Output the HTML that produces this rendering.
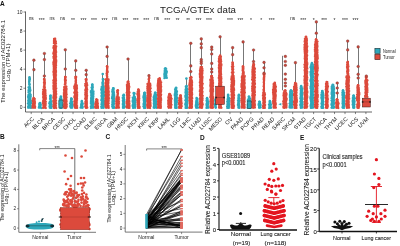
<!DOCTYPE html>
<html><head><meta charset="utf-8"><style>
html,body{margin:0;padding:0;background:#fff;width:400px;height:246px;overflow:hidden}
svg{display:block}
text{font-family:"Liberation Sans",sans-serif}
svg{will-change:transform}
</style></head><body>
<svg width="400" height="246" viewBox="0 0 400 246">
<rect width="400" height="246" fill="#fff"/>
<text x="0.00" y="5.90" font-size="6.5" font-weight="bold" fill="#111" >A</text>
<text x="198.00" y="13.20" font-size="9.7" text-anchor="middle" textLength="76" lengthAdjust="spacingAndGlyphs" fill="#1a1a1a" >TCGA/GTEx data</text>
<line x1="25.50" y1="11.50" x2="25.50" y2="112.00" stroke="#333" stroke-width="0.75"/>
<line x1="25.50" y1="112.00" x2="372.00" y2="112.00" stroke="#333" stroke-width="0.75"/>
<line x1="23.50" y1="107.30" x2="25.50" y2="107.30" stroke="#333" stroke-width="0.6"/>
<text x="22.50" y="109.00" font-size="4.9" text-anchor="end" fill="#1a1a1a" >0</text>
<line x1="23.50" y1="88.24" x2="25.50" y2="88.24" stroke="#333" stroke-width="0.6"/>
<text x="22.50" y="89.94" font-size="4.9" text-anchor="end" fill="#1a1a1a" >2</text>
<line x1="23.50" y1="69.18" x2="25.50" y2="69.18" stroke="#333" stroke-width="0.6"/>
<text x="22.50" y="70.88" font-size="4.9" text-anchor="end" fill="#1a1a1a" >4</text>
<line x1="23.50" y1="50.12" x2="25.50" y2="50.12" stroke="#333" stroke-width="0.6"/>
<text x="22.50" y="51.82" font-size="4.9" text-anchor="end" fill="#1a1a1a" >6</text>
<line x1="23.50" y1="31.06" x2="25.50" y2="31.06" stroke="#333" stroke-width="0.6"/>
<text x="22.50" y="32.76" font-size="4.9" text-anchor="end" fill="#1a1a1a" >8</text>
<line x1="23.50" y1="12.00" x2="25.50" y2="12.00" stroke="#333" stroke-width="0.6"/>
<text x="22.50" y="13.70" font-size="4.9" text-anchor="end" fill="#1a1a1a" >10</text>
<g transform="translate(4.8,61.4) rotate(-90)"><text x="0" y="0" font-size="6.0" text-anchor="middle" fill="#1a1a1a" font-family="Liberation Sans, sans-serif" textLength="83" lengthAdjust="spacingAndGlyphs">The expression of AC022784.1</text></g>
<g transform="translate(9.7,62.3) rotate(-90)"><text x="0" y="0" font-size="6.0" text-anchor="middle" fill="#1a1a1a" font-family="Liberation Sans, sans-serif" textLength="37.5" lengthAdjust="spacingAndGlyphs">Log<tspan font-size="4.1" dy="1.1">2</tspan><tspan dy="-1.1"> (TPM+1)</tspan></text></g>
<line x1="31.20" y1="112.00" x2="31.20" y2="114.10" stroke="#333" stroke-width="0.6"/>
<g transform="translate(34.30,119.5) rotate(-45)"><text x="0" y="0" font-size="5.6" text-anchor="end" fill="#111" font-family="Liberation Sans, sans-serif">ACC</text></g>
<text x="31.20" y="20.20" font-size="4.8" text-anchor="middle" fill="#222" >ns</text>
<line x1="41.66" y1="112.00" x2="41.66" y2="114.10" stroke="#333" stroke-width="0.6"/>
<g transform="translate(44.76,119.5) rotate(-45)"><text x="0" y="0" font-size="5.6" text-anchor="end" fill="#111" font-family="Liberation Sans, sans-serif">BLCA</text></g>
<text x="41.66" y="21.60" font-size="5.0" text-anchor="middle" fill="#222" >***</text>
<line x1="52.12" y1="112.00" x2="52.12" y2="114.10" stroke="#333" stroke-width="0.6"/>
<g transform="translate(55.22,119.5) rotate(-45)"><text x="0" y="0" font-size="5.6" text-anchor="end" fill="#111" font-family="Liberation Sans, sans-serif">BRCA</text></g>
<text x="52.12" y="20.20" font-size="4.8" text-anchor="middle" fill="#222" >ns</text>
<line x1="62.58" y1="112.00" x2="62.58" y2="114.10" stroke="#333" stroke-width="0.6"/>
<g transform="translate(65.68,119.5) rotate(-45)"><text x="0" y="0" font-size="5.6" text-anchor="end" fill="#111" font-family="Liberation Sans, sans-serif">CESC</text></g>
<text x="62.58" y="20.20" font-size="4.8" text-anchor="middle" fill="#222" >ns</text>
<line x1="73.04" y1="112.00" x2="73.04" y2="114.10" stroke="#333" stroke-width="0.6"/>
<g transform="translate(76.14,119.5) rotate(-45)"><text x="0" y="0" font-size="5.6" text-anchor="end" fill="#111" font-family="Liberation Sans, sans-serif">CHOL</text></g>
<text x="73.04" y="21.60" font-size="5.0" text-anchor="middle" fill="#222" >**</text>
<line x1="83.50" y1="112.00" x2="83.50" y2="114.10" stroke="#333" stroke-width="0.6"/>
<g transform="translate(86.60,119.5) rotate(-45)"><text x="0" y="0" font-size="5.6" text-anchor="end" fill="#111" font-family="Liberation Sans, sans-serif">COAD</text></g>
<text x="83.50" y="21.60" font-size="5.0" text-anchor="middle" fill="#222" >***</text>
<line x1="93.96" y1="112.00" x2="93.96" y2="114.10" stroke="#333" stroke-width="0.6"/>
<g transform="translate(97.06,119.5) rotate(-45)"><text x="0" y="0" font-size="5.6" text-anchor="end" fill="#111" font-family="Liberation Sans, sans-serif">DLBC</text></g>
<text x="93.96" y="21.60" font-size="5.0" text-anchor="middle" fill="#222" >***</text>
<line x1="104.42" y1="112.00" x2="104.42" y2="114.10" stroke="#333" stroke-width="0.6"/>
<g transform="translate(107.52,119.5) rotate(-45)"><text x="0" y="0" font-size="5.6" text-anchor="end" fill="#111" font-family="Liberation Sans, sans-serif">ESCA</text></g>
<text x="104.42" y="21.60" font-size="5.0" text-anchor="middle" fill="#222" >***</text>
<line x1="114.88" y1="112.00" x2="114.88" y2="114.10" stroke="#333" stroke-width="0.6"/>
<g transform="translate(117.98,119.5) rotate(-45)"><text x="0" y="0" font-size="5.6" text-anchor="end" fill="#111" font-family="Liberation Sans, sans-serif">GBM</text></g>
<text x="114.88" y="20.20" font-size="4.8" text-anchor="middle" fill="#222" >ns</text>
<line x1="125.34" y1="112.00" x2="125.34" y2="114.10" stroke="#333" stroke-width="0.6"/>
<g transform="translate(128.44,119.5) rotate(-45)"><text x="0" y="0" font-size="5.6" text-anchor="end" fill="#111" font-family="Liberation Sans, sans-serif">HNSC</text></g>
<text x="125.34" y="21.60" font-size="5.0" text-anchor="middle" fill="#222" >***</text>
<line x1="135.80" y1="112.00" x2="135.80" y2="114.10" stroke="#333" stroke-width="0.6"/>
<g transform="translate(138.90,119.5) rotate(-45)"><text x="0" y="0" font-size="5.6" text-anchor="end" fill="#111" font-family="Liberation Sans, sans-serif">KICH</text></g>
<text x="135.80" y="21.60" font-size="5.0" text-anchor="middle" fill="#222" >***</text>
<line x1="146.26" y1="112.00" x2="146.26" y2="114.10" stroke="#333" stroke-width="0.6"/>
<g transform="translate(149.36,119.5) rotate(-45)"><text x="0" y="0" font-size="5.6" text-anchor="end" fill="#111" font-family="Liberation Sans, sans-serif">KIRC</text></g>
<text x="146.26" y="21.60" font-size="5.0" text-anchor="middle" fill="#222" >***</text>
<line x1="156.72" y1="112.00" x2="156.72" y2="114.10" stroke="#333" stroke-width="0.6"/>
<g transform="translate(159.82,119.5) rotate(-45)"><text x="0" y="0" font-size="5.6" text-anchor="end" fill="#111" font-family="Liberation Sans, sans-serif">KIRP</text></g>
<text x="156.72" y="20.20" font-size="4.8" text-anchor="middle" fill="#222" >ns</text>
<line x1="167.18" y1="112.00" x2="167.18" y2="114.10" stroke="#333" stroke-width="0.6"/>
<g transform="translate(170.28,119.5) rotate(-45)"><text x="0" y="0" font-size="5.6" text-anchor="end" fill="#111" font-family="Liberation Sans, sans-serif">LAML</text></g>
<text x="167.18" y="21.60" font-size="5.0" text-anchor="middle" fill="#222" >***</text>
<line x1="177.64" y1="112.00" x2="177.64" y2="114.10" stroke="#333" stroke-width="0.6"/>
<g transform="translate(180.74,119.5) rotate(-45)"><text x="0" y="0" font-size="5.6" text-anchor="end" fill="#111" font-family="Liberation Sans, sans-serif">LGG</text></g>
<text x="177.64" y="21.60" font-size="5.0" text-anchor="middle" fill="#222" >**</text>
<line x1="188.10" y1="112.00" x2="188.10" y2="114.10" stroke="#333" stroke-width="0.6"/>
<g transform="translate(191.20,119.5) rotate(-45)"><text x="0" y="0" font-size="5.6" text-anchor="end" fill="#111" font-family="Liberation Sans, sans-serif">LIHC</text></g>
<text x="188.10" y="21.60" font-size="5.0" text-anchor="middle" fill="#222" >**</text>
<line x1="198.56" y1="112.00" x2="198.56" y2="114.10" stroke="#333" stroke-width="0.6"/>
<g transform="translate(201.66,119.5) rotate(-45)"><text x="0" y="0" font-size="5.6" text-anchor="end" fill="#111" font-family="Liberation Sans, sans-serif">LUAD</text></g>
<text x="198.56" y="21.60" font-size="5.0" text-anchor="middle" fill="#222" >***</text>
<line x1="209.02" y1="112.00" x2="209.02" y2="114.10" stroke="#333" stroke-width="0.6"/>
<g transform="translate(212.12,119.5) rotate(-45)"><text x="0" y="0" font-size="5.6" text-anchor="end" fill="#111" font-family="Liberation Sans, sans-serif">LUSC</text></g>
<text x="209.02" y="21.60" font-size="5.0" text-anchor="middle" fill="#222" >***</text>
<line x1="219.48" y1="112.00" x2="219.48" y2="114.10" stroke="#333" stroke-width="0.6"/>
<g transform="translate(222.58,119.5) rotate(-45)"><text x="0" y="0" font-size="5.6" text-anchor="end" fill="#111" font-family="Liberation Sans, sans-serif">MESO</text></g>
<line x1="229.94" y1="112.00" x2="229.94" y2="114.10" stroke="#333" stroke-width="0.6"/>
<g transform="translate(233.04,119.5) rotate(-45)"><text x="0" y="0" font-size="5.6" text-anchor="end" fill="#111" font-family="Liberation Sans, sans-serif">OV</text></g>
<text x="229.94" y="21.60" font-size="5.0" text-anchor="middle" fill="#222" >***</text>
<line x1="240.40" y1="112.00" x2="240.40" y2="114.10" stroke="#333" stroke-width="0.6"/>
<g transform="translate(243.50,119.5) rotate(-45)"><text x="0" y="0" font-size="5.6" text-anchor="end" fill="#111" font-family="Liberation Sans, sans-serif">PAAD</text></g>
<text x="240.40" y="21.60" font-size="5.0" text-anchor="middle" fill="#222" >***</text>
<line x1="250.86" y1="112.00" x2="250.86" y2="114.10" stroke="#333" stroke-width="0.6"/>
<g transform="translate(253.96,119.5) rotate(-45)"><text x="0" y="0" font-size="5.6" text-anchor="end" fill="#111" font-family="Liberation Sans, sans-serif">PCPG</text></g>
<text x="250.86" y="21.60" font-size="5.0" text-anchor="middle" fill="#222" >*</text>
<line x1="261.32" y1="112.00" x2="261.32" y2="114.10" stroke="#333" stroke-width="0.6"/>
<g transform="translate(264.42,119.5) rotate(-45)"><text x="0" y="0" font-size="5.6" text-anchor="end" fill="#111" font-family="Liberation Sans, sans-serif">PRAD</text></g>
<text x="261.32" y="21.60" font-size="5.0" text-anchor="middle" fill="#222" >*</text>
<line x1="271.78" y1="112.00" x2="271.78" y2="114.10" stroke="#333" stroke-width="0.6"/>
<g transform="translate(274.88,119.5) rotate(-45)"><text x="0" y="0" font-size="5.6" text-anchor="end" fill="#111" font-family="Liberation Sans, sans-serif">READ</text></g>
<text x="271.78" y="21.60" font-size="5.0" text-anchor="middle" fill="#222" >***</text>
<line x1="282.24" y1="112.00" x2="282.24" y2="114.10" stroke="#333" stroke-width="0.6"/>
<g transform="translate(285.34,119.5) rotate(-45)"><text x="0" y="0" font-size="5.6" text-anchor="end" fill="#111" font-family="Liberation Sans, sans-serif">SARC</text></g>
<line x1="292.70" y1="112.00" x2="292.70" y2="114.10" stroke="#333" stroke-width="0.6"/>
<g transform="translate(295.80,119.5) rotate(-45)"><text x="0" y="0" font-size="5.6" text-anchor="end" fill="#111" font-family="Liberation Sans, sans-serif">SKCM</text></g>
<text x="292.70" y="20.20" font-size="4.8" text-anchor="middle" fill="#222" >ns</text>
<line x1="303.16" y1="112.00" x2="303.16" y2="114.10" stroke="#333" stroke-width="0.6"/>
<g transform="translate(306.26,119.5) rotate(-45)"><text x="0" y="0" font-size="5.6" text-anchor="end" fill="#111" font-family="Liberation Sans, sans-serif">STAD</text></g>
<text x="303.16" y="21.60" font-size="5.0" text-anchor="middle" fill="#222" >***</text>
<line x1="313.62" y1="112.00" x2="313.62" y2="114.10" stroke="#333" stroke-width="0.6"/>
<g transform="translate(316.72,119.5) rotate(-45)"><text x="0" y="0" font-size="5.6" text-anchor="end" fill="#111" font-family="Liberation Sans, sans-serif">TGCT</text></g>
<text x="313.62" y="21.60" font-size="5.0" text-anchor="middle" fill="#222" >*</text>
<line x1="324.08" y1="112.00" x2="324.08" y2="114.10" stroke="#333" stroke-width="0.6"/>
<g transform="translate(327.18,119.5) rotate(-45)"><text x="0" y="0" font-size="5.6" text-anchor="end" fill="#111" font-family="Liberation Sans, sans-serif">THCA</text></g>
<text x="324.08" y="21.60" font-size="5.0" text-anchor="middle" fill="#222" >***</text>
<line x1="334.54" y1="112.00" x2="334.54" y2="114.10" stroke="#333" stroke-width="0.6"/>
<g transform="translate(337.64,119.5) rotate(-45)"><text x="0" y="0" font-size="5.6" text-anchor="end" fill="#111" font-family="Liberation Sans, sans-serif">THYM</text></g>
<text x="334.54" y="21.60" font-size="5.0" text-anchor="middle" fill="#222" >*</text>
<line x1="345.00" y1="112.00" x2="345.00" y2="114.10" stroke="#333" stroke-width="0.6"/>
<g transform="translate(348.10,119.5) rotate(-45)"><text x="0" y="0" font-size="5.6" text-anchor="end" fill="#111" font-family="Liberation Sans, sans-serif">UCEC</text></g>
<text x="345.00" y="21.60" font-size="5.0" text-anchor="middle" fill="#222" >***</text>
<line x1="355.46" y1="112.00" x2="355.46" y2="114.10" stroke="#333" stroke-width="0.6"/>
<g transform="translate(358.56,119.5) rotate(-45)"><text x="0" y="0" font-size="5.6" text-anchor="end" fill="#111" font-family="Liberation Sans, sans-serif">UCS</text></g>
<text x="355.46" y="21.60" font-size="5.0" text-anchor="middle" fill="#222" >***</text>
<line x1="365.92" y1="112.00" x2="365.92" y2="114.10" stroke="#333" stroke-width="0.6"/>
<g transform="translate(369.02,119.5) rotate(-45)"><text x="0" y="0" font-size="5.6" text-anchor="end" fill="#111" font-family="Liberation Sans, sans-serif">UVM</text></g>
<line x1="33.50" y1="60.20" x2="33.50" y2="98.00" stroke="#777" stroke-width="1.0"/>
<rect x="29.05" y="81.50" width="0.90" height="3.90" fill="#2ea7ba"/>
<rect x="28.80" y="79.00" width="1.4" height="3" fill="#2ea7ba"/>
<circle cx="29.13" cy="84.83" r="1.1" fill="#2ea7ba"/>
<circle cx="29.86" cy="84.79" r="1.1" fill="#2ea7ba"/>
<circle cx="29.28" cy="83.43" r="1.1" fill="#2ea7ba"/>
<circle cx="29.44" cy="83.50" r="1.1" fill="#2ea7ba"/>
<circle cx="28.99" cy="81.97" r="1.1" fill="#2ea7ba"/>
<circle cx="29.39" cy="81.80" r="1.1" fill="#2ea7ba"/>
<circle cx="29.45" cy="80.66" r="1.1" fill="#2ea7ba"/>
<circle cx="29.24" cy="80.36" r="1.1" fill="#2ea7ba"/>
<circle cx="29.78" cy="79.22" r="1.1" fill="#2ea7ba"/>
<circle cx="29.37" cy="78.95" r="1.1" fill="#2ea7ba"/>
<circle cx="29.79" cy="79.00" r="1.265" fill="#2ea7ba"/>
<rect x="28.55" y="86.80" width="1.90" height="5.60" fill="#2ea7ba"/>
<circle cx="28.43" cy="92.18" r="1.1" fill="#2ea7ba"/>
<circle cx="30.10" cy="91.82" r="1.1" fill="#2ea7ba"/>
<circle cx="28.48" cy="90.40" r="1.1" fill="#2ea7ba"/>
<circle cx="30.47" cy="90.34" r="1.1" fill="#2ea7ba"/>
<circle cx="28.81" cy="89.07" r="1.1" fill="#2ea7ba"/>
<circle cx="30.16" cy="89.02" r="1.1" fill="#2ea7ba"/>
<circle cx="28.44" cy="87.28" r="1.1" fill="#2ea7ba"/>
<circle cx="30.04" cy="87.59" r="1.1" fill="#2ea7ba"/>
<circle cx="29.46" cy="87.00" r="1.265" fill="#2ea7ba"/>
<rect x="28.00" y="93.80" width="3.00" height="14.40" fill="#2ea7ba"/>
<circle cx="28.07" cy="107.84" r="1.1" fill="#2ea7ba"/>
<circle cx="29.47" cy="107.70" r="1.1" fill="#2ea7ba"/>
<circle cx="31.01" cy="107.90" r="1.1" fill="#2ea7ba"/>
<circle cx="28.02" cy="106.34" r="1.1" fill="#2ea7ba"/>
<circle cx="29.52" cy="106.49" r="1.1" fill="#2ea7ba"/>
<circle cx="30.96" cy="106.19" r="1.1" fill="#2ea7ba"/>
<circle cx="28.54" cy="104.61" r="1.1" fill="#2ea7ba"/>
<circle cx="29.44" cy="104.93" r="1.1" fill="#2ea7ba"/>
<circle cx="30.56" cy="104.79" r="1.1" fill="#2ea7ba"/>
<circle cx="27.88" cy="103.38" r="1.1" fill="#2ea7ba"/>
<circle cx="29.69" cy="103.34" r="1.1" fill="#2ea7ba"/>
<circle cx="31.06" cy="103.21" r="1.1" fill="#2ea7ba"/>
<circle cx="28.34" cy="101.85" r="1.1" fill="#2ea7ba"/>
<circle cx="29.56" cy="101.78" r="1.1" fill="#2ea7ba"/>
<circle cx="31.04" cy="102.02" r="1.1" fill="#2ea7ba"/>
<circle cx="28.18" cy="100.38" r="1.1" fill="#2ea7ba"/>
<circle cx="29.19" cy="100.40" r="1.1" fill="#2ea7ba"/>
<circle cx="30.90" cy="100.55" r="1.1" fill="#2ea7ba"/>
<circle cx="28.43" cy="98.69" r="1.1" fill="#2ea7ba"/>
<circle cx="29.42" cy="98.88" r="1.1" fill="#2ea7ba"/>
<circle cx="30.47" cy="98.78" r="1.1" fill="#2ea7ba"/>
<circle cx="27.97" cy="97.11" r="1.1" fill="#2ea7ba"/>
<circle cx="29.19" cy="97.43" r="1.1" fill="#2ea7ba"/>
<circle cx="30.54" cy="97.17" r="1.1" fill="#2ea7ba"/>
<circle cx="28.12" cy="95.99" r="1.1" fill="#2ea7ba"/>
<circle cx="29.21" cy="95.77" r="1.1" fill="#2ea7ba"/>
<circle cx="30.83" cy="95.99" r="1.1" fill="#2ea7ba"/>
<circle cx="28.42" cy="94.48" r="1.1" fill="#2ea7ba"/>
<circle cx="29.34" cy="94.26" r="1.1" fill="#2ea7ba"/>
<circle cx="30.70" cy="94.49" r="1.1" fill="#2ea7ba"/>
<circle cx="29.77" cy="94.00" r="1.265" fill="#2ea7ba"/>
<rect x="32.50" y="100.50" width="2.80" height="7.70" fill="#dc4a3c"/>
<rect x="33.20" y="98.00" width="1.4" height="3" fill="#dc4a3c"/>
<circle cx="32.46" cy="107.64" r="1.1" fill="#dc4a3c"/>
<circle cx="33.71" cy="107.67" r="1.1" fill="#dc4a3c"/>
<circle cx="35.09" cy="107.84" r="1.1" fill="#dc4a3c"/>
<circle cx="32.53" cy="106.05" r="1.1" fill="#dc4a3c"/>
<circle cx="33.84" cy="106.23" r="1.1" fill="#dc4a3c"/>
<circle cx="35.15" cy="106.53" r="1.1" fill="#dc4a3c"/>
<circle cx="32.83" cy="104.81" r="1.1" fill="#dc4a3c"/>
<circle cx="33.98" cy="104.89" r="1.1" fill="#dc4a3c"/>
<circle cx="34.79" cy="105.00" r="1.1" fill="#dc4a3c"/>
<circle cx="32.90" cy="103.49" r="1.1" fill="#dc4a3c"/>
<circle cx="34.11" cy="103.25" r="1.1" fill="#dc4a3c"/>
<circle cx="35.03" cy="103.10" r="1.1" fill="#dc4a3c"/>
<circle cx="32.79" cy="101.58" r="1.1" fill="#dc4a3c"/>
<circle cx="33.60" cy="101.65" r="1.1" fill="#dc4a3c"/>
<circle cx="34.86" cy="101.72" r="1.1" fill="#dc4a3c"/>
<circle cx="32.65" cy="100.05" r="1.1" fill="#dc4a3c"/>
<circle cx="34.59" cy="100.10" r="1.1" fill="#dc4a3c"/>
<circle cx="33.20" cy="98.56" r="1.1" fill="#dc4a3c"/>
<circle cx="34.77" cy="98.86" r="1.1" fill="#dc4a3c"/>
<circle cx="33.69" cy="98.00" r="1.265" fill="#dc4a3c"/>
<circle cx="29.50" cy="77.20" r="1.3" fill="#2ea7ba"/>
<circle cx="33.90" cy="60.2" r="1.35" fill="#c8463a" stroke="#6a3a36" stroke-width="0.35"/>
<circle cx="33.90" cy="69.7" r="1.35" fill="#c8463a" stroke="#6a3a36" stroke-width="0.35"/>
<line x1="44.50" y1="53.50" x2="44.50" y2="79.00" stroke="#777" stroke-width="1.0"/>
<rect x="38.76" y="105.50" width="2.40" height="2.70" fill="#2ea7ba"/>
<rect x="39.26" y="103.00" width="1.4" height="3" fill="#2ea7ba"/>
<circle cx="38.79" cy="107.72" r="1.1" fill="#2ea7ba"/>
<circle cx="39.86" cy="107.61" r="1.1" fill="#2ea7ba"/>
<circle cx="41.20" cy="108.05" r="1.1" fill="#2ea7ba"/>
<circle cx="38.98" cy="106.29" r="1.1" fill="#2ea7ba"/>
<circle cx="40.63" cy="106.10" r="1.1" fill="#2ea7ba"/>
<circle cx="39.19" cy="104.68" r="1.1" fill="#2ea7ba"/>
<circle cx="40.85" cy="104.63" r="1.1" fill="#2ea7ba"/>
<circle cx="39.27" cy="103.53" r="1.1" fill="#2ea7ba"/>
<circle cx="40.34" cy="103.12" r="1.1" fill="#2ea7ba"/>
<circle cx="39.99" cy="103.00" r="1.265" fill="#2ea7ba"/>
<rect x="43.91" y="81.50" width="0.90" height="5.90" fill="#dc4a3c"/>
<rect x="43.66" y="79.00" width="1.4" height="3" fill="#dc4a3c"/>
<circle cx="43.78" cy="87.01" r="1.1" fill="#dc4a3c"/>
<circle cx="44.94" cy="87.18" r="1.1" fill="#dc4a3c"/>
<circle cx="44.25" cy="85.38" r="1.1" fill="#dc4a3c"/>
<circle cx="44.52" cy="85.33" r="1.1" fill="#dc4a3c"/>
<circle cx="44.30" cy="84.02" r="1.1" fill="#dc4a3c"/>
<circle cx="44.81" cy="83.91" r="1.1" fill="#dc4a3c"/>
<circle cx="43.92" cy="82.66" r="1.1" fill="#dc4a3c"/>
<circle cx="44.95" cy="82.68" r="1.1" fill="#dc4a3c"/>
<circle cx="44.51" cy="81.16" r="1.1" fill="#dc4a3c"/>
<circle cx="44.59" cy="80.86" r="1.1" fill="#dc4a3c"/>
<circle cx="44.50" cy="79.43" r="1.1" fill="#dc4a3c"/>
<circle cx="43.91" cy="79.26" r="1.1" fill="#dc4a3c"/>
<circle cx="44.23" cy="79.00" r="1.265" fill="#dc4a3c"/>
<rect x="42.96" y="88.80" width="2.80" height="19.40" fill="#dc4a3c"/>
<circle cx="42.99" cy="107.90" r="1.1" fill="#dc4a3c"/>
<circle cx="44.68" cy="107.77" r="1.1" fill="#dc4a3c"/>
<circle cx="45.87" cy="108.04" r="1.1" fill="#dc4a3c"/>
<circle cx="43.48" cy="106.23" r="1.1" fill="#dc4a3c"/>
<circle cx="44.16" cy="106.16" r="1.1" fill="#dc4a3c"/>
<circle cx="45.35" cy="106.15" r="1.1" fill="#dc4a3c"/>
<circle cx="43.25" cy="105.00" r="1.1" fill="#dc4a3c"/>
<circle cx="44.60" cy="104.79" r="1.1" fill="#dc4a3c"/>
<circle cx="45.67" cy="104.95" r="1.1" fill="#dc4a3c"/>
<circle cx="42.87" cy="103.38" r="1.1" fill="#dc4a3c"/>
<circle cx="44.65" cy="103.44" r="1.1" fill="#dc4a3c"/>
<circle cx="45.74" cy="103.29" r="1.1" fill="#dc4a3c"/>
<circle cx="42.93" cy="101.94" r="1.1" fill="#dc4a3c"/>
<circle cx="44.24" cy="101.95" r="1.1" fill="#dc4a3c"/>
<circle cx="45.89" cy="101.75" r="1.1" fill="#dc4a3c"/>
<circle cx="43.09" cy="100.52" r="1.1" fill="#dc4a3c"/>
<circle cx="44.52" cy="100.14" r="1.1" fill="#dc4a3c"/>
<circle cx="45.30" cy="100.13" r="1.1" fill="#dc4a3c"/>
<circle cx="43.44" cy="98.95" r="1.1" fill="#dc4a3c"/>
<circle cx="44.11" cy="98.96" r="1.1" fill="#dc4a3c"/>
<circle cx="45.90" cy="98.88" r="1.1" fill="#dc4a3c"/>
<circle cx="43.06" cy="97.32" r="1.1" fill="#dc4a3c"/>
<circle cx="44.10" cy="97.06" r="1.1" fill="#dc4a3c"/>
<circle cx="45.89" cy="97.37" r="1.1" fill="#dc4a3c"/>
<circle cx="43.18" cy="96.02" r="1.1" fill="#dc4a3c"/>
<circle cx="44.31" cy="95.99" r="1.1" fill="#dc4a3c"/>
<circle cx="45.79" cy="95.66" r="1.1" fill="#dc4a3c"/>
<circle cx="42.99" cy="94.20" r="1.1" fill="#dc4a3c"/>
<circle cx="44.18" cy="94.34" r="1.1" fill="#dc4a3c"/>
<circle cx="45.39" cy="94.26" r="1.1" fill="#dc4a3c"/>
<circle cx="42.90" cy="93.01" r="1.1" fill="#dc4a3c"/>
<circle cx="44.26" cy="92.78" r="1.1" fill="#dc4a3c"/>
<circle cx="45.62" cy="93.00" r="1.1" fill="#dc4a3c"/>
<circle cx="43.10" cy="91.51" r="1.1" fill="#dc4a3c"/>
<circle cx="44.36" cy="91.32" r="1.1" fill="#dc4a3c"/>
<circle cx="45.58" cy="91.06" r="1.1" fill="#dc4a3c"/>
<circle cx="43.12" cy="89.64" r="1.1" fill="#dc4a3c"/>
<circle cx="44.01" cy="89.95" r="1.1" fill="#dc4a3c"/>
<circle cx="45.33" cy="89.79" r="1.1" fill="#dc4a3c"/>
<circle cx="44.50" cy="89.00" r="1.265" fill="#dc4a3c"/>
<circle cx="44.36" cy="53.5" r="1.35" fill="#c8463a" stroke="#6a3a36" stroke-width="0.35"/>
<circle cx="44.36" cy="59.6" r="1.35" fill="#c8463a" stroke="#6a3a36" stroke-width="0.35"/>
<circle cx="44.36" cy="76" r="1.35" fill="#c8463a" stroke="#6a3a36" stroke-width="0.35"/>
<rect x="49.72" y="97.90" width="1.40" height="1.50" fill="#2ea7ba"/>
<rect x="49.72" y="95.40" width="1.4" height="3" fill="#2ea7ba"/>
<circle cx="49.96" cy="98.91" r="1.1" fill="#2ea7ba"/>
<circle cx="50.93" cy="99.03" r="1.1" fill="#2ea7ba"/>
<circle cx="50.33" cy="97.30" r="1.1" fill="#2ea7ba"/>
<circle cx="50.75" cy="97.37" r="1.1" fill="#2ea7ba"/>
<circle cx="50.20" cy="96.14" r="1.1" fill="#2ea7ba"/>
<circle cx="50.49" cy="96.03" r="1.1" fill="#2ea7ba"/>
<circle cx="50.58" cy="95.40" r="1.265" fill="#2ea7ba"/>
<rect x="49.22" y="100.80" width="2.40" height="7.40" fill="#2ea7ba"/>
<circle cx="49.71" cy="107.77" r="1.1" fill="#2ea7ba"/>
<circle cx="50.50" cy="107.80" r="1.1" fill="#2ea7ba"/>
<circle cx="51.43" cy="107.90" r="1.1" fill="#2ea7ba"/>
<circle cx="49.39" cy="106.32" r="1.1" fill="#2ea7ba"/>
<circle cx="50.40" cy="106.52" r="1.1" fill="#2ea7ba"/>
<circle cx="51.56" cy="106.49" r="1.1" fill="#2ea7ba"/>
<circle cx="49.73" cy="104.68" r="1.1" fill="#2ea7ba"/>
<circle cx="50.46" cy="105.02" r="1.1" fill="#2ea7ba"/>
<circle cx="51.66" cy="104.62" r="1.1" fill="#2ea7ba"/>
<circle cx="49.16" cy="103.27" r="1.1" fill="#2ea7ba"/>
<circle cx="50.12" cy="103.17" r="1.1" fill="#2ea7ba"/>
<circle cx="51.12" cy="103.38" r="1.1" fill="#2ea7ba"/>
<circle cx="49.62" cy="102.00" r="1.1" fill="#2ea7ba"/>
<circle cx="50.18" cy="101.91" r="1.1" fill="#2ea7ba"/>
<circle cx="51.53" cy="101.62" r="1.1" fill="#2ea7ba"/>
<circle cx="50.65" cy="101.00" r="1.265" fill="#2ea7ba"/>
<rect x="53.32" y="41.50" width="3.00" height="2.20" fill="#dc4a3c"/>
<rect x="54.12" y="39.00" width="1.4" height="3" fill="#dc4a3c"/>
<circle cx="53.85" cy="43.16" r="1.1" fill="#dc4a3c"/>
<circle cx="55.14" cy="43.25" r="1.1" fill="#dc4a3c"/>
<circle cx="56.11" cy="43.54" r="1.1" fill="#dc4a3c"/>
<circle cx="53.91" cy="41.63" r="1.1" fill="#dc4a3c"/>
<circle cx="55.91" cy="41.81" r="1.1" fill="#dc4a3c"/>
<circle cx="53.91" cy="40.15" r="1.1" fill="#dc4a3c"/>
<circle cx="55.49" cy="40.41" r="1.1" fill="#dc4a3c"/>
<circle cx="54.03" cy="38.83" r="1.1" fill="#dc4a3c"/>
<circle cx="55.23" cy="38.56" r="1.1" fill="#dc4a3c"/>
<circle cx="54.72" cy="39.00" r="1.265" fill="#dc4a3c"/>
<rect x="53.42" y="45.10" width="2.80" height="63.10" fill="#dc4a3c"/>
<circle cx="53.71" cy="107.81" r="1.1" fill="#dc4a3c"/>
<circle cx="54.52" cy="108.04" r="1.1" fill="#dc4a3c"/>
<circle cx="56.22" cy="108.04" r="1.1" fill="#dc4a3c"/>
<circle cx="53.34" cy="106.18" r="1.1" fill="#dc4a3c"/>
<circle cx="54.50" cy="106.44" r="1.1" fill="#dc4a3c"/>
<circle cx="55.86" cy="106.11" r="1.1" fill="#dc4a3c"/>
<circle cx="53.57" cy="105.01" r="1.1" fill="#dc4a3c"/>
<circle cx="55.04" cy="104.68" r="1.1" fill="#dc4a3c"/>
<circle cx="55.77" cy="105.01" r="1.1" fill="#dc4a3c"/>
<circle cx="53.67" cy="103.40" r="1.1" fill="#dc4a3c"/>
<circle cx="54.53" cy="103.08" r="1.1" fill="#dc4a3c"/>
<circle cx="56.15" cy="103.26" r="1.1" fill="#dc4a3c"/>
<circle cx="53.32" cy="102.02" r="1.1" fill="#dc4a3c"/>
<circle cx="54.91" cy="101.95" r="1.1" fill="#dc4a3c"/>
<circle cx="55.73" cy="101.98" r="1.1" fill="#dc4a3c"/>
<circle cx="53.32" cy="100.48" r="1.1" fill="#dc4a3c"/>
<circle cx="54.79" cy="100.22" r="1.1" fill="#dc4a3c"/>
<circle cx="56.06" cy="100.51" r="1.1" fill="#dc4a3c"/>
<circle cx="53.46" cy="98.61" r="1.1" fill="#dc4a3c"/>
<circle cx="54.84" cy="98.67" r="1.1" fill="#dc4a3c"/>
<circle cx="55.75" cy="98.63" r="1.1" fill="#dc4a3c"/>
<circle cx="53.31" cy="97.15" r="1.1" fill="#dc4a3c"/>
<circle cx="54.69" cy="97.20" r="1.1" fill="#dc4a3c"/>
<circle cx="56.20" cy="97.19" r="1.1" fill="#dc4a3c"/>
<circle cx="53.62" cy="95.64" r="1.1" fill="#dc4a3c"/>
<circle cx="54.71" cy="95.56" r="1.1" fill="#dc4a3c"/>
<circle cx="55.85" cy="95.56" r="1.1" fill="#dc4a3c"/>
<circle cx="53.78" cy="94.33" r="1.1" fill="#dc4a3c"/>
<circle cx="54.60" cy="94.29" r="1.1" fill="#dc4a3c"/>
<circle cx="56.32" cy="94.10" r="1.1" fill="#dc4a3c"/>
<circle cx="53.84" cy="92.77" r="1.1" fill="#dc4a3c"/>
<circle cx="54.82" cy="92.97" r="1.1" fill="#dc4a3c"/>
<circle cx="55.95" cy="92.80" r="1.1" fill="#dc4a3c"/>
<circle cx="53.75" cy="91.54" r="1.1" fill="#dc4a3c"/>
<circle cx="54.71" cy="91.47" r="1.1" fill="#dc4a3c"/>
<circle cx="56.16" cy="91.37" r="1.1" fill="#dc4a3c"/>
<circle cx="53.55" cy="89.72" r="1.1" fill="#dc4a3c"/>
<circle cx="54.51" cy="89.61" r="1.1" fill="#dc4a3c"/>
<circle cx="55.72" cy="89.92" r="1.1" fill="#dc4a3c"/>
<circle cx="53.45" cy="88.13" r="1.1" fill="#dc4a3c"/>
<circle cx="54.53" cy="88.47" r="1.1" fill="#dc4a3c"/>
<circle cx="56.28" cy="88.39" r="1.1" fill="#dc4a3c"/>
<circle cx="53.47" cy="86.67" r="1.1" fill="#dc4a3c"/>
<circle cx="54.68" cy="86.78" r="1.1" fill="#dc4a3c"/>
<circle cx="55.78" cy="86.77" r="1.1" fill="#dc4a3c"/>
<circle cx="53.45" cy="85.53" r="1.1" fill="#dc4a3c"/>
<circle cx="55.15" cy="85.32" r="1.1" fill="#dc4a3c"/>
<circle cx="55.84" cy="85.53" r="1.1" fill="#dc4a3c"/>
<circle cx="53.49" cy="83.73" r="1.1" fill="#dc4a3c"/>
<circle cx="54.47" cy="83.74" r="1.1" fill="#dc4a3c"/>
<circle cx="56.00" cy="83.80" r="1.1" fill="#dc4a3c"/>
<circle cx="53.41" cy="82.30" r="1.1" fill="#dc4a3c"/>
<circle cx="54.47" cy="82.18" r="1.1" fill="#dc4a3c"/>
<circle cx="55.73" cy="82.25" r="1.1" fill="#dc4a3c"/>
<circle cx="53.30" cy="80.56" r="1.1" fill="#dc4a3c"/>
<circle cx="54.68" cy="80.67" r="1.1" fill="#dc4a3c"/>
<circle cx="56.08" cy="80.81" r="1.1" fill="#dc4a3c"/>
<circle cx="53.80" cy="79.38" r="1.1" fill="#dc4a3c"/>
<circle cx="54.97" cy="79.49" r="1.1" fill="#dc4a3c"/>
<circle cx="55.94" cy="79.21" r="1.1" fill="#dc4a3c"/>
<circle cx="53.96" cy="77.62" r="1.1" fill="#dc4a3c"/>
<circle cx="54.98" cy="77.87" r="1.1" fill="#dc4a3c"/>
<circle cx="55.70" cy="77.97" r="1.1" fill="#dc4a3c"/>
<circle cx="53.89" cy="76.36" r="1.1" fill="#dc4a3c"/>
<circle cx="54.98" cy="76.46" r="1.1" fill="#dc4a3c"/>
<circle cx="55.77" cy="76.31" r="1.1" fill="#dc4a3c"/>
<circle cx="53.62" cy="74.97" r="1.1" fill="#dc4a3c"/>
<circle cx="55.03" cy="74.96" r="1.1" fill="#dc4a3c"/>
<circle cx="56.08" cy="75.00" r="1.1" fill="#dc4a3c"/>
<circle cx="53.75" cy="73.40" r="1.1" fill="#dc4a3c"/>
<circle cx="54.63" cy="73.07" r="1.1" fill="#dc4a3c"/>
<circle cx="55.76" cy="73.23" r="1.1" fill="#dc4a3c"/>
<circle cx="53.34" cy="71.97" r="1.1" fill="#dc4a3c"/>
<circle cx="54.86" cy="71.86" r="1.1" fill="#dc4a3c"/>
<circle cx="56.11" cy="71.89" r="1.1" fill="#dc4a3c"/>
<circle cx="53.61" cy="70.05" r="1.1" fill="#dc4a3c"/>
<circle cx="55.03" cy="70.42" r="1.1" fill="#dc4a3c"/>
<circle cx="56.02" cy="70.32" r="1.1" fill="#dc4a3c"/>
<circle cx="53.73" cy="68.58" r="1.1" fill="#dc4a3c"/>
<circle cx="54.99" cy="68.68" r="1.1" fill="#dc4a3c"/>
<circle cx="55.72" cy="68.68" r="1.1" fill="#dc4a3c"/>
<circle cx="53.78" cy="67.15" r="1.1" fill="#dc4a3c"/>
<circle cx="54.99" cy="67.54" r="1.1" fill="#dc4a3c"/>
<circle cx="56.02" cy="67.24" r="1.1" fill="#dc4a3c"/>
<circle cx="53.61" cy="65.89" r="1.1" fill="#dc4a3c"/>
<circle cx="55.01" cy="65.86" r="1.1" fill="#dc4a3c"/>
<circle cx="56.12" cy="65.59" r="1.1" fill="#dc4a3c"/>
<circle cx="53.37" cy="64.18" r="1.1" fill="#dc4a3c"/>
<circle cx="54.99" cy="64.20" r="1.1" fill="#dc4a3c"/>
<circle cx="56.07" cy="64.06" r="1.1" fill="#dc4a3c"/>
<circle cx="53.31" cy="62.68" r="1.1" fill="#dc4a3c"/>
<circle cx="54.94" cy="62.90" r="1.1" fill="#dc4a3c"/>
<circle cx="56.14" cy="62.70" r="1.1" fill="#dc4a3c"/>
<circle cx="53.63" cy="61.28" r="1.1" fill="#dc4a3c"/>
<circle cx="54.80" cy="61.11" r="1.1" fill="#dc4a3c"/>
<circle cx="56.30" cy="61.15" r="1.1" fill="#dc4a3c"/>
<circle cx="53.95" cy="60.02" r="1.1" fill="#dc4a3c"/>
<circle cx="54.48" cy="59.78" r="1.1" fill="#dc4a3c"/>
<circle cx="56.24" cy="60.03" r="1.1" fill="#dc4a3c"/>
<circle cx="53.58" cy="58.18" r="1.1" fill="#dc4a3c"/>
<circle cx="54.62" cy="58.52" r="1.1" fill="#dc4a3c"/>
<circle cx="55.82" cy="58.34" r="1.1" fill="#dc4a3c"/>
<circle cx="53.37" cy="56.81" r="1.1" fill="#dc4a3c"/>
<circle cx="55.14" cy="56.62" r="1.1" fill="#dc4a3c"/>
<circle cx="56.24" cy="56.80" r="1.1" fill="#dc4a3c"/>
<circle cx="53.89" cy="55.40" r="1.1" fill="#dc4a3c"/>
<circle cx="54.63" cy="55.50" r="1.1" fill="#dc4a3c"/>
<circle cx="56.01" cy="55.06" r="1.1" fill="#dc4a3c"/>
<circle cx="53.27" cy="53.80" r="1.1" fill="#dc4a3c"/>
<circle cx="54.79" cy="53.70" r="1.1" fill="#dc4a3c"/>
<circle cx="55.77" cy="53.72" r="1.1" fill="#dc4a3c"/>
<circle cx="53.49" cy="52.47" r="1.1" fill="#dc4a3c"/>
<circle cx="54.47" cy="52.43" r="1.1" fill="#dc4a3c"/>
<circle cx="56.26" cy="52.11" r="1.1" fill="#dc4a3c"/>
<circle cx="53.92" cy="50.91" r="1.1" fill="#dc4a3c"/>
<circle cx="55.10" cy="50.69" r="1.1" fill="#dc4a3c"/>
<circle cx="55.93" cy="50.75" r="1.1" fill="#dc4a3c"/>
<circle cx="53.97" cy="49.34" r="1.1" fill="#dc4a3c"/>
<circle cx="54.72" cy="49.26" r="1.1" fill="#dc4a3c"/>
<circle cx="55.86" cy="49.07" r="1.1" fill="#dc4a3c"/>
<circle cx="53.34" cy="47.97" r="1.1" fill="#dc4a3c"/>
<circle cx="54.67" cy="48.02" r="1.1" fill="#dc4a3c"/>
<circle cx="55.84" cy="47.68" r="1.1" fill="#dc4a3c"/>
<circle cx="53.63" cy="46.14" r="1.1" fill="#dc4a3c"/>
<circle cx="54.73" cy="46.53" r="1.1" fill="#dc4a3c"/>
<circle cx="56.29" cy="46.46" r="1.1" fill="#dc4a3c"/>
<circle cx="54.90" cy="45.30" r="1.265" fill="#dc4a3c"/>
<line x1="65.50" y1="49.80" x2="65.50" y2="77.00" stroke="#777" stroke-width="1.0"/>
<rect x="59.68" y="99.10" width="2.40" height="9.10" fill="#2ea7ba"/>
<rect x="60.18" y="96.60" width="1.4" height="3" fill="#2ea7ba"/>
<circle cx="60.17" cy="108.02" r="1.1" fill="#2ea7ba"/>
<circle cx="60.91" cy="107.91" r="1.1" fill="#2ea7ba"/>
<circle cx="61.56" cy="107.92" r="1.1" fill="#2ea7ba"/>
<circle cx="59.85" cy="106.43" r="1.1" fill="#2ea7ba"/>
<circle cx="60.98" cy="106.19" r="1.1" fill="#2ea7ba"/>
<circle cx="61.56" cy="106.51" r="1.1" fill="#2ea7ba"/>
<circle cx="59.62" cy="104.79" r="1.1" fill="#2ea7ba"/>
<circle cx="60.77" cy="104.70" r="1.1" fill="#2ea7ba"/>
<circle cx="62.05" cy="105.04" r="1.1" fill="#2ea7ba"/>
<circle cx="59.71" cy="103.38" r="1.1" fill="#2ea7ba"/>
<circle cx="60.74" cy="103.33" r="1.1" fill="#2ea7ba"/>
<circle cx="61.81" cy="103.13" r="1.1" fill="#2ea7ba"/>
<circle cx="59.64" cy="101.65" r="1.1" fill="#2ea7ba"/>
<circle cx="61.16" cy="101.80" r="1.1" fill="#2ea7ba"/>
<circle cx="61.68" cy="102.00" r="1.1" fill="#2ea7ba"/>
<circle cx="60.23" cy="100.27" r="1.1" fill="#2ea7ba"/>
<circle cx="60.63" cy="100.15" r="1.1" fill="#2ea7ba"/>
<circle cx="61.59" cy="100.22" r="1.1" fill="#2ea7ba"/>
<circle cx="59.85" cy="98.67" r="1.1" fill="#2ea7ba"/>
<circle cx="61.45" cy="98.83" r="1.1" fill="#2ea7ba"/>
<circle cx="60.71" cy="97.42" r="1.1" fill="#2ea7ba"/>
<circle cx="61.26" cy="97.26" r="1.1" fill="#2ea7ba"/>
<circle cx="60.89" cy="96.60" r="1.265" fill="#2ea7ba"/>
<rect x="64.68" y="79.50" width="1.20" height="5.40" fill="#dc4a3c"/>
<rect x="64.58" y="77.00" width="1.4" height="3" fill="#dc4a3c"/>
<circle cx="64.79" cy="84.42" r="1.1" fill="#dc4a3c"/>
<circle cx="65.37" cy="84.39" r="1.1" fill="#dc4a3c"/>
<circle cx="65.21" cy="82.81" r="1.1" fill="#dc4a3c"/>
<circle cx="65.68" cy="83.06" r="1.1" fill="#dc4a3c"/>
<circle cx="65.13" cy="81.36" r="1.1" fill="#dc4a3c"/>
<circle cx="65.52" cy="81.37" r="1.1" fill="#dc4a3c"/>
<circle cx="64.88" cy="79.97" r="1.1" fill="#dc4a3c"/>
<circle cx="65.93" cy="80.17" r="1.1" fill="#dc4a3c"/>
<circle cx="65.42" cy="78.26" r="1.1" fill="#dc4a3c"/>
<circle cx="65.07" cy="78.60" r="1.1" fill="#dc4a3c"/>
<circle cx="65.65" cy="76.99" r="1.1" fill="#dc4a3c"/>
<circle cx="65.25" cy="76.75" r="1.1" fill="#dc4a3c"/>
<circle cx="65.21" cy="77.00" r="1.265" fill="#dc4a3c"/>
<rect x="63.78" y="86.30" width="3.00" height="21.90" fill="#dc4a3c"/>
<circle cx="64.28" cy="107.96" r="1.1" fill="#dc4a3c"/>
<circle cx="65.53" cy="108.04" r="1.1" fill="#dc4a3c"/>
<circle cx="66.40" cy="107.60" r="1.1" fill="#dc4a3c"/>
<circle cx="63.74" cy="106.31" r="1.1" fill="#dc4a3c"/>
<circle cx="65.41" cy="106.52" r="1.1" fill="#dc4a3c"/>
<circle cx="66.74" cy="106.37" r="1.1" fill="#dc4a3c"/>
<circle cx="64.17" cy="104.78" r="1.1" fill="#dc4a3c"/>
<circle cx="65.32" cy="104.57" r="1.1" fill="#dc4a3c"/>
<circle cx="66.78" cy="104.67" r="1.1" fill="#dc4a3c"/>
<circle cx="64.27" cy="103.37" r="1.1" fill="#dc4a3c"/>
<circle cx="65.14" cy="103.11" r="1.1" fill="#dc4a3c"/>
<circle cx="66.41" cy="103.37" r="1.1" fill="#dc4a3c"/>
<circle cx="64.12" cy="101.61" r="1.1" fill="#dc4a3c"/>
<circle cx="64.98" cy="101.81" r="1.1" fill="#dc4a3c"/>
<circle cx="66.64" cy="101.74" r="1.1" fill="#dc4a3c"/>
<circle cx="63.79" cy="100.35" r="1.1" fill="#dc4a3c"/>
<circle cx="64.94" cy="100.20" r="1.1" fill="#dc4a3c"/>
<circle cx="66.55" cy="100.53" r="1.1" fill="#dc4a3c"/>
<circle cx="64.08" cy="98.99" r="1.1" fill="#dc4a3c"/>
<circle cx="65.26" cy="98.67" r="1.1" fill="#dc4a3c"/>
<circle cx="66.40" cy="99.03" r="1.1" fill="#dc4a3c"/>
<circle cx="64.12" cy="97.20" r="1.1" fill="#dc4a3c"/>
<circle cx="64.95" cy="97.30" r="1.1" fill="#dc4a3c"/>
<circle cx="66.70" cy="97.26" r="1.1" fill="#dc4a3c"/>
<circle cx="63.81" cy="95.88" r="1.1" fill="#dc4a3c"/>
<circle cx="65.58" cy="95.66" r="1.1" fill="#dc4a3c"/>
<circle cx="66.25" cy="95.72" r="1.1" fill="#dc4a3c"/>
<circle cx="63.92" cy="94.39" r="1.1" fill="#dc4a3c"/>
<circle cx="65.07" cy="94.45" r="1.1" fill="#dc4a3c"/>
<circle cx="66.75" cy="94.30" r="1.1" fill="#dc4a3c"/>
<circle cx="63.77" cy="93.03" r="1.1" fill="#dc4a3c"/>
<circle cx="65.15" cy="92.96" r="1.1" fill="#dc4a3c"/>
<circle cx="66.39" cy="92.66" r="1.1" fill="#dc4a3c"/>
<circle cx="64.16" cy="91.20" r="1.1" fill="#dc4a3c"/>
<circle cx="65.60" cy="91.30" r="1.1" fill="#dc4a3c"/>
<circle cx="66.36" cy="91.16" r="1.1" fill="#dc4a3c"/>
<circle cx="63.92" cy="89.88" r="1.1" fill="#dc4a3c"/>
<circle cx="65.59" cy="89.62" r="1.1" fill="#dc4a3c"/>
<circle cx="66.51" cy="89.66" r="1.1" fill="#dc4a3c"/>
<circle cx="64.31" cy="88.12" r="1.1" fill="#dc4a3c"/>
<circle cx="64.97" cy="88.08" r="1.1" fill="#dc4a3c"/>
<circle cx="66.51" cy="88.50" r="1.1" fill="#dc4a3c"/>
<circle cx="64.25" cy="86.92" r="1.1" fill="#dc4a3c"/>
<circle cx="65.63" cy="87.02" r="1.1" fill="#dc4a3c"/>
<circle cx="66.46" cy="86.64" r="1.1" fill="#dc4a3c"/>
<circle cx="65.54" cy="86.50" r="1.265" fill="#dc4a3c"/>
<circle cx="65.28" cy="49.8" r="1.35" fill="#c8463a" stroke="#6a3a36" stroke-width="0.35"/>
<circle cx="65.28" cy="69" r="1.35" fill="#c8463a" stroke="#6a3a36" stroke-width="0.35"/>
<rect x="58.88" y="100" width="4" height="8.00" fill="none" stroke="#1b3a40" stroke-width="0.55"/>
<line x1="75.50" y1="60.90" x2="75.50" y2="77.00" stroke="#777" stroke-width="1.0"/>
<rect x="70.14" y="101.00" width="2.40" height="7.20" fill="#2ea7ba"/>
<rect x="70.64" y="98.50" width="1.4" height="3" fill="#2ea7ba"/>
<circle cx="70.51" cy="107.57" r="1.1" fill="#2ea7ba"/>
<circle cx="71.46" cy="107.74" r="1.1" fill="#2ea7ba"/>
<circle cx="72.25" cy="107.72" r="1.1" fill="#2ea7ba"/>
<circle cx="70.11" cy="106.05" r="1.1" fill="#2ea7ba"/>
<circle cx="71.19" cy="106.23" r="1.1" fill="#2ea7ba"/>
<circle cx="72.66" cy="106.11" r="1.1" fill="#2ea7ba"/>
<circle cx="70.66" cy="104.65" r="1.1" fill="#2ea7ba"/>
<circle cx="71.24" cy="104.96" r="1.1" fill="#2ea7ba"/>
<circle cx="72.57" cy="104.77" r="1.1" fill="#2ea7ba"/>
<circle cx="70.02" cy="103.29" r="1.1" fill="#2ea7ba"/>
<circle cx="71.25" cy="103.51" r="1.1" fill="#2ea7ba"/>
<circle cx="72.13" cy="103.23" r="1.1" fill="#2ea7ba"/>
<circle cx="70.66" cy="101.57" r="1.1" fill="#2ea7ba"/>
<circle cx="72.24" cy="101.96" r="1.1" fill="#2ea7ba"/>
<circle cx="70.87" cy="100.07" r="1.1" fill="#2ea7ba"/>
<circle cx="71.67" cy="100.08" r="1.1" fill="#2ea7ba"/>
<circle cx="71.27" cy="98.68" r="1.1" fill="#2ea7ba"/>
<circle cx="71.87" cy="99.00" r="1.1" fill="#2ea7ba"/>
<circle cx="71.24" cy="98.50" r="1.265" fill="#2ea7ba"/>
<rect x="75.29" y="79.50" width="0.90" height="3.90" fill="#dc4a3c"/>
<rect x="75.04" y="77.00" width="1.4" height="3" fill="#dc4a3c"/>
<circle cx="75.33" cy="83.23" r="1.1" fill="#dc4a3c"/>
<circle cx="76.07" cy="82.88" r="1.1" fill="#dc4a3c"/>
<circle cx="75.64" cy="81.41" r="1.1" fill="#dc4a3c"/>
<circle cx="75.83" cy="81.25" r="1.1" fill="#dc4a3c"/>
<circle cx="75.73" cy="80.21" r="1.1" fill="#dc4a3c"/>
<circle cx="76.02" cy="80.22" r="1.1" fill="#dc4a3c"/>
<circle cx="75.41" cy="78.37" r="1.1" fill="#dc4a3c"/>
<circle cx="75.72" cy="78.73" r="1.1" fill="#dc4a3c"/>
<circle cx="76.25" cy="76.94" r="1.1" fill="#dc4a3c"/>
<circle cx="75.38" cy="76.96" r="1.1" fill="#dc4a3c"/>
<circle cx="75.74" cy="77.00" r="1.265" fill="#dc4a3c"/>
<rect x="74.34" y="84.80" width="2.80" height="23.40" fill="#dc4a3c"/>
<circle cx="74.84" cy="107.64" r="1.1" fill="#dc4a3c"/>
<circle cx="75.95" cy="107.92" r="1.1" fill="#dc4a3c"/>
<circle cx="77.17" cy="107.94" r="1.1" fill="#dc4a3c"/>
<circle cx="74.62" cy="106.21" r="1.1" fill="#dc4a3c"/>
<circle cx="75.61" cy="106.23" r="1.1" fill="#dc4a3c"/>
<circle cx="77.14" cy="106.09" r="1.1" fill="#dc4a3c"/>
<circle cx="74.33" cy="104.93" r="1.1" fill="#dc4a3c"/>
<circle cx="75.56" cy="104.58" r="1.1" fill="#dc4a3c"/>
<circle cx="76.61" cy="104.83" r="1.1" fill="#dc4a3c"/>
<circle cx="74.42" cy="103.54" r="1.1" fill="#dc4a3c"/>
<circle cx="76.01" cy="103.54" r="1.1" fill="#dc4a3c"/>
<circle cx="76.78" cy="103.09" r="1.1" fill="#dc4a3c"/>
<circle cx="74.26" cy="101.80" r="1.1" fill="#dc4a3c"/>
<circle cx="75.89" cy="101.77" r="1.1" fill="#dc4a3c"/>
<circle cx="76.75" cy="101.76" r="1.1" fill="#dc4a3c"/>
<circle cx="74.62" cy="100.39" r="1.1" fill="#dc4a3c"/>
<circle cx="75.91" cy="100.47" r="1.1" fill="#dc4a3c"/>
<circle cx="77.06" cy="100.11" r="1.1" fill="#dc4a3c"/>
<circle cx="74.78" cy="98.70" r="1.1" fill="#dc4a3c"/>
<circle cx="75.79" cy="98.74" r="1.1" fill="#dc4a3c"/>
<circle cx="77.11" cy="98.65" r="1.1" fill="#dc4a3c"/>
<circle cx="74.36" cy="97.17" r="1.1" fill="#dc4a3c"/>
<circle cx="75.50" cy="97.49" r="1.1" fill="#dc4a3c"/>
<circle cx="76.99" cy="97.21" r="1.1" fill="#dc4a3c"/>
<circle cx="74.47" cy="96.05" r="1.1" fill="#dc4a3c"/>
<circle cx="75.75" cy="95.67" r="1.1" fill="#dc4a3c"/>
<circle cx="77.16" cy="95.88" r="1.1" fill="#dc4a3c"/>
<circle cx="74.88" cy="94.10" r="1.1" fill="#dc4a3c"/>
<circle cx="75.72" cy="94.46" r="1.1" fill="#dc4a3c"/>
<circle cx="77.18" cy="94.51" r="1.1" fill="#dc4a3c"/>
<circle cx="74.22" cy="92.70" r="1.1" fill="#dc4a3c"/>
<circle cx="75.47" cy="92.64" r="1.1" fill="#dc4a3c"/>
<circle cx="77.27" cy="92.84" r="1.1" fill="#dc4a3c"/>
<circle cx="74.84" cy="91.24" r="1.1" fill="#dc4a3c"/>
<circle cx="76.00" cy="91.27" r="1.1" fill="#dc4a3c"/>
<circle cx="76.77" cy="91.44" r="1.1" fill="#dc4a3c"/>
<circle cx="74.85" cy="89.60" r="1.1" fill="#dc4a3c"/>
<circle cx="75.81" cy="89.86" r="1.1" fill="#dc4a3c"/>
<circle cx="76.74" cy="89.73" r="1.1" fill="#dc4a3c"/>
<circle cx="74.29" cy="88.15" r="1.1" fill="#dc4a3c"/>
<circle cx="75.57" cy="88.35" r="1.1" fill="#dc4a3c"/>
<circle cx="77.05" cy="88.15" r="1.1" fill="#dc4a3c"/>
<circle cx="74.20" cy="86.71" r="1.1" fill="#dc4a3c"/>
<circle cx="75.86" cy="86.64" r="1.1" fill="#dc4a3c"/>
<circle cx="76.81" cy="86.65" r="1.1" fill="#dc4a3c"/>
<circle cx="74.75" cy="85.32" r="1.1" fill="#dc4a3c"/>
<circle cx="75.43" cy="85.10" r="1.1" fill="#dc4a3c"/>
<circle cx="76.87" cy="85.33" r="1.1" fill="#dc4a3c"/>
<circle cx="75.82" cy="85.00" r="1.265" fill="#dc4a3c"/>
<circle cx="75.74" cy="60.9" r="1.35" fill="#c8463a" stroke="#6a3a36" stroke-width="0.35"/>
<circle cx="75.74" cy="70.3" r="1.35" fill="#c8463a" stroke="#6a3a36" stroke-width="0.35"/>
<line x1="86.50" y1="70.30" x2="86.50" y2="79.60" stroke="#777" stroke-width="1.0"/>
<rect x="80.60" y="103.50" width="2.40" height="4.70" fill="#2ea7ba"/>
<rect x="81.10" y="101.00" width="1.4" height="3" fill="#2ea7ba"/>
<circle cx="80.51" cy="107.63" r="1.1" fill="#2ea7ba"/>
<circle cx="81.94" cy="107.75" r="1.1" fill="#2ea7ba"/>
<circle cx="82.65" cy="107.70" r="1.1" fill="#2ea7ba"/>
<circle cx="81.12" cy="106.21" r="1.1" fill="#2ea7ba"/>
<circle cx="81.85" cy="106.23" r="1.1" fill="#2ea7ba"/>
<circle cx="82.74" cy="106.48" r="1.1" fill="#2ea7ba"/>
<circle cx="81.15" cy="104.73" r="1.1" fill="#2ea7ba"/>
<circle cx="81.59" cy="104.91" r="1.1" fill="#2ea7ba"/>
<circle cx="82.59" cy="104.55" r="1.1" fill="#2ea7ba"/>
<circle cx="81.32" cy="103.26" r="1.1" fill="#2ea7ba"/>
<circle cx="82.78" cy="103.25" r="1.1" fill="#2ea7ba"/>
<circle cx="81.61" cy="101.78" r="1.1" fill="#2ea7ba"/>
<circle cx="82.02" cy="101.56" r="1.1" fill="#2ea7ba"/>
<circle cx="81.83" cy="101.00" r="1.265" fill="#2ea7ba"/>
<rect x="85.50" y="79.40" width="1.40" height="1.80" fill="#dc4a3c"/>
<circle cx="85.80" cy="81.00" r="1.1" fill="#dc4a3c"/>
<circle cx="86.41" cy="80.86" r="1.1" fill="#dc4a3c"/>
<circle cx="85.61" cy="79.30" r="1.1" fill="#dc4a3c"/>
<circle cx="86.45" cy="79.19" r="1.1" fill="#dc4a3c"/>
<circle cx="86.21" cy="79.60" r="1.265" fill="#dc4a3c"/>
<rect x="85.20" y="82.60" width="2.00" height="25.60" fill="#dc4a3c"/>
<circle cx="85.70" cy="107.60" r="1.1" fill="#dc4a3c"/>
<circle cx="86.19" cy="107.95" r="1.1" fill="#dc4a3c"/>
<circle cx="87.33" cy="107.65" r="1.1" fill="#dc4a3c"/>
<circle cx="85.14" cy="106.52" r="1.1" fill="#dc4a3c"/>
<circle cx="86.53" cy="106.29" r="1.1" fill="#dc4a3c"/>
<circle cx="86.69" cy="106.51" r="1.1" fill="#dc4a3c"/>
<circle cx="85.32" cy="105.00" r="1.1" fill="#dc4a3c"/>
<circle cx="86.28" cy="104.96" r="1.1" fill="#dc4a3c"/>
<circle cx="86.76" cy="104.94" r="1.1" fill="#dc4a3c"/>
<circle cx="85.21" cy="103.25" r="1.1" fill="#dc4a3c"/>
<circle cx="86.44" cy="103.46" r="1.1" fill="#dc4a3c"/>
<circle cx="86.78" cy="103.16" r="1.1" fill="#dc4a3c"/>
<circle cx="85.33" cy="101.81" r="1.1" fill="#dc4a3c"/>
<circle cx="86.12" cy="101.61" r="1.1" fill="#dc4a3c"/>
<circle cx="86.82" cy="101.91" r="1.1" fill="#dc4a3c"/>
<circle cx="85.68" cy="100.07" r="1.1" fill="#dc4a3c"/>
<circle cx="86.24" cy="100.43" r="1.1" fill="#dc4a3c"/>
<circle cx="86.68" cy="100.47" r="1.1" fill="#dc4a3c"/>
<circle cx="85.13" cy="98.85" r="1.1" fill="#dc4a3c"/>
<circle cx="86.24" cy="98.86" r="1.1" fill="#dc4a3c"/>
<circle cx="86.86" cy="98.76" r="1.1" fill="#dc4a3c"/>
<circle cx="85.46" cy="97.26" r="1.1" fill="#dc4a3c"/>
<circle cx="86.31" cy="97.27" r="1.1" fill="#dc4a3c"/>
<circle cx="86.96" cy="97.06" r="1.1" fill="#dc4a3c"/>
<circle cx="85.48" cy="95.79" r="1.1" fill="#dc4a3c"/>
<circle cx="86.01" cy="95.93" r="1.1" fill="#dc4a3c"/>
<circle cx="87.20" cy="95.78" r="1.1" fill="#dc4a3c"/>
<circle cx="85.18" cy="94.29" r="1.1" fill="#dc4a3c"/>
<circle cx="85.92" cy="94.11" r="1.1" fill="#dc4a3c"/>
<circle cx="86.95" cy="94.10" r="1.1" fill="#dc4a3c"/>
<circle cx="85.36" cy="92.81" r="1.1" fill="#dc4a3c"/>
<circle cx="85.88" cy="92.87" r="1.1" fill="#dc4a3c"/>
<circle cx="86.71" cy="92.92" r="1.1" fill="#dc4a3c"/>
<circle cx="85.59" cy="91.31" r="1.1" fill="#dc4a3c"/>
<circle cx="85.89" cy="91.30" r="1.1" fill="#dc4a3c"/>
<circle cx="86.91" cy="91.53" r="1.1" fill="#dc4a3c"/>
<circle cx="85.15" cy="89.98" r="1.1" fill="#dc4a3c"/>
<circle cx="86.55" cy="89.92" r="1.1" fill="#dc4a3c"/>
<circle cx="87.22" cy="89.65" r="1.1" fill="#dc4a3c"/>
<circle cx="85.74" cy="88.30" r="1.1" fill="#dc4a3c"/>
<circle cx="86.52" cy="88.51" r="1.1" fill="#dc4a3c"/>
<circle cx="86.77" cy="88.44" r="1.1" fill="#dc4a3c"/>
<circle cx="85.70" cy="86.58" r="1.1" fill="#dc4a3c"/>
<circle cx="86.10" cy="86.93" r="1.1" fill="#dc4a3c"/>
<circle cx="86.76" cy="87.00" r="1.1" fill="#dc4a3c"/>
<circle cx="85.24" cy="85.46" r="1.1" fill="#dc4a3c"/>
<circle cx="85.95" cy="85.30" r="1.1" fill="#dc4a3c"/>
<circle cx="87.29" cy="85.15" r="1.1" fill="#dc4a3c"/>
<circle cx="85.23" cy="83.80" r="1.1" fill="#dc4a3c"/>
<circle cx="86.07" cy="83.57" r="1.1" fill="#dc4a3c"/>
<circle cx="86.78" cy="83.63" r="1.1" fill="#dc4a3c"/>
<circle cx="86.46" cy="82.80" r="1.265" fill="#dc4a3c"/>
<circle cx="86.20" cy="70.3" r="1.35" fill="#c8463a" stroke="#6a3a36" stroke-width="0.35"/>
<circle cx="86.20" cy="74.7" r="1.35" fill="#c8463a" stroke="#6a3a36" stroke-width="0.35"/>
<rect x="91.46" y="87.20" width="1.60" height="2.20" fill="#2ea7ba"/>
<rect x="91.56" y="84.70" width="1.4" height="3" fill="#2ea7ba"/>
<circle cx="91.79" cy="89.20" r="1.1" fill="#2ea7ba"/>
<circle cx="92.63" cy="89.14" r="1.1" fill="#2ea7ba"/>
<circle cx="91.50" cy="87.52" r="1.1" fill="#2ea7ba"/>
<circle cx="92.84" cy="87.43" r="1.1" fill="#2ea7ba"/>
<circle cx="92.27" cy="86.03" r="1.1" fill="#2ea7ba"/>
<circle cx="92.56" cy="86.19" r="1.1" fill="#2ea7ba"/>
<circle cx="91.98" cy="84.75" r="1.1" fill="#2ea7ba"/>
<circle cx="92.36" cy="84.45" r="1.1" fill="#2ea7ba"/>
<circle cx="92.44" cy="84.70" r="1.265" fill="#2ea7ba"/>
<rect x="90.86" y="90.80" width="2.80" height="17.40" fill="#2ea7ba"/>
<circle cx="90.90" cy="108.05" r="1.1" fill="#2ea7ba"/>
<circle cx="92.31" cy="107.73" r="1.1" fill="#2ea7ba"/>
<circle cx="93.65" cy="107.77" r="1.1" fill="#2ea7ba"/>
<circle cx="90.83" cy="106.42" r="1.1" fill="#2ea7ba"/>
<circle cx="91.94" cy="106.46" r="1.1" fill="#2ea7ba"/>
<circle cx="93.29" cy="106.37" r="1.1" fill="#2ea7ba"/>
<circle cx="91.40" cy="104.84" r="1.1" fill="#2ea7ba"/>
<circle cx="92.37" cy="104.71" r="1.1" fill="#2ea7ba"/>
<circle cx="93.11" cy="104.57" r="1.1" fill="#2ea7ba"/>
<circle cx="90.81" cy="103.36" r="1.1" fill="#2ea7ba"/>
<circle cx="92.21" cy="103.31" r="1.1" fill="#2ea7ba"/>
<circle cx="93.74" cy="103.12" r="1.1" fill="#2ea7ba"/>
<circle cx="90.87" cy="101.88" r="1.1" fill="#2ea7ba"/>
<circle cx="91.93" cy="101.55" r="1.1" fill="#2ea7ba"/>
<circle cx="93.36" cy="101.60" r="1.1" fill="#2ea7ba"/>
<circle cx="90.96" cy="100.16" r="1.1" fill="#2ea7ba"/>
<circle cx="92.32" cy="100.34" r="1.1" fill="#2ea7ba"/>
<circle cx="93.25" cy="100.36" r="1.1" fill="#2ea7ba"/>
<circle cx="91.04" cy="98.62" r="1.1" fill="#2ea7ba"/>
<circle cx="92.57" cy="98.67" r="1.1" fill="#2ea7ba"/>
<circle cx="93.21" cy="98.60" r="1.1" fill="#2ea7ba"/>
<circle cx="91.16" cy="97.49" r="1.1" fill="#2ea7ba"/>
<circle cx="92.46" cy="97.25" r="1.1" fill="#2ea7ba"/>
<circle cx="93.29" cy="97.06" r="1.1" fill="#2ea7ba"/>
<circle cx="91.16" cy="95.83" r="1.1" fill="#2ea7ba"/>
<circle cx="92.16" cy="95.87" r="1.1" fill="#2ea7ba"/>
<circle cx="93.42" cy="96.02" r="1.1" fill="#2ea7ba"/>
<circle cx="91.22" cy="94.17" r="1.1" fill="#2ea7ba"/>
<circle cx="92.54" cy="94.07" r="1.1" fill="#2ea7ba"/>
<circle cx="93.48" cy="94.25" r="1.1" fill="#2ea7ba"/>
<circle cx="90.88" cy="92.58" r="1.1" fill="#2ea7ba"/>
<circle cx="92.46" cy="92.56" r="1.1" fill="#2ea7ba"/>
<circle cx="93.50" cy="93.02" r="1.1" fill="#2ea7ba"/>
<circle cx="90.81" cy="91.15" r="1.1" fill="#2ea7ba"/>
<circle cx="92.34" cy="91.30" r="1.1" fill="#2ea7ba"/>
<circle cx="93.56" cy="91.46" r="1.1" fill="#2ea7ba"/>
<circle cx="92.06" cy="91.00" r="1.265" fill="#2ea7ba"/>
<rect x="95.26" y="101.70" width="2.80" height="6.50" fill="#dc4a3c"/>
<rect x="95.96" y="99.20" width="1.4" height="3" fill="#dc4a3c"/>
<circle cx="95.33" cy="107.70" r="1.1" fill="#dc4a3c"/>
<circle cx="96.34" cy="107.99" r="1.1" fill="#dc4a3c"/>
<circle cx="98.06" cy="107.91" r="1.1" fill="#dc4a3c"/>
<circle cx="95.11" cy="106.47" r="1.1" fill="#dc4a3c"/>
<circle cx="96.83" cy="106.28" r="1.1" fill="#dc4a3c"/>
<circle cx="98.03" cy="106.28" r="1.1" fill="#dc4a3c"/>
<circle cx="95.27" cy="104.60" r="1.1" fill="#dc4a3c"/>
<circle cx="96.47" cy="104.57" r="1.1" fill="#dc4a3c"/>
<circle cx="97.74" cy="104.92" r="1.1" fill="#dc4a3c"/>
<circle cx="95.60" cy="103.47" r="1.1" fill="#dc4a3c"/>
<circle cx="96.81" cy="103.18" r="1.1" fill="#dc4a3c"/>
<circle cx="97.90" cy="103.27" r="1.1" fill="#dc4a3c"/>
<circle cx="95.86" cy="101.81" r="1.1" fill="#dc4a3c"/>
<circle cx="97.50" cy="101.87" r="1.1" fill="#dc4a3c"/>
<circle cx="96.31" cy="100.16" r="1.1" fill="#dc4a3c"/>
<circle cx="97.60" cy="100.06" r="1.1" fill="#dc4a3c"/>
<circle cx="96.52" cy="99.20" r="1.265" fill="#dc4a3c"/>
<line x1="107.50" y1="47.00" x2="107.50" y2="66.30" stroke="#777" stroke-width="1.0"/>
<line x1="102.50" y1="74.00" x2="102.50" y2="79.00" stroke="#777" stroke-width="1.0"/>
<rect x="102.32" y="81.50" width="0.80" height="2.90" fill="#2ea7ba"/>
<rect x="102.02" y="79.00" width="1.4" height="3" fill="#2ea7ba"/>
<circle cx="102.34" cy="84.12" r="1.1" fill="#2ea7ba"/>
<circle cx="103.23" cy="84.12" r="1.1" fill="#2ea7ba"/>
<circle cx="102.40" cy="82.69" r="1.1" fill="#2ea7ba"/>
<circle cx="102.80" cy="82.37" r="1.1" fill="#2ea7ba"/>
<circle cx="102.99" cy="81.07" r="1.1" fill="#2ea7ba"/>
<circle cx="102.87" cy="81.08" r="1.1" fill="#2ea7ba"/>
<circle cx="103.22" cy="79.48" r="1.1" fill="#2ea7ba"/>
<circle cx="102.80" cy="79.60" r="1.1" fill="#2ea7ba"/>
<circle cx="102.93" cy="79.00" r="1.265" fill="#2ea7ba"/>
<rect x="101.32" y="85.80" width="2.80" height="22.40" fill="#2ea7ba"/>
<circle cx="101.48" cy="107.91" r="1.1" fill="#2ea7ba"/>
<circle cx="102.77" cy="107.70" r="1.1" fill="#2ea7ba"/>
<circle cx="103.72" cy="107.86" r="1.1" fill="#2ea7ba"/>
<circle cx="101.22" cy="106.51" r="1.1" fill="#2ea7ba"/>
<circle cx="102.47" cy="106.06" r="1.1" fill="#2ea7ba"/>
<circle cx="103.64" cy="106.51" r="1.1" fill="#2ea7ba"/>
<circle cx="101.41" cy="104.62" r="1.1" fill="#2ea7ba"/>
<circle cx="102.39" cy="104.57" r="1.1" fill="#2ea7ba"/>
<circle cx="104.05" cy="104.87" r="1.1" fill="#2ea7ba"/>
<circle cx="101.66" cy="103.42" r="1.1" fill="#2ea7ba"/>
<circle cx="102.42" cy="103.35" r="1.1" fill="#2ea7ba"/>
<circle cx="103.82" cy="103.46" r="1.1" fill="#2ea7ba"/>
<circle cx="101.74" cy="102.00" r="1.1" fill="#2ea7ba"/>
<circle cx="102.42" cy="101.98" r="1.1" fill="#2ea7ba"/>
<circle cx="104.21" cy="102.02" r="1.1" fill="#2ea7ba"/>
<circle cx="101.24" cy="100.15" r="1.1" fill="#2ea7ba"/>
<circle cx="102.45" cy="100.07" r="1.1" fill="#2ea7ba"/>
<circle cx="104.16" cy="100.46" r="1.1" fill="#2ea7ba"/>
<circle cx="101.61" cy="98.96" r="1.1" fill="#2ea7ba"/>
<circle cx="102.81" cy="98.69" r="1.1" fill="#2ea7ba"/>
<circle cx="103.64" cy="98.60" r="1.1" fill="#2ea7ba"/>
<circle cx="101.70" cy="97.15" r="1.1" fill="#2ea7ba"/>
<circle cx="102.59" cy="97.26" r="1.1" fill="#2ea7ba"/>
<circle cx="103.58" cy="97.18" r="1.1" fill="#2ea7ba"/>
<circle cx="101.37" cy="95.91" r="1.1" fill="#2ea7ba"/>
<circle cx="102.63" cy="95.71" r="1.1" fill="#2ea7ba"/>
<circle cx="104.24" cy="95.80" r="1.1" fill="#2ea7ba"/>
<circle cx="101.77" cy="94.36" r="1.1" fill="#2ea7ba"/>
<circle cx="102.39" cy="94.26" r="1.1" fill="#2ea7ba"/>
<circle cx="103.88" cy="94.44" r="1.1" fill="#2ea7ba"/>
<circle cx="101.41" cy="92.90" r="1.1" fill="#2ea7ba"/>
<circle cx="102.75" cy="92.66" r="1.1" fill="#2ea7ba"/>
<circle cx="104.17" cy="92.60" r="1.1" fill="#2ea7ba"/>
<circle cx="101.74" cy="91.14" r="1.1" fill="#2ea7ba"/>
<circle cx="102.37" cy="91.15" r="1.1" fill="#2ea7ba"/>
<circle cx="104.10" cy="91.54" r="1.1" fill="#2ea7ba"/>
<circle cx="101.17" cy="89.80" r="1.1" fill="#2ea7ba"/>
<circle cx="102.71" cy="89.95" r="1.1" fill="#2ea7ba"/>
<circle cx="103.70" cy="89.80" r="1.1" fill="#2ea7ba"/>
<circle cx="101.41" cy="88.47" r="1.1" fill="#2ea7ba"/>
<circle cx="102.55" cy="88.52" r="1.1" fill="#2ea7ba"/>
<circle cx="103.77" cy="88.16" r="1.1" fill="#2ea7ba"/>
<circle cx="101.66" cy="86.80" r="1.1" fill="#2ea7ba"/>
<circle cx="102.45" cy="86.87" r="1.1" fill="#2ea7ba"/>
<circle cx="103.63" cy="86.94" r="1.1" fill="#2ea7ba"/>
<circle cx="102.84" cy="86.00" r="1.265" fill="#2ea7ba"/>
<rect x="106.62" y="68.80" width="1.00" height="8.60" fill="#dc4a3c"/>
<rect x="106.42" y="66.30" width="1.4" height="3" fill="#dc4a3c"/>
<circle cx="107.02" cy="77.06" r="1.1" fill="#dc4a3c"/>
<circle cx="107.32" cy="76.95" r="1.1" fill="#dc4a3c"/>
<circle cx="106.75" cy="75.70" r="1.1" fill="#dc4a3c"/>
<circle cx="107.13" cy="75.69" r="1.1" fill="#dc4a3c"/>
<circle cx="106.49" cy="73.85" r="1.1" fill="#dc4a3c"/>
<circle cx="107.25" cy="74.20" r="1.1" fill="#dc4a3c"/>
<circle cx="106.82" cy="72.44" r="1.1" fill="#dc4a3c"/>
<circle cx="107.69" cy="72.37" r="1.1" fill="#dc4a3c"/>
<circle cx="106.79" cy="71.02" r="1.1" fill="#dc4a3c"/>
<circle cx="107.60" cy="71.13" r="1.1" fill="#dc4a3c"/>
<circle cx="106.96" cy="69.42" r="1.1" fill="#dc4a3c"/>
<circle cx="107.26" cy="69.33" r="1.1" fill="#dc4a3c"/>
<circle cx="107.29" cy="68.08" r="1.1" fill="#dc4a3c"/>
<circle cx="107.36" cy="67.83" r="1.1" fill="#dc4a3c"/>
<circle cx="107.21" cy="66.64" r="1.1" fill="#dc4a3c"/>
<circle cx="107.05" cy="66.31" r="1.1" fill="#dc4a3c"/>
<circle cx="107.10" cy="66.30" r="1.265" fill="#dc4a3c"/>
<rect x="105.42" y="78.80" width="3.40" height="29.40" fill="#dc4a3c"/>
<circle cx="105.89" cy="107.67" r="1.1" fill="#dc4a3c"/>
<circle cx="106.90" cy="107.70" r="1.1" fill="#dc4a3c"/>
<circle cx="108.76" cy="107.97" r="1.1" fill="#dc4a3c"/>
<circle cx="105.38" cy="106.13" r="1.1" fill="#dc4a3c"/>
<circle cx="106.94" cy="106.21" r="1.1" fill="#dc4a3c"/>
<circle cx="108.64" cy="106.13" r="1.1" fill="#dc4a3c"/>
<circle cx="105.50" cy="104.64" r="1.1" fill="#dc4a3c"/>
<circle cx="107.45" cy="104.91" r="1.1" fill="#dc4a3c"/>
<circle cx="108.34" cy="105.03" r="1.1" fill="#dc4a3c"/>
<circle cx="105.34" cy="103.24" r="1.1" fill="#dc4a3c"/>
<circle cx="107.46" cy="103.45" r="1.1" fill="#dc4a3c"/>
<circle cx="108.78" cy="103.27" r="1.1" fill="#dc4a3c"/>
<circle cx="105.41" cy="101.87" r="1.1" fill="#dc4a3c"/>
<circle cx="106.84" cy="101.65" r="1.1" fill="#dc4a3c"/>
<circle cx="108.54" cy="101.57" r="1.1" fill="#dc4a3c"/>
<circle cx="105.55" cy="100.45" r="1.1" fill="#dc4a3c"/>
<circle cx="107.26" cy="100.30" r="1.1" fill="#dc4a3c"/>
<circle cx="108.71" cy="100.28" r="1.1" fill="#dc4a3c"/>
<circle cx="105.37" cy="98.85" r="1.1" fill="#dc4a3c"/>
<circle cx="107.05" cy="98.92" r="1.1" fill="#dc4a3c"/>
<circle cx="108.91" cy="98.77" r="1.1" fill="#dc4a3c"/>
<circle cx="105.67" cy="97.42" r="1.1" fill="#dc4a3c"/>
<circle cx="107.06" cy="97.16" r="1.1" fill="#dc4a3c"/>
<circle cx="108.78" cy="97.49" r="1.1" fill="#dc4a3c"/>
<circle cx="105.81" cy="95.90" r="1.1" fill="#dc4a3c"/>
<circle cx="107.37" cy="95.89" r="1.1" fill="#dc4a3c"/>
<circle cx="108.72" cy="95.78" r="1.1" fill="#dc4a3c"/>
<circle cx="105.49" cy="94.36" r="1.1" fill="#dc4a3c"/>
<circle cx="106.84" cy="94.26" r="1.1" fill="#dc4a3c"/>
<circle cx="108.82" cy="94.41" r="1.1" fill="#dc4a3c"/>
<circle cx="105.71" cy="92.68" r="1.1" fill="#dc4a3c"/>
<circle cx="107.07" cy="92.78" r="1.1" fill="#dc4a3c"/>
<circle cx="108.71" cy="92.75" r="1.1" fill="#dc4a3c"/>
<circle cx="105.74" cy="91.52" r="1.1" fill="#dc4a3c"/>
<circle cx="106.90" cy="91.38" r="1.1" fill="#dc4a3c"/>
<circle cx="108.81" cy="91.24" r="1.1" fill="#dc4a3c"/>
<circle cx="105.61" cy="90.04" r="1.1" fill="#dc4a3c"/>
<circle cx="106.80" cy="89.82" r="1.1" fill="#dc4a3c"/>
<circle cx="108.38" cy="89.94" r="1.1" fill="#dc4a3c"/>
<circle cx="105.93" cy="88.31" r="1.1" fill="#dc4a3c"/>
<circle cx="106.84" cy="88.34" r="1.1" fill="#dc4a3c"/>
<circle cx="108.65" cy="88.41" r="1.1" fill="#dc4a3c"/>
<circle cx="105.63" cy="86.87" r="1.1" fill="#dc4a3c"/>
<circle cx="107.35" cy="86.81" r="1.1" fill="#dc4a3c"/>
<circle cx="108.56" cy="87.02" r="1.1" fill="#dc4a3c"/>
<circle cx="105.42" cy="85.39" r="1.1" fill="#dc4a3c"/>
<circle cx="107.04" cy="85.43" r="1.1" fill="#dc4a3c"/>
<circle cx="108.36" cy="85.54" r="1.1" fill="#dc4a3c"/>
<circle cx="105.52" cy="83.58" r="1.1" fill="#dc4a3c"/>
<circle cx="106.96" cy="83.75" r="1.1" fill="#dc4a3c"/>
<circle cx="108.28" cy="83.76" r="1.1" fill="#dc4a3c"/>
<circle cx="105.56" cy="82.40" r="1.1" fill="#dc4a3c"/>
<circle cx="107.02" cy="82.18" r="1.1" fill="#dc4a3c"/>
<circle cx="108.43" cy="82.42" r="1.1" fill="#dc4a3c"/>
<circle cx="105.93" cy="80.81" r="1.1" fill="#dc4a3c"/>
<circle cx="106.92" cy="80.95" r="1.1" fill="#dc4a3c"/>
<circle cx="108.54" cy="80.66" r="1.1" fill="#dc4a3c"/>
<circle cx="105.36" cy="79.44" r="1.1" fill="#dc4a3c"/>
<circle cx="107.34" cy="79.37" r="1.1" fill="#dc4a3c"/>
<circle cx="108.60" cy="79.33" r="1.1" fill="#dc4a3c"/>
<circle cx="106.96" cy="79.00" r="1.265" fill="#dc4a3c"/>
<circle cx="102.72" cy="74.00" r="1.3" fill="#2ea7ba"/>
<circle cx="107.12" cy="47" r="1.35" fill="#c8463a" stroke="#6a3a36" stroke-width="0.35"/>
<circle cx="107.12" cy="56.4" r="1.35" fill="#c8463a" stroke="#6a3a36" stroke-width="0.35"/>
<rect x="112.08" y="90.90" width="2.20" height="17.30" fill="#2ea7ba"/>
<rect x="112.48" y="88.40" width="1.4" height="3" fill="#2ea7ba"/>
<circle cx="112.60" cy="107.73" r="1.1" fill="#2ea7ba"/>
<circle cx="113.28" cy="107.96" r="1.1" fill="#2ea7ba"/>
<circle cx="114.30" cy="107.78" r="1.1" fill="#2ea7ba"/>
<circle cx="112.14" cy="106.32" r="1.1" fill="#2ea7ba"/>
<circle cx="112.92" cy="106.47" r="1.1" fill="#2ea7ba"/>
<circle cx="113.98" cy="106.48" r="1.1" fill="#2ea7ba"/>
<circle cx="112.12" cy="104.74" r="1.1" fill="#2ea7ba"/>
<circle cx="113.01" cy="104.76" r="1.1" fill="#2ea7ba"/>
<circle cx="113.86" cy="104.55" r="1.1" fill="#2ea7ba"/>
<circle cx="112.44" cy="103.19" r="1.1" fill="#2ea7ba"/>
<circle cx="113.00" cy="103.20" r="1.1" fill="#2ea7ba"/>
<circle cx="114.07" cy="103.26" r="1.1" fill="#2ea7ba"/>
<circle cx="112.38" cy="101.88" r="1.1" fill="#2ea7ba"/>
<circle cx="113.08" cy="102.01" r="1.1" fill="#2ea7ba"/>
<circle cx="114.33" cy="101.58" r="1.1" fill="#2ea7ba"/>
<circle cx="112.51" cy="100.50" r="1.1" fill="#2ea7ba"/>
<circle cx="113.38" cy="100.12" r="1.1" fill="#2ea7ba"/>
<circle cx="114.31" cy="100.37" r="1.1" fill="#2ea7ba"/>
<circle cx="111.94" cy="98.56" r="1.1" fill="#2ea7ba"/>
<circle cx="113.50" cy="98.88" r="1.1" fill="#2ea7ba"/>
<circle cx="113.91" cy="98.60" r="1.1" fill="#2ea7ba"/>
<circle cx="112.03" cy="97.17" r="1.1" fill="#2ea7ba"/>
<circle cx="113.37" cy="97.22" r="1.1" fill="#2ea7ba"/>
<circle cx="113.84" cy="97.50" r="1.1" fill="#2ea7ba"/>
<circle cx="112.48" cy="95.63" r="1.1" fill="#2ea7ba"/>
<circle cx="113.45" cy="95.85" r="1.1" fill="#2ea7ba"/>
<circle cx="114.28" cy="95.88" r="1.1" fill="#2ea7ba"/>
<circle cx="112.56" cy="94.44" r="1.1" fill="#2ea7ba"/>
<circle cx="113.42" cy="94.15" r="1.1" fill="#2ea7ba"/>
<circle cx="114.21" cy="94.32" r="1.1" fill="#2ea7ba"/>
<circle cx="112.45" cy="92.77" r="1.1" fill="#2ea7ba"/>
<circle cx="113.45" cy="92.83" r="1.1" fill="#2ea7ba"/>
<circle cx="113.92" cy="92.67" r="1.1" fill="#2ea7ba"/>
<circle cx="112.14" cy="91.30" r="1.1" fill="#2ea7ba"/>
<circle cx="113.66" cy="91.28" r="1.1" fill="#2ea7ba"/>
<circle cx="112.43" cy="89.80" r="1.1" fill="#2ea7ba"/>
<circle cx="113.68" cy="89.82" r="1.1" fill="#2ea7ba"/>
<circle cx="113.22" cy="88.05" r="1.1" fill="#2ea7ba"/>
<circle cx="113.63" cy="88.28" r="1.1" fill="#2ea7ba"/>
<circle cx="113.22" cy="88.40" r="1.265" fill="#2ea7ba"/>
<rect x="117.08" y="92.80" width="1.00" height="2.60" fill="#dc4a3c"/>
<rect x="116.88" y="90.30" width="1.4" height="3" fill="#dc4a3c"/>
<circle cx="117.40" cy="95.17" r="1.1" fill="#dc4a3c"/>
<circle cx="117.79" cy="94.96" r="1.1" fill="#dc4a3c"/>
<circle cx="117.64" cy="93.29" r="1.1" fill="#dc4a3c"/>
<circle cx="117.94" cy="93.57" r="1.1" fill="#dc4a3c"/>
<circle cx="117.18" cy="92.05" r="1.1" fill="#dc4a3c"/>
<circle cx="117.77" cy="92.22" r="1.1" fill="#dc4a3c"/>
<circle cx="117.59" cy="90.74" r="1.1" fill="#dc4a3c"/>
<circle cx="117.46" cy="90.49" r="1.1" fill="#dc4a3c"/>
<circle cx="117.82" cy="90.30" r="1.265" fill="#dc4a3c"/>
<rect x="116.18" y="96.80" width="2.80" height="11.40" fill="#dc4a3c"/>
<circle cx="116.05" cy="107.91" r="1.1" fill="#dc4a3c"/>
<circle cx="117.67" cy="107.72" r="1.1" fill="#dc4a3c"/>
<circle cx="119.03" cy="107.73" r="1.1" fill="#dc4a3c"/>
<circle cx="116.36" cy="106.31" r="1.1" fill="#dc4a3c"/>
<circle cx="117.77" cy="106.16" r="1.1" fill="#dc4a3c"/>
<circle cx="118.73" cy="106.26" r="1.1" fill="#dc4a3c"/>
<circle cx="116.42" cy="104.96" r="1.1" fill="#dc4a3c"/>
<circle cx="117.44" cy="104.96" r="1.1" fill="#dc4a3c"/>
<circle cx="118.71" cy="104.80" r="1.1" fill="#dc4a3c"/>
<circle cx="116.22" cy="103.30" r="1.1" fill="#dc4a3c"/>
<circle cx="117.91" cy="103.38" r="1.1" fill="#dc4a3c"/>
<circle cx="118.98" cy="103.22" r="1.1" fill="#dc4a3c"/>
<circle cx="116.25" cy="101.70" r="1.1" fill="#dc4a3c"/>
<circle cx="117.64" cy="101.87" r="1.1" fill="#dc4a3c"/>
<circle cx="118.98" cy="101.57" r="1.1" fill="#dc4a3c"/>
<circle cx="116.54" cy="100.49" r="1.1" fill="#dc4a3c"/>
<circle cx="117.61" cy="100.07" r="1.1" fill="#dc4a3c"/>
<circle cx="118.64" cy="100.05" r="1.1" fill="#dc4a3c"/>
<circle cx="116.16" cy="99.01" r="1.1" fill="#dc4a3c"/>
<circle cx="117.66" cy="98.88" r="1.1" fill="#dc4a3c"/>
<circle cx="118.98" cy="99.00" r="1.1" fill="#dc4a3c"/>
<circle cx="116.46" cy="97.36" r="1.1" fill="#dc4a3c"/>
<circle cx="117.67" cy="97.40" r="1.1" fill="#dc4a3c"/>
<circle cx="118.85" cy="97.39" r="1.1" fill="#dc4a3c"/>
<circle cx="117.41" cy="97.00" r="1.265" fill="#dc4a3c"/>
<line x1="128.50" y1="59.00" x2="128.50" y2="81.50" stroke="#777" stroke-width="1.0"/>
<rect x="122.54" y="97.20" width="2.20" height="11.00" fill="#2ea7ba"/>
<rect x="122.94" y="94.70" width="1.4" height="3" fill="#2ea7ba"/>
<circle cx="122.86" cy="107.78" r="1.1" fill="#2ea7ba"/>
<circle cx="123.82" cy="107.60" r="1.1" fill="#2ea7ba"/>
<circle cx="124.32" cy="107.57" r="1.1" fill="#2ea7ba"/>
<circle cx="122.93" cy="106.51" r="1.1" fill="#2ea7ba"/>
<circle cx="123.75" cy="106.23" r="1.1" fill="#2ea7ba"/>
<circle cx="124.77" cy="106.44" r="1.1" fill="#2ea7ba"/>
<circle cx="122.78" cy="104.68" r="1.1" fill="#2ea7ba"/>
<circle cx="123.50" cy="104.76" r="1.1" fill="#2ea7ba"/>
<circle cx="124.41" cy="104.77" r="1.1" fill="#2ea7ba"/>
<circle cx="122.84" cy="103.52" r="1.1" fill="#2ea7ba"/>
<circle cx="123.33" cy="103.33" r="1.1" fill="#2ea7ba"/>
<circle cx="124.22" cy="103.11" r="1.1" fill="#2ea7ba"/>
<circle cx="122.96" cy="101.84" r="1.1" fill="#2ea7ba"/>
<circle cx="123.93" cy="101.77" r="1.1" fill="#2ea7ba"/>
<circle cx="124.20" cy="101.74" r="1.1" fill="#2ea7ba"/>
<circle cx="122.80" cy="100.52" r="1.1" fill="#2ea7ba"/>
<circle cx="123.98" cy="100.29" r="1.1" fill="#2ea7ba"/>
<circle cx="124.48" cy="100.10" r="1.1" fill="#2ea7ba"/>
<circle cx="122.84" cy="98.66" r="1.1" fill="#2ea7ba"/>
<circle cx="123.40" cy="98.56" r="1.1" fill="#2ea7ba"/>
<circle cx="124.19" cy="98.89" r="1.1" fill="#2ea7ba"/>
<circle cx="122.65" cy="97.53" r="1.1" fill="#2ea7ba"/>
<circle cx="124.08" cy="97.48" r="1.1" fill="#2ea7ba"/>
<circle cx="122.94" cy="95.56" r="1.1" fill="#2ea7ba"/>
<circle cx="124.24" cy="95.67" r="1.1" fill="#2ea7ba"/>
<circle cx="123.78" cy="94.70" r="1.265" fill="#2ea7ba"/>
<rect x="126.64" y="84.00" width="2.80" height="24.20" fill="#dc4a3c"/>
<rect x="127.34" y="81.50" width="1.4" height="3" fill="#dc4a3c"/>
<circle cx="126.62" cy="107.58" r="1.1" fill="#dc4a3c"/>
<circle cx="128.23" cy="107.91" r="1.1" fill="#dc4a3c"/>
<circle cx="129.49" cy="107.91" r="1.1" fill="#dc4a3c"/>
<circle cx="126.55" cy="106.36" r="1.1" fill="#dc4a3c"/>
<circle cx="128.19" cy="106.28" r="1.1" fill="#dc4a3c"/>
<circle cx="129.54" cy="106.18" r="1.1" fill="#dc4a3c"/>
<circle cx="127.17" cy="104.91" r="1.1" fill="#dc4a3c"/>
<circle cx="127.70" cy="104.56" r="1.1" fill="#dc4a3c"/>
<circle cx="129.35" cy="104.96" r="1.1" fill="#dc4a3c"/>
<circle cx="126.55" cy="103.21" r="1.1" fill="#dc4a3c"/>
<circle cx="128.20" cy="103.13" r="1.1" fill="#dc4a3c"/>
<circle cx="129.49" cy="103.29" r="1.1" fill="#dc4a3c"/>
<circle cx="126.53" cy="101.73" r="1.1" fill="#dc4a3c"/>
<circle cx="128.09" cy="101.77" r="1.1" fill="#dc4a3c"/>
<circle cx="129.36" cy="101.62" r="1.1" fill="#dc4a3c"/>
<circle cx="127.05" cy="100.23" r="1.1" fill="#dc4a3c"/>
<circle cx="128.14" cy="100.36" r="1.1" fill="#dc4a3c"/>
<circle cx="129.18" cy="100.24" r="1.1" fill="#dc4a3c"/>
<circle cx="127.04" cy="99.02" r="1.1" fill="#dc4a3c"/>
<circle cx="128.24" cy="98.83" r="1.1" fill="#dc4a3c"/>
<circle cx="129.09" cy="98.58" r="1.1" fill="#dc4a3c"/>
<circle cx="127.17" cy="97.40" r="1.1" fill="#dc4a3c"/>
<circle cx="128.27" cy="97.22" r="1.1" fill="#dc4a3c"/>
<circle cx="129.31" cy="97.54" r="1.1" fill="#dc4a3c"/>
<circle cx="127.07" cy="95.85" r="1.1" fill="#dc4a3c"/>
<circle cx="127.91" cy="95.76" r="1.1" fill="#dc4a3c"/>
<circle cx="129.51" cy="95.74" r="1.1" fill="#dc4a3c"/>
<circle cx="126.97" cy="94.35" r="1.1" fill="#dc4a3c"/>
<circle cx="128.32" cy="94.45" r="1.1" fill="#dc4a3c"/>
<circle cx="129.09" cy="94.05" r="1.1" fill="#dc4a3c"/>
<circle cx="126.67" cy="92.76" r="1.1" fill="#dc4a3c"/>
<circle cx="128.10" cy="92.96" r="1.1" fill="#dc4a3c"/>
<circle cx="129.51" cy="92.57" r="1.1" fill="#dc4a3c"/>
<circle cx="127.07" cy="91.46" r="1.1" fill="#dc4a3c"/>
<circle cx="128.30" cy="91.34" r="1.1" fill="#dc4a3c"/>
<circle cx="129.08" cy="91.48" r="1.1" fill="#dc4a3c"/>
<circle cx="127.05" cy="89.89" r="1.1" fill="#dc4a3c"/>
<circle cx="128.33" cy="89.72" r="1.1" fill="#dc4a3c"/>
<circle cx="128.95" cy="89.83" r="1.1" fill="#dc4a3c"/>
<circle cx="127.05" cy="88.15" r="1.1" fill="#dc4a3c"/>
<circle cx="128.22" cy="88.52" r="1.1" fill="#dc4a3c"/>
<circle cx="129.05" cy="88.35" r="1.1" fill="#dc4a3c"/>
<circle cx="126.96" cy="86.78" r="1.1" fill="#dc4a3c"/>
<circle cx="127.83" cy="86.68" r="1.1" fill="#dc4a3c"/>
<circle cx="129.42" cy="86.95" r="1.1" fill="#dc4a3c"/>
<circle cx="126.81" cy="85.09" r="1.1" fill="#dc4a3c"/>
<circle cx="128.25" cy="85.44" r="1.1" fill="#dc4a3c"/>
<circle cx="129.05" cy="85.34" r="1.1" fill="#dc4a3c"/>
<circle cx="127.38" cy="83.99" r="1.1" fill="#dc4a3c"/>
<circle cx="128.99" cy="83.79" r="1.1" fill="#dc4a3c"/>
<circle cx="127.50" cy="82.14" r="1.1" fill="#dc4a3c"/>
<circle cx="128.43" cy="82.14" r="1.1" fill="#dc4a3c"/>
<circle cx="128.16" cy="81.50" r="1.265" fill="#dc4a3c"/>
<circle cx="128.04" cy="59" r="1.35" fill="#c8463a" stroke="#6a3a36" stroke-width="0.35"/>
<rect x="133.65" y="92.70" width="0.90" height="2.70" fill="#2ea7ba"/>
<circle cx="133.75" cy="95.03" r="1.1" fill="#2ea7ba"/>
<circle cx="134.28" cy="95.01" r="1.1" fill="#2ea7ba"/>
<circle cx="133.60" cy="93.27" r="1.1" fill="#2ea7ba"/>
<circle cx="134.70" cy="93.44" r="1.1" fill="#2ea7ba"/>
<circle cx="133.86" cy="92.90" r="1.265" fill="#2ea7ba"/>
<rect x="132.70" y="96.80" width="2.80" height="11.40" fill="#2ea7ba"/>
<circle cx="132.99" cy="107.94" r="1.1" fill="#2ea7ba"/>
<circle cx="133.86" cy="107.85" r="1.1" fill="#2ea7ba"/>
<circle cx="135.19" cy="107.81" r="1.1" fill="#2ea7ba"/>
<circle cx="132.56" cy="106.07" r="1.1" fill="#2ea7ba"/>
<circle cx="134.44" cy="106.48" r="1.1" fill="#2ea7ba"/>
<circle cx="135.29" cy="106.33" r="1.1" fill="#2ea7ba"/>
<circle cx="132.73" cy="104.94" r="1.1" fill="#2ea7ba"/>
<circle cx="134.05" cy="105.02" r="1.1" fill="#2ea7ba"/>
<circle cx="135.49" cy="104.96" r="1.1" fill="#2ea7ba"/>
<circle cx="133.22" cy="103.18" r="1.1" fill="#2ea7ba"/>
<circle cx="133.78" cy="103.15" r="1.1" fill="#2ea7ba"/>
<circle cx="135.08" cy="103.09" r="1.1" fill="#2ea7ba"/>
<circle cx="132.59" cy="101.83" r="1.1" fill="#2ea7ba"/>
<circle cx="134.36" cy="101.78" r="1.1" fill="#2ea7ba"/>
<circle cx="135.61" cy="102.00" r="1.1" fill="#2ea7ba"/>
<circle cx="132.59" cy="100.35" r="1.1" fill="#2ea7ba"/>
<circle cx="134.03" cy="100.11" r="1.1" fill="#2ea7ba"/>
<circle cx="135.62" cy="100.18" r="1.1" fill="#2ea7ba"/>
<circle cx="132.95" cy="98.87" r="1.1" fill="#2ea7ba"/>
<circle cx="134.42" cy="98.88" r="1.1" fill="#2ea7ba"/>
<circle cx="135.23" cy="98.77" r="1.1" fill="#2ea7ba"/>
<circle cx="132.66" cy="97.53" r="1.1" fill="#2ea7ba"/>
<circle cx="134.44" cy="97.16" r="1.1" fill="#2ea7ba"/>
<circle cx="134.98" cy="97.18" r="1.1" fill="#2ea7ba"/>
<circle cx="134.01" cy="97.00" r="1.265" fill="#2ea7ba"/>
<rect x="137.40" y="92.20" width="2.20" height="16.00" fill="#dc4a3c"/>
<rect x="137.80" y="89.70" width="1.4" height="3" fill="#dc4a3c"/>
<circle cx="137.88" cy="108.00" r="1.1" fill="#dc4a3c"/>
<circle cx="138.74" cy="107.57" r="1.1" fill="#dc4a3c"/>
<circle cx="139.60" cy="107.90" r="1.1" fill="#dc4a3c"/>
<circle cx="137.70" cy="106.54" r="1.1" fill="#dc4a3c"/>
<circle cx="138.19" cy="106.12" r="1.1" fill="#dc4a3c"/>
<circle cx="139.58" cy="106.52" r="1.1" fill="#dc4a3c"/>
<circle cx="137.72" cy="104.70" r="1.1" fill="#dc4a3c"/>
<circle cx="138.56" cy="104.93" r="1.1" fill="#dc4a3c"/>
<circle cx="139.12" cy="104.71" r="1.1" fill="#dc4a3c"/>
<circle cx="137.43" cy="103.11" r="1.1" fill="#dc4a3c"/>
<circle cx="138.49" cy="103.13" r="1.1" fill="#dc4a3c"/>
<circle cx="139.22" cy="103.12" r="1.1" fill="#dc4a3c"/>
<circle cx="137.72" cy="101.56" r="1.1" fill="#dc4a3c"/>
<circle cx="138.65" cy="101.65" r="1.1" fill="#dc4a3c"/>
<circle cx="139.08" cy="102.01" r="1.1" fill="#dc4a3c"/>
<circle cx="137.40" cy="100.52" r="1.1" fill="#dc4a3c"/>
<circle cx="138.76" cy="100.49" r="1.1" fill="#dc4a3c"/>
<circle cx="139.15" cy="100.27" r="1.1" fill="#dc4a3c"/>
<circle cx="137.32" cy="99.01" r="1.1" fill="#dc4a3c"/>
<circle cx="138.74" cy="98.86" r="1.1" fill="#dc4a3c"/>
<circle cx="139.37" cy="98.72" r="1.1" fill="#dc4a3c"/>
<circle cx="137.83" cy="97.29" r="1.1" fill="#dc4a3c"/>
<circle cx="138.59" cy="97.12" r="1.1" fill="#dc4a3c"/>
<circle cx="139.21" cy="97.08" r="1.1" fill="#dc4a3c"/>
<circle cx="137.75" cy="95.83" r="1.1" fill="#dc4a3c"/>
<circle cx="138.25" cy="95.99" r="1.1" fill="#dc4a3c"/>
<circle cx="139.24" cy="95.76" r="1.1" fill="#dc4a3c"/>
<circle cx="137.36" cy="94.19" r="1.1" fill="#dc4a3c"/>
<circle cx="138.74" cy="94.22" r="1.1" fill="#dc4a3c"/>
<circle cx="139.17" cy="94.30" r="1.1" fill="#dc4a3c"/>
<circle cx="137.55" cy="93.00" r="1.1" fill="#dc4a3c"/>
<circle cx="139.05" cy="93.04" r="1.1" fill="#dc4a3c"/>
<circle cx="137.65" cy="91.50" r="1.1" fill="#dc4a3c"/>
<circle cx="139.16" cy="91.16" r="1.1" fill="#dc4a3c"/>
<circle cx="138.23" cy="89.69" r="1.1" fill="#dc4a3c"/>
<circle cx="138.58" cy="89.65" r="1.1" fill="#dc4a3c"/>
<circle cx="138.42" cy="89.70" r="1.265" fill="#dc4a3c"/>
<rect x="143.46" y="95.40" width="2.20" height="12.80" fill="#2ea7ba"/>
<rect x="143.86" y="92.90" width="1.4" height="3" fill="#2ea7ba"/>
<circle cx="144.00" cy="108.05" r="1.1" fill="#2ea7ba"/>
<circle cx="144.86" cy="107.60" r="1.1" fill="#2ea7ba"/>
<circle cx="145.31" cy="108.00" r="1.1" fill="#2ea7ba"/>
<circle cx="143.35" cy="106.41" r="1.1" fill="#2ea7ba"/>
<circle cx="144.42" cy="106.54" r="1.1" fill="#2ea7ba"/>
<circle cx="145.12" cy="106.45" r="1.1" fill="#2ea7ba"/>
<circle cx="143.55" cy="104.62" r="1.1" fill="#2ea7ba"/>
<circle cx="144.21" cy="104.97" r="1.1" fill="#2ea7ba"/>
<circle cx="145.48" cy="104.64" r="1.1" fill="#2ea7ba"/>
<circle cx="143.61" cy="103.51" r="1.1" fill="#2ea7ba"/>
<circle cx="144.36" cy="103.34" r="1.1" fill="#2ea7ba"/>
<circle cx="145.21" cy="103.14" r="1.1" fill="#2ea7ba"/>
<circle cx="143.85" cy="101.91" r="1.1" fill="#2ea7ba"/>
<circle cx="144.35" cy="101.59" r="1.1" fill="#2ea7ba"/>
<circle cx="145.17" cy="101.85" r="1.1" fill="#2ea7ba"/>
<circle cx="143.66" cy="100.19" r="1.1" fill="#2ea7ba"/>
<circle cx="144.35" cy="100.36" r="1.1" fill="#2ea7ba"/>
<circle cx="145.61" cy="100.46" r="1.1" fill="#2ea7ba"/>
<circle cx="143.72" cy="98.65" r="1.1" fill="#2ea7ba"/>
<circle cx="144.26" cy="98.92" r="1.1" fill="#2ea7ba"/>
<circle cx="145.40" cy="98.91" r="1.1" fill="#2ea7ba"/>
<circle cx="143.35" cy="97.46" r="1.1" fill="#2ea7ba"/>
<circle cx="144.44" cy="97.47" r="1.1" fill="#2ea7ba"/>
<circle cx="145.72" cy="97.30" r="1.1" fill="#2ea7ba"/>
<circle cx="143.43" cy="96.01" r="1.1" fill="#2ea7ba"/>
<circle cx="145.33" cy="95.99" r="1.1" fill="#2ea7ba"/>
<circle cx="143.90" cy="94.14" r="1.1" fill="#2ea7ba"/>
<circle cx="145.29" cy="94.23" r="1.1" fill="#2ea7ba"/>
<circle cx="144.11" cy="92.74" r="1.1" fill="#2ea7ba"/>
<circle cx="144.84" cy="92.55" r="1.1" fill="#2ea7ba"/>
<circle cx="144.57" cy="92.90" r="1.265" fill="#2ea7ba"/>
<rect x="148.46" y="80.50" width="1.00" height="1.90" fill="#dc4a3c"/>
<rect x="148.26" y="78.00" width="1.4" height="3" fill="#dc4a3c"/>
<circle cx="148.62" cy="82.01" r="1.1" fill="#dc4a3c"/>
<circle cx="148.99" cy="82.11" r="1.1" fill="#dc4a3c"/>
<circle cx="149.01" cy="80.68" r="1.1" fill="#dc4a3c"/>
<circle cx="149.00" cy="80.61" r="1.1" fill="#dc4a3c"/>
<circle cx="148.90" cy="79.13" r="1.1" fill="#dc4a3c"/>
<circle cx="148.63" cy="79.19" r="1.1" fill="#dc4a3c"/>
<circle cx="149.23" cy="78.00" r="1.265" fill="#dc4a3c"/>
<rect x="147.26" y="83.80" width="3.40" height="24.40" fill="#dc4a3c"/>
<circle cx="147.46" cy="107.81" r="1.1" fill="#dc4a3c"/>
<circle cx="148.98" cy="107.82" r="1.1" fill="#dc4a3c"/>
<circle cx="150.12" cy="108.03" r="1.1" fill="#dc4a3c"/>
<circle cx="147.27" cy="106.14" r="1.1" fill="#dc4a3c"/>
<circle cx="148.68" cy="106.18" r="1.1" fill="#dc4a3c"/>
<circle cx="150.68" cy="106.07" r="1.1" fill="#dc4a3c"/>
<circle cx="147.18" cy="104.90" r="1.1" fill="#dc4a3c"/>
<circle cx="148.75" cy="104.56" r="1.1" fill="#dc4a3c"/>
<circle cx="150.53" cy="104.84" r="1.1" fill="#dc4a3c"/>
<circle cx="147.48" cy="103.40" r="1.1" fill="#dc4a3c"/>
<circle cx="148.68" cy="103.48" r="1.1" fill="#dc4a3c"/>
<circle cx="150.61" cy="103.07" r="1.1" fill="#dc4a3c"/>
<circle cx="147.20" cy="101.80" r="1.1" fill="#dc4a3c"/>
<circle cx="148.96" cy="101.69" r="1.1" fill="#dc4a3c"/>
<circle cx="150.20" cy="101.75" r="1.1" fill="#dc4a3c"/>
<circle cx="147.21" cy="100.35" r="1.1" fill="#dc4a3c"/>
<circle cx="149.21" cy="100.12" r="1.1" fill="#dc4a3c"/>
<circle cx="150.51" cy="100.42" r="1.1" fill="#dc4a3c"/>
<circle cx="147.23" cy="98.96" r="1.1" fill="#dc4a3c"/>
<circle cx="149.27" cy="98.74" r="1.1" fill="#dc4a3c"/>
<circle cx="150.40" cy="98.97" r="1.1" fill="#dc4a3c"/>
<circle cx="147.48" cy="97.25" r="1.1" fill="#dc4a3c"/>
<circle cx="149.27" cy="97.44" r="1.1" fill="#dc4a3c"/>
<circle cx="150.35" cy="97.17" r="1.1" fill="#dc4a3c"/>
<circle cx="147.34" cy="95.77" r="1.1" fill="#dc4a3c"/>
<circle cx="149.30" cy="95.95" r="1.1" fill="#dc4a3c"/>
<circle cx="150.75" cy="95.96" r="1.1" fill="#dc4a3c"/>
<circle cx="147.70" cy="94.08" r="1.1" fill="#dc4a3c"/>
<circle cx="148.97" cy="94.53" r="1.1" fill="#dc4a3c"/>
<circle cx="150.76" cy="94.17" r="1.1" fill="#dc4a3c"/>
<circle cx="147.41" cy="92.87" r="1.1" fill="#dc4a3c"/>
<circle cx="148.87" cy="92.82" r="1.1" fill="#dc4a3c"/>
<circle cx="150.16" cy="92.77" r="1.1" fill="#dc4a3c"/>
<circle cx="147.46" cy="91.06" r="1.1" fill="#dc4a3c"/>
<circle cx="148.71" cy="91.53" r="1.1" fill="#dc4a3c"/>
<circle cx="150.65" cy="91.52" r="1.1" fill="#dc4a3c"/>
<circle cx="147.55" cy="89.95" r="1.1" fill="#dc4a3c"/>
<circle cx="149.23" cy="89.99" r="1.1" fill="#dc4a3c"/>
<circle cx="150.13" cy="89.87" r="1.1" fill="#dc4a3c"/>
<circle cx="147.30" cy="88.39" r="1.1" fill="#dc4a3c"/>
<circle cx="148.80" cy="88.32" r="1.1" fill="#dc4a3c"/>
<circle cx="150.76" cy="88.36" r="1.1" fill="#dc4a3c"/>
<circle cx="147.29" cy="86.81" r="1.1" fill="#dc4a3c"/>
<circle cx="148.91" cy="87.03" r="1.1" fill="#dc4a3c"/>
<circle cx="150.31" cy="86.70" r="1.1" fill="#dc4a3c"/>
<circle cx="147.56" cy="85.11" r="1.1" fill="#dc4a3c"/>
<circle cx="149.03" cy="85.53" r="1.1" fill="#dc4a3c"/>
<circle cx="150.47" cy="85.18" r="1.1" fill="#dc4a3c"/>
<circle cx="147.44" cy="83.82" r="1.1" fill="#dc4a3c"/>
<circle cx="148.71" cy="83.61" r="1.1" fill="#dc4a3c"/>
<circle cx="150.20" cy="83.70" r="1.1" fill="#dc4a3c"/>
<circle cx="148.90" cy="84.00" r="1.265" fill="#dc4a3c"/>
<circle cx="148.96" cy="75.7" r="1.35" fill="#c8463a" stroke="#6a3a36" stroke-width="0.35"/>
<rect x="153.62" y="95.40" width="2.80" height="12.80" fill="#2ea7ba"/>
<rect x="154.32" y="92.90" width="1.4" height="3" fill="#2ea7ba"/>
<circle cx="153.67" cy="107.67" r="1.1" fill="#2ea7ba"/>
<circle cx="154.73" cy="107.82" r="1.1" fill="#2ea7ba"/>
<circle cx="156.46" cy="107.85" r="1.1" fill="#2ea7ba"/>
<circle cx="153.87" cy="106.38" r="1.1" fill="#2ea7ba"/>
<circle cx="154.81" cy="106.41" r="1.1" fill="#2ea7ba"/>
<circle cx="156.19" cy="106.32" r="1.1" fill="#2ea7ba"/>
<circle cx="153.90" cy="104.78" r="1.1" fill="#2ea7ba"/>
<circle cx="154.89" cy="104.67" r="1.1" fill="#2ea7ba"/>
<circle cx="156.03" cy="104.81" r="1.1" fill="#2ea7ba"/>
<circle cx="153.74" cy="103.34" r="1.1" fill="#2ea7ba"/>
<circle cx="154.68" cy="103.23" r="1.1" fill="#2ea7ba"/>
<circle cx="156.47" cy="103.17" r="1.1" fill="#2ea7ba"/>
<circle cx="153.86" cy="101.80" r="1.1" fill="#2ea7ba"/>
<circle cx="154.87" cy="102.04" r="1.1" fill="#2ea7ba"/>
<circle cx="156.08" cy="101.94" r="1.1" fill="#2ea7ba"/>
<circle cx="153.58" cy="100.08" r="1.1" fill="#2ea7ba"/>
<circle cx="155.28" cy="100.27" r="1.1" fill="#2ea7ba"/>
<circle cx="155.91" cy="100.24" r="1.1" fill="#2ea7ba"/>
<circle cx="153.78" cy="98.92" r="1.1" fill="#2ea7ba"/>
<circle cx="154.75" cy="98.66" r="1.1" fill="#2ea7ba"/>
<circle cx="156.54" cy="98.92" r="1.1" fill="#2ea7ba"/>
<circle cx="153.58" cy="97.22" r="1.1" fill="#2ea7ba"/>
<circle cx="154.92" cy="97.39" r="1.1" fill="#2ea7ba"/>
<circle cx="156.30" cy="97.47" r="1.1" fill="#2ea7ba"/>
<circle cx="154.18" cy="95.81" r="1.1" fill="#2ea7ba"/>
<circle cx="156.26" cy="95.92" r="1.1" fill="#2ea7ba"/>
<circle cx="154.46" cy="94.29" r="1.1" fill="#2ea7ba"/>
<circle cx="155.96" cy="94.40" r="1.1" fill="#2ea7ba"/>
<circle cx="154.90" cy="92.61" r="1.1" fill="#2ea7ba"/>
<circle cx="155.69" cy="92.55" r="1.1" fill="#2ea7ba"/>
<circle cx="155.18" cy="92.90" r="1.265" fill="#2ea7ba"/>
<rect x="157.72" y="80.70" width="3.40" height="27.50" fill="#dc4a3c"/>
<rect x="158.72" y="78.20" width="1.4" height="3" fill="#dc4a3c"/>
<circle cx="157.98" cy="107.80" r="1.1" fill="#dc4a3c"/>
<circle cx="159.74" cy="107.84" r="1.1" fill="#dc4a3c"/>
<circle cx="160.86" cy="107.94" r="1.1" fill="#dc4a3c"/>
<circle cx="158.18" cy="106.35" r="1.1" fill="#dc4a3c"/>
<circle cx="159.34" cy="106.28" r="1.1" fill="#dc4a3c"/>
<circle cx="160.89" cy="106.41" r="1.1" fill="#dc4a3c"/>
<circle cx="157.78" cy="104.75" r="1.1" fill="#dc4a3c"/>
<circle cx="159.46" cy="104.74" r="1.1" fill="#dc4a3c"/>
<circle cx="160.80" cy="104.94" r="1.1" fill="#dc4a3c"/>
<circle cx="158.16" cy="103.30" r="1.1" fill="#dc4a3c"/>
<circle cx="159.38" cy="103.14" r="1.1" fill="#dc4a3c"/>
<circle cx="160.78" cy="103.12" r="1.1" fill="#dc4a3c"/>
<circle cx="157.97" cy="101.84" r="1.1" fill="#dc4a3c"/>
<circle cx="159.13" cy="102.01" r="1.1" fill="#dc4a3c"/>
<circle cx="160.80" cy="101.97" r="1.1" fill="#dc4a3c"/>
<circle cx="158.16" cy="100.53" r="1.1" fill="#dc4a3c"/>
<circle cx="159.21" cy="100.26" r="1.1" fill="#dc4a3c"/>
<circle cx="161.21" cy="100.06" r="1.1" fill="#dc4a3c"/>
<circle cx="157.60" cy="98.83" r="1.1" fill="#dc4a3c"/>
<circle cx="159.42" cy="99.01" r="1.1" fill="#dc4a3c"/>
<circle cx="161.11" cy="98.82" r="1.1" fill="#dc4a3c"/>
<circle cx="158.27" cy="97.31" r="1.1" fill="#dc4a3c"/>
<circle cx="159.43" cy="97.39" r="1.1" fill="#dc4a3c"/>
<circle cx="160.84" cy="97.23" r="1.1" fill="#dc4a3c"/>
<circle cx="157.99" cy="95.73" r="1.1" fill="#dc4a3c"/>
<circle cx="159.73" cy="95.89" r="1.1" fill="#dc4a3c"/>
<circle cx="160.94" cy="95.60" r="1.1" fill="#dc4a3c"/>
<circle cx="157.83" cy="94.25" r="1.1" fill="#dc4a3c"/>
<circle cx="159.46" cy="94.34" r="1.1" fill="#dc4a3c"/>
<circle cx="161.19" cy="94.53" r="1.1" fill="#dc4a3c"/>
<circle cx="157.91" cy="92.77" r="1.1" fill="#dc4a3c"/>
<circle cx="159.51" cy="93.05" r="1.1" fill="#dc4a3c"/>
<circle cx="160.81" cy="92.82" r="1.1" fill="#dc4a3c"/>
<circle cx="158.14" cy="91.14" r="1.1" fill="#dc4a3c"/>
<circle cx="159.29" cy="91.54" r="1.1" fill="#dc4a3c"/>
<circle cx="161.15" cy="91.31" r="1.1" fill="#dc4a3c"/>
<circle cx="157.65" cy="90.00" r="1.1" fill="#dc4a3c"/>
<circle cx="159.55" cy="89.96" r="1.1" fill="#dc4a3c"/>
<circle cx="161.26" cy="89.99" r="1.1" fill="#dc4a3c"/>
<circle cx="157.86" cy="88.13" r="1.1" fill="#dc4a3c"/>
<circle cx="159.27" cy="88.31" r="1.1" fill="#dc4a3c"/>
<circle cx="160.92" cy="88.14" r="1.1" fill="#dc4a3c"/>
<circle cx="157.70" cy="86.87" r="1.1" fill="#dc4a3c"/>
<circle cx="159.49" cy="86.73" r="1.1" fill="#dc4a3c"/>
<circle cx="161.27" cy="86.87" r="1.1" fill="#dc4a3c"/>
<circle cx="157.60" cy="85.26" r="1.1" fill="#dc4a3c"/>
<circle cx="159.62" cy="85.20" r="1.1" fill="#dc4a3c"/>
<circle cx="161.05" cy="85.05" r="1.1" fill="#dc4a3c"/>
<circle cx="157.78" cy="83.97" r="1.1" fill="#dc4a3c"/>
<circle cx="159.48" cy="83.88" r="1.1" fill="#dc4a3c"/>
<circle cx="160.71" cy="83.80" r="1.1" fill="#dc4a3c"/>
<circle cx="157.96" cy="82.18" r="1.1" fill="#dc4a3c"/>
<circle cx="159.52" cy="82.32" r="1.1" fill="#dc4a3c"/>
<circle cx="161.27" cy="82.34" r="1.1" fill="#dc4a3c"/>
<circle cx="158.08" cy="80.61" r="1.1" fill="#dc4a3c"/>
<circle cx="160.45" cy="80.93" r="1.1" fill="#dc4a3c"/>
<circle cx="158.24" cy="79.10" r="1.1" fill="#dc4a3c"/>
<circle cx="160.09" cy="79.31" r="1.1" fill="#dc4a3c"/>
<circle cx="159.61" cy="78.20" r="1.265" fill="#dc4a3c"/>
<rect x="164.08" y="70.70" width="2.80" height="7.70" fill="#2ea7ba"/>
<rect x="164.78" y="68.20" width="1.4" height="3" fill="#2ea7ba"/>
<circle cx="164.36" cy="78.15" r="1.1" fill="#2ea7ba"/>
<circle cx="165.17" cy="77.76" r="1.1" fill="#2ea7ba"/>
<circle cx="166.87" cy="77.91" r="1.1" fill="#2ea7ba"/>
<circle cx="164.43" cy="76.43" r="1.1" fill="#2ea7ba"/>
<circle cx="165.25" cy="76.38" r="1.1" fill="#2ea7ba"/>
<circle cx="166.40" cy="76.70" r="1.1" fill="#2ea7ba"/>
<circle cx="164.34" cy="74.92" r="1.1" fill="#2ea7ba"/>
<circle cx="165.44" cy="74.94" r="1.1" fill="#2ea7ba"/>
<circle cx="166.37" cy="75.20" r="1.1" fill="#2ea7ba"/>
<circle cx="164.34" cy="73.73" r="1.1" fill="#2ea7ba"/>
<circle cx="165.44" cy="73.56" r="1.1" fill="#2ea7ba"/>
<circle cx="166.50" cy="73.27" r="1.1" fill="#2ea7ba"/>
<circle cx="164.58" cy="72.18" r="1.1" fill="#2ea7ba"/>
<circle cx="165.35" cy="72.20" r="1.1" fill="#2ea7ba"/>
<circle cx="166.90" cy="71.90" r="1.1" fill="#2ea7ba"/>
<circle cx="164.62" cy="70.73" r="1.1" fill="#2ea7ba"/>
<circle cx="166.41" cy="70.72" r="1.1" fill="#2ea7ba"/>
<circle cx="164.69" cy="68.94" r="1.1" fill="#2ea7ba"/>
<circle cx="166.24" cy="68.86" r="1.1" fill="#2ea7ba"/>
<circle cx="165.37" cy="68.20" r="1.265" fill="#2ea7ba"/>
<rect x="168.18" y="96.60" width="3.40" height="11.60" fill="#dc4a3c"/>
<rect x="169.18" y="94.10" width="1.4" height="3" fill="#dc4a3c"/>
<circle cx="168.64" cy="107.79" r="1.1" fill="#dc4a3c"/>
<circle cx="170.08" cy="107.67" r="1.1" fill="#dc4a3c"/>
<circle cx="171.15" cy="107.73" r="1.1" fill="#dc4a3c"/>
<circle cx="168.16" cy="106.54" r="1.1" fill="#dc4a3c"/>
<circle cx="169.73" cy="106.33" r="1.1" fill="#dc4a3c"/>
<circle cx="171.11" cy="106.32" r="1.1" fill="#dc4a3c"/>
<circle cx="168.30" cy="104.75" r="1.1" fill="#dc4a3c"/>
<circle cx="169.58" cy="104.61" r="1.1" fill="#dc4a3c"/>
<circle cx="171.61" cy="104.73" r="1.1" fill="#dc4a3c"/>
<circle cx="168.20" cy="103.15" r="1.1" fill="#dc4a3c"/>
<circle cx="169.73" cy="103.17" r="1.1" fill="#dc4a3c"/>
<circle cx="171.05" cy="103.38" r="1.1" fill="#dc4a3c"/>
<circle cx="168.27" cy="101.63" r="1.1" fill="#dc4a3c"/>
<circle cx="170.02" cy="101.60" r="1.1" fill="#dc4a3c"/>
<circle cx="171.22" cy="101.97" r="1.1" fill="#dc4a3c"/>
<circle cx="168.12" cy="100.27" r="1.1" fill="#dc4a3c"/>
<circle cx="170.12" cy="100.45" r="1.1" fill="#dc4a3c"/>
<circle cx="171.14" cy="100.23" r="1.1" fill="#dc4a3c"/>
<circle cx="168.54" cy="98.74" r="1.1" fill="#dc4a3c"/>
<circle cx="170.20" cy="98.65" r="1.1" fill="#dc4a3c"/>
<circle cx="171.70" cy="98.80" r="1.1" fill="#dc4a3c"/>
<circle cx="168.26" cy="97.28" r="1.1" fill="#dc4a3c"/>
<circle cx="171.05" cy="97.40" r="1.1" fill="#dc4a3c"/>
<circle cx="168.66" cy="96.00" r="1.1" fill="#dc4a3c"/>
<circle cx="170.99" cy="95.73" r="1.1" fill="#dc4a3c"/>
<circle cx="169.03" cy="94.35" r="1.1" fill="#dc4a3c"/>
<circle cx="170.35" cy="94.49" r="1.1" fill="#dc4a3c"/>
<circle cx="169.65" cy="94.10" r="1.265" fill="#dc4a3c"/>
<rect x="174.84" y="90.30" width="2.20" height="17.90" fill="#2ea7ba"/>
<rect x="175.24" y="87.80" width="1.4" height="3" fill="#2ea7ba"/>
<circle cx="175.05" cy="107.82" r="1.1" fill="#2ea7ba"/>
<circle cx="175.78" cy="107.94" r="1.1" fill="#2ea7ba"/>
<circle cx="176.76" cy="107.88" r="1.1" fill="#2ea7ba"/>
<circle cx="175.09" cy="106.21" r="1.1" fill="#2ea7ba"/>
<circle cx="175.86" cy="106.09" r="1.1" fill="#2ea7ba"/>
<circle cx="176.61" cy="106.48" r="1.1" fill="#2ea7ba"/>
<circle cx="174.91" cy="104.88" r="1.1" fill="#2ea7ba"/>
<circle cx="175.67" cy="104.83" r="1.1" fill="#2ea7ba"/>
<circle cx="176.74" cy="104.80" r="1.1" fill="#2ea7ba"/>
<circle cx="174.90" cy="103.08" r="1.1" fill="#2ea7ba"/>
<circle cx="175.81" cy="103.16" r="1.1" fill="#2ea7ba"/>
<circle cx="176.58" cy="103.41" r="1.1" fill="#2ea7ba"/>
<circle cx="174.89" cy="101.75" r="1.1" fill="#2ea7ba"/>
<circle cx="176.23" cy="101.94" r="1.1" fill="#2ea7ba"/>
<circle cx="177.11" cy="101.98" r="1.1" fill="#2ea7ba"/>
<circle cx="174.78" cy="100.19" r="1.1" fill="#2ea7ba"/>
<circle cx="175.61" cy="100.39" r="1.1" fill="#2ea7ba"/>
<circle cx="176.95" cy="100.23" r="1.1" fill="#2ea7ba"/>
<circle cx="174.98" cy="98.88" r="1.1" fill="#2ea7ba"/>
<circle cx="176.08" cy="98.67" r="1.1" fill="#2ea7ba"/>
<circle cx="177.08" cy="98.73" r="1.1" fill="#2ea7ba"/>
<circle cx="175.13" cy="97.14" r="1.1" fill="#2ea7ba"/>
<circle cx="175.67" cy="97.51" r="1.1" fill="#2ea7ba"/>
<circle cx="177.00" cy="97.41" r="1.1" fill="#2ea7ba"/>
<circle cx="174.72" cy="95.57" r="1.1" fill="#2ea7ba"/>
<circle cx="175.70" cy="95.65" r="1.1" fill="#2ea7ba"/>
<circle cx="176.70" cy="95.74" r="1.1" fill="#2ea7ba"/>
<circle cx="174.72" cy="94.21" r="1.1" fill="#2ea7ba"/>
<circle cx="176.04" cy="94.14" r="1.1" fill="#2ea7ba"/>
<circle cx="177.08" cy="94.34" r="1.1" fill="#2ea7ba"/>
<circle cx="175.19" cy="92.68" r="1.1" fill="#2ea7ba"/>
<circle cx="175.89" cy="92.89" r="1.1" fill="#2ea7ba"/>
<circle cx="176.73" cy="92.55" r="1.1" fill="#2ea7ba"/>
<circle cx="175.27" cy="91.44" r="1.1" fill="#2ea7ba"/>
<circle cx="175.79" cy="91.07" r="1.1" fill="#2ea7ba"/>
<circle cx="177.09" cy="91.35" r="1.1" fill="#2ea7ba"/>
<circle cx="175.01" cy="89.67" r="1.1" fill="#2ea7ba"/>
<circle cx="176.28" cy="89.95" r="1.1" fill="#2ea7ba"/>
<circle cx="175.41" cy="88.51" r="1.1" fill="#2ea7ba"/>
<circle cx="176.44" cy="88.09" r="1.1" fill="#2ea7ba"/>
<circle cx="176.06" cy="87.80" r="1.265" fill="#2ea7ba"/>
<rect x="178.94" y="97.90" width="2.80" height="10.30" fill="#dc4a3c"/>
<rect x="179.64" y="95.40" width="1.4" height="3" fill="#dc4a3c"/>
<circle cx="179.07" cy="107.92" r="1.1" fill="#dc4a3c"/>
<circle cx="180.57" cy="107.69" r="1.1" fill="#dc4a3c"/>
<circle cx="181.25" cy="108.02" r="1.1" fill="#dc4a3c"/>
<circle cx="179.09" cy="106.52" r="1.1" fill="#dc4a3c"/>
<circle cx="180.47" cy="106.42" r="1.1" fill="#dc4a3c"/>
<circle cx="181.77" cy="106.36" r="1.1" fill="#dc4a3c"/>
<circle cx="179.11" cy="104.58" r="1.1" fill="#dc4a3c"/>
<circle cx="180.48" cy="104.76" r="1.1" fill="#dc4a3c"/>
<circle cx="181.55" cy="105.01" r="1.1" fill="#dc4a3c"/>
<circle cx="178.88" cy="103.43" r="1.1" fill="#dc4a3c"/>
<circle cx="180.02" cy="103.40" r="1.1" fill="#dc4a3c"/>
<circle cx="181.75" cy="103.18" r="1.1" fill="#dc4a3c"/>
<circle cx="179.17" cy="102.03" r="1.1" fill="#dc4a3c"/>
<circle cx="180.44" cy="101.82" r="1.1" fill="#dc4a3c"/>
<circle cx="181.36" cy="101.58" r="1.1" fill="#dc4a3c"/>
<circle cx="179.04" cy="100.26" r="1.1" fill="#dc4a3c"/>
<circle cx="180.13" cy="100.21" r="1.1" fill="#dc4a3c"/>
<circle cx="181.29" cy="100.40" r="1.1" fill="#dc4a3c"/>
<circle cx="179.28" cy="98.67" r="1.1" fill="#dc4a3c"/>
<circle cx="181.34" cy="98.81" r="1.1" fill="#dc4a3c"/>
<circle cx="179.45" cy="97.52" r="1.1" fill="#dc4a3c"/>
<circle cx="181.08" cy="97.20" r="1.1" fill="#dc4a3c"/>
<circle cx="180.09" cy="95.62" r="1.1" fill="#dc4a3c"/>
<circle cx="180.90" cy="95.72" r="1.1" fill="#dc4a3c"/>
<circle cx="180.53" cy="95.40" r="1.265" fill="#dc4a3c"/>
<line x1="190.50" y1="43.30" x2="190.50" y2="77.00" stroke="#777" stroke-width="1.0"/>
<line x1="186.50" y1="78.50" x2="186.50" y2="86.00" stroke="#777" stroke-width="1.0"/>
<rect x="185.30" y="88.50" width="2.20" height="19.70" fill="#2ea7ba"/>
<rect x="185.70" y="86.00" width="1.4" height="3" fill="#2ea7ba"/>
<circle cx="185.53" cy="107.93" r="1.1" fill="#2ea7ba"/>
<circle cx="186.17" cy="107.88" r="1.1" fill="#2ea7ba"/>
<circle cx="187.37" cy="107.78" r="1.1" fill="#2ea7ba"/>
<circle cx="185.69" cy="106.47" r="1.1" fill="#2ea7ba"/>
<circle cx="186.13" cy="106.19" r="1.1" fill="#2ea7ba"/>
<circle cx="187.20" cy="106.15" r="1.1" fill="#2ea7ba"/>
<circle cx="185.19" cy="104.69" r="1.1" fill="#2ea7ba"/>
<circle cx="186.19" cy="104.90" r="1.1" fill="#2ea7ba"/>
<circle cx="187.26" cy="104.61" r="1.1" fill="#2ea7ba"/>
<circle cx="185.38" cy="103.28" r="1.1" fill="#2ea7ba"/>
<circle cx="186.30" cy="103.13" r="1.1" fill="#2ea7ba"/>
<circle cx="187.00" cy="103.06" r="1.1" fill="#2ea7ba"/>
<circle cx="185.84" cy="101.93" r="1.1" fill="#2ea7ba"/>
<circle cx="186.11" cy="101.91" r="1.1" fill="#2ea7ba"/>
<circle cx="187.64" cy="101.83" r="1.1" fill="#2ea7ba"/>
<circle cx="185.23" cy="100.29" r="1.1" fill="#2ea7ba"/>
<circle cx="186.35" cy="100.14" r="1.1" fill="#2ea7ba"/>
<circle cx="187.33" cy="100.05" r="1.1" fill="#2ea7ba"/>
<circle cx="185.79" cy="98.87" r="1.1" fill="#2ea7ba"/>
<circle cx="186.49" cy="99.02" r="1.1" fill="#2ea7ba"/>
<circle cx="187.41" cy="98.68" r="1.1" fill="#2ea7ba"/>
<circle cx="185.32" cy="97.12" r="1.1" fill="#2ea7ba"/>
<circle cx="186.07" cy="97.44" r="1.1" fill="#2ea7ba"/>
<circle cx="187.54" cy="97.20" r="1.1" fill="#2ea7ba"/>
<circle cx="185.28" cy="95.87" r="1.1" fill="#2ea7ba"/>
<circle cx="186.64" cy="96.01" r="1.1" fill="#2ea7ba"/>
<circle cx="187.07" cy="95.94" r="1.1" fill="#2ea7ba"/>
<circle cx="185.73" cy="94.42" r="1.1" fill="#2ea7ba"/>
<circle cx="186.28" cy="94.14" r="1.1" fill="#2ea7ba"/>
<circle cx="187.53" cy="94.21" r="1.1" fill="#2ea7ba"/>
<circle cx="185.41" cy="92.83" r="1.1" fill="#2ea7ba"/>
<circle cx="186.31" cy="92.97" r="1.1" fill="#2ea7ba"/>
<circle cx="187.12" cy="92.57" r="1.1" fill="#2ea7ba"/>
<circle cx="185.55" cy="91.36" r="1.1" fill="#2ea7ba"/>
<circle cx="186.62" cy="91.40" r="1.1" fill="#2ea7ba"/>
<circle cx="187.58" cy="91.52" r="1.1" fill="#2ea7ba"/>
<circle cx="185.50" cy="89.80" r="1.1" fill="#2ea7ba"/>
<circle cx="186.16" cy="89.70" r="1.1" fill="#2ea7ba"/>
<circle cx="187.36" cy="89.59" r="1.1" fill="#2ea7ba"/>
<circle cx="185.86" cy="88.13" r="1.1" fill="#2ea7ba"/>
<circle cx="187.03" cy="88.53" r="1.1" fill="#2ea7ba"/>
<circle cx="185.73" cy="86.57" r="1.1" fill="#2ea7ba"/>
<circle cx="186.74" cy="86.65" r="1.1" fill="#2ea7ba"/>
<circle cx="186.53" cy="86.00" r="1.265" fill="#2ea7ba"/>
<rect x="189.40" y="79.50" width="2.80" height="28.70" fill="#dc4a3c"/>
<rect x="190.10" y="77.00" width="1.4" height="3" fill="#dc4a3c"/>
<circle cx="189.25" cy="107.97" r="1.1" fill="#dc4a3c"/>
<circle cx="191.05" cy="107.94" r="1.1" fill="#dc4a3c"/>
<circle cx="191.95" cy="107.69" r="1.1" fill="#dc4a3c"/>
<circle cx="189.71" cy="106.31" r="1.1" fill="#dc4a3c"/>
<circle cx="190.74" cy="106.22" r="1.1" fill="#dc4a3c"/>
<circle cx="191.96" cy="106.38" r="1.1" fill="#dc4a3c"/>
<circle cx="189.83" cy="105.00" r="1.1" fill="#dc4a3c"/>
<circle cx="190.57" cy="104.70" r="1.1" fill="#dc4a3c"/>
<circle cx="191.96" cy="104.83" r="1.1" fill="#dc4a3c"/>
<circle cx="189.49" cy="103.15" r="1.1" fill="#dc4a3c"/>
<circle cx="190.51" cy="103.21" r="1.1" fill="#dc4a3c"/>
<circle cx="191.97" cy="103.54" r="1.1" fill="#dc4a3c"/>
<circle cx="189.89" cy="101.98" r="1.1" fill="#dc4a3c"/>
<circle cx="191.13" cy="102.03" r="1.1" fill="#dc4a3c"/>
<circle cx="192.08" cy="101.96" r="1.1" fill="#dc4a3c"/>
<circle cx="189.29" cy="100.39" r="1.1" fill="#dc4a3c"/>
<circle cx="190.88" cy="100.20" r="1.1" fill="#dc4a3c"/>
<circle cx="192.05" cy="100.53" r="1.1" fill="#dc4a3c"/>
<circle cx="189.59" cy="98.87" r="1.1" fill="#dc4a3c"/>
<circle cx="190.66" cy="98.72" r="1.1" fill="#dc4a3c"/>
<circle cx="192.27" cy="98.56" r="1.1" fill="#dc4a3c"/>
<circle cx="189.38" cy="97.39" r="1.1" fill="#dc4a3c"/>
<circle cx="190.76" cy="97.09" r="1.1" fill="#dc4a3c"/>
<circle cx="192.11" cy="97.24" r="1.1" fill="#dc4a3c"/>
<circle cx="189.66" cy="95.76" r="1.1" fill="#dc4a3c"/>
<circle cx="190.82" cy="95.83" r="1.1" fill="#dc4a3c"/>
<circle cx="191.93" cy="95.61" r="1.1" fill="#dc4a3c"/>
<circle cx="189.38" cy="94.49" r="1.1" fill="#dc4a3c"/>
<circle cx="190.83" cy="94.11" r="1.1" fill="#dc4a3c"/>
<circle cx="192.25" cy="94.18" r="1.1" fill="#dc4a3c"/>
<circle cx="189.32" cy="92.82" r="1.1" fill="#dc4a3c"/>
<circle cx="190.63" cy="92.79" r="1.1" fill="#dc4a3c"/>
<circle cx="192.04" cy="92.66" r="1.1" fill="#dc4a3c"/>
<circle cx="189.65" cy="91.11" r="1.1" fill="#dc4a3c"/>
<circle cx="190.81" cy="91.34" r="1.1" fill="#dc4a3c"/>
<circle cx="191.71" cy="91.25" r="1.1" fill="#dc4a3c"/>
<circle cx="189.30" cy="89.77" r="1.1" fill="#dc4a3c"/>
<circle cx="191.05" cy="89.83" r="1.1" fill="#dc4a3c"/>
<circle cx="192.15" cy="89.93" r="1.1" fill="#dc4a3c"/>
<circle cx="189.33" cy="88.55" r="1.1" fill="#dc4a3c"/>
<circle cx="190.96" cy="88.10" r="1.1" fill="#dc4a3c"/>
<circle cx="192.23" cy="88.25" r="1.1" fill="#dc4a3c"/>
<circle cx="189.37" cy="87.03" r="1.1" fill="#dc4a3c"/>
<circle cx="190.84" cy="86.94" r="1.1" fill="#dc4a3c"/>
<circle cx="191.75" cy="86.94" r="1.1" fill="#dc4a3c"/>
<circle cx="189.29" cy="85.17" r="1.1" fill="#dc4a3c"/>
<circle cx="190.71" cy="85.06" r="1.1" fill="#dc4a3c"/>
<circle cx="192.07" cy="85.16" r="1.1" fill="#dc4a3c"/>
<circle cx="189.46" cy="83.90" r="1.1" fill="#dc4a3c"/>
<circle cx="190.75" cy="83.99" r="1.1" fill="#dc4a3c"/>
<circle cx="192.08" cy="83.99" r="1.1" fill="#dc4a3c"/>
<circle cx="189.64" cy="82.51" r="1.1" fill="#dc4a3c"/>
<circle cx="191.06" cy="82.13" r="1.1" fill="#dc4a3c"/>
<circle cx="192.17" cy="82.22" r="1.1" fill="#dc4a3c"/>
<circle cx="189.78" cy="80.89" r="1.1" fill="#dc4a3c"/>
<circle cx="191.03" cy="80.61" r="1.1" fill="#dc4a3c"/>
<circle cx="191.91" cy="80.92" r="1.1" fill="#dc4a3c"/>
<circle cx="190.18" cy="79.41" r="1.1" fill="#dc4a3c"/>
<circle cx="191.42" cy="79.35" r="1.1" fill="#dc4a3c"/>
<circle cx="189.91" cy="77.82" r="1.1" fill="#dc4a3c"/>
<circle cx="191.62" cy="77.61" r="1.1" fill="#dc4a3c"/>
<circle cx="191.06" cy="77.00" r="1.265" fill="#dc4a3c"/>
<circle cx="186.40" cy="78.50" r="1.3" fill="#2ea7ba"/>
<circle cx="190.80" cy="43.3" r="1.35" fill="#c8463a" stroke="#6a3a36" stroke-width="0.35"/>
<circle cx="190.80" cy="65.9" r="1.35" fill="#c8463a" stroke="#6a3a36" stroke-width="0.35"/>
<circle cx="190.80" cy="71.6" r="1.35" fill="#c8463a" stroke="#6a3a36" stroke-width="0.35"/>
<line x1="201.50" y1="38.90" x2="201.50" y2="66.90" stroke="#777" stroke-width="1.0"/>
<rect x="195.76" y="100.40" width="2.20" height="7.80" fill="#2ea7ba"/>
<rect x="196.16" y="97.90" width="1.4" height="3" fill="#2ea7ba"/>
<circle cx="196.08" cy="107.68" r="1.1" fill="#2ea7ba"/>
<circle cx="196.65" cy="107.77" r="1.1" fill="#2ea7ba"/>
<circle cx="198.00" cy="107.84" r="1.1" fill="#2ea7ba"/>
<circle cx="195.69" cy="106.06" r="1.1" fill="#2ea7ba"/>
<circle cx="196.59" cy="106.45" r="1.1" fill="#2ea7ba"/>
<circle cx="197.54" cy="106.33" r="1.1" fill="#2ea7ba"/>
<circle cx="195.81" cy="104.89" r="1.1" fill="#2ea7ba"/>
<circle cx="196.78" cy="104.62" r="1.1" fill="#2ea7ba"/>
<circle cx="198.02" cy="104.82" r="1.1" fill="#2ea7ba"/>
<circle cx="196.09" cy="103.45" r="1.1" fill="#2ea7ba"/>
<circle cx="197.17" cy="103.06" r="1.1" fill="#2ea7ba"/>
<circle cx="197.65" cy="103.13" r="1.1" fill="#2ea7ba"/>
<circle cx="195.96" cy="101.99" r="1.1" fill="#2ea7ba"/>
<circle cx="197.07" cy="101.57" r="1.1" fill="#2ea7ba"/>
<circle cx="197.54" cy="101.96" r="1.1" fill="#2ea7ba"/>
<circle cx="196.29" cy="100.25" r="1.1" fill="#2ea7ba"/>
<circle cx="197.53" cy="100.13" r="1.1" fill="#2ea7ba"/>
<circle cx="196.70" cy="98.75" r="1.1" fill="#2ea7ba"/>
<circle cx="197.53" cy="98.86" r="1.1" fill="#2ea7ba"/>
<circle cx="196.61" cy="97.90" r="1.265" fill="#2ea7ba"/>
<rect x="199.86" y="69.40" width="2.80" height="38.80" fill="#dc4a3c"/>
<rect x="200.56" y="66.90" width="1.4" height="3" fill="#dc4a3c"/>
<circle cx="199.94" cy="107.66" r="1.1" fill="#dc4a3c"/>
<circle cx="201.54" cy="107.84" r="1.1" fill="#dc4a3c"/>
<circle cx="202.14" cy="107.63" r="1.1" fill="#dc4a3c"/>
<circle cx="199.96" cy="106.28" r="1.1" fill="#dc4a3c"/>
<circle cx="201.31" cy="106.24" r="1.1" fill="#dc4a3c"/>
<circle cx="202.36" cy="106.05" r="1.1" fill="#dc4a3c"/>
<circle cx="200.12" cy="104.72" r="1.1" fill="#dc4a3c"/>
<circle cx="200.92" cy="104.78" r="1.1" fill="#dc4a3c"/>
<circle cx="202.80" cy="104.57" r="1.1" fill="#dc4a3c"/>
<circle cx="199.81" cy="103.39" r="1.1" fill="#dc4a3c"/>
<circle cx="201.10" cy="103.19" r="1.1" fill="#dc4a3c"/>
<circle cx="202.46" cy="103.18" r="1.1" fill="#dc4a3c"/>
<circle cx="200.11" cy="101.81" r="1.1" fill="#dc4a3c"/>
<circle cx="201.58" cy="102.05" r="1.1" fill="#dc4a3c"/>
<circle cx="202.13" cy="101.83" r="1.1" fill="#dc4a3c"/>
<circle cx="200.25" cy="100.49" r="1.1" fill="#dc4a3c"/>
<circle cx="201.45" cy="100.37" r="1.1" fill="#dc4a3c"/>
<circle cx="202.55" cy="100.23" r="1.1" fill="#dc4a3c"/>
<circle cx="199.91" cy="98.95" r="1.1" fill="#dc4a3c"/>
<circle cx="201.52" cy="99.02" r="1.1" fill="#dc4a3c"/>
<circle cx="202.59" cy="98.70" r="1.1" fill="#dc4a3c"/>
<circle cx="200.24" cy="97.42" r="1.1" fill="#dc4a3c"/>
<circle cx="201.27" cy="97.37" r="1.1" fill="#dc4a3c"/>
<circle cx="202.36" cy="97.33" r="1.1" fill="#dc4a3c"/>
<circle cx="199.99" cy="95.58" r="1.1" fill="#dc4a3c"/>
<circle cx="201.15" cy="95.71" r="1.1" fill="#dc4a3c"/>
<circle cx="202.80" cy="95.79" r="1.1" fill="#dc4a3c"/>
<circle cx="199.97" cy="94.17" r="1.1" fill="#dc4a3c"/>
<circle cx="201.07" cy="94.22" r="1.1" fill="#dc4a3c"/>
<circle cx="202.20" cy="94.05" r="1.1" fill="#dc4a3c"/>
<circle cx="200.32" cy="92.78" r="1.1" fill="#dc4a3c"/>
<circle cx="201.22" cy="92.83" r="1.1" fill="#dc4a3c"/>
<circle cx="202.32" cy="92.63" r="1.1" fill="#dc4a3c"/>
<circle cx="199.76" cy="91.20" r="1.1" fill="#dc4a3c"/>
<circle cx="201.13" cy="91.41" r="1.1" fill="#dc4a3c"/>
<circle cx="202.50" cy="91.52" r="1.1" fill="#dc4a3c"/>
<circle cx="199.95" cy="90.01" r="1.1" fill="#dc4a3c"/>
<circle cx="201.32" cy="89.59" r="1.1" fill="#dc4a3c"/>
<circle cx="202.24" cy="89.84" r="1.1" fill="#dc4a3c"/>
<circle cx="200.40" cy="88.23" r="1.1" fill="#dc4a3c"/>
<circle cx="201.45" cy="88.26" r="1.1" fill="#dc4a3c"/>
<circle cx="202.72" cy="88.08" r="1.1" fill="#dc4a3c"/>
<circle cx="200.05" cy="87.00" r="1.1" fill="#dc4a3c"/>
<circle cx="201.10" cy="86.68" r="1.1" fill="#dc4a3c"/>
<circle cx="202.13" cy="86.63" r="1.1" fill="#dc4a3c"/>
<circle cx="199.90" cy="85.40" r="1.1" fill="#dc4a3c"/>
<circle cx="201.06" cy="85.25" r="1.1" fill="#dc4a3c"/>
<circle cx="202.25" cy="85.35" r="1.1" fill="#dc4a3c"/>
<circle cx="200.31" cy="83.87" r="1.1" fill="#dc4a3c"/>
<circle cx="201.05" cy="83.92" r="1.1" fill="#dc4a3c"/>
<circle cx="202.78" cy="83.85" r="1.1" fill="#dc4a3c"/>
<circle cx="199.77" cy="82.45" r="1.1" fill="#dc4a3c"/>
<circle cx="201.52" cy="82.22" r="1.1" fill="#dc4a3c"/>
<circle cx="202.21" cy="82.14" r="1.1" fill="#dc4a3c"/>
<circle cx="200.09" cy="80.99" r="1.1" fill="#dc4a3c"/>
<circle cx="201.36" cy="81.01" r="1.1" fill="#dc4a3c"/>
<circle cx="202.26" cy="80.71" r="1.1" fill="#dc4a3c"/>
<circle cx="200.23" cy="79.37" r="1.1" fill="#dc4a3c"/>
<circle cx="201.19" cy="79.39" r="1.1" fill="#dc4a3c"/>
<circle cx="202.35" cy="79.08" r="1.1" fill="#dc4a3c"/>
<circle cx="200.00" cy="77.57" r="1.1" fill="#dc4a3c"/>
<circle cx="201.35" cy="77.72" r="1.1" fill="#dc4a3c"/>
<circle cx="202.46" cy="77.85" r="1.1" fill="#dc4a3c"/>
<circle cx="199.89" cy="76.28" r="1.1" fill="#dc4a3c"/>
<circle cx="200.92" cy="76.51" r="1.1" fill="#dc4a3c"/>
<circle cx="202.50" cy="76.54" r="1.1" fill="#dc4a3c"/>
<circle cx="199.75" cy="74.86" r="1.1" fill="#dc4a3c"/>
<circle cx="201.42" cy="74.71" r="1.1" fill="#dc4a3c"/>
<circle cx="202.18" cy="74.63" r="1.1" fill="#dc4a3c"/>
<circle cx="199.81" cy="73.43" r="1.1" fill="#dc4a3c"/>
<circle cx="200.97" cy="73.46" r="1.1" fill="#dc4a3c"/>
<circle cx="202.41" cy="73.32" r="1.1" fill="#dc4a3c"/>
<circle cx="200.12" cy="71.83" r="1.1" fill="#dc4a3c"/>
<circle cx="201.37" cy="71.85" r="1.1" fill="#dc4a3c"/>
<circle cx="202.34" cy="71.92" r="1.1" fill="#dc4a3c"/>
<circle cx="199.91" cy="70.41" r="1.1" fill="#dc4a3c"/>
<circle cx="202.62" cy="70.44" r="1.1" fill="#dc4a3c"/>
<circle cx="200.28" cy="68.94" r="1.1" fill="#dc4a3c"/>
<circle cx="202.44" cy="68.78" r="1.1" fill="#dc4a3c"/>
<circle cx="200.59" cy="67.31" r="1.1" fill="#dc4a3c"/>
<circle cx="202.09" cy="67.12" r="1.1" fill="#dc4a3c"/>
<circle cx="200.97" cy="66.90" r="1.265" fill="#dc4a3c"/>
<circle cx="201.26" cy="38.9" r="1.35" fill="#c8463a" stroke="#6a3a36" stroke-width="0.35"/>
<circle cx="201.26" cy="43.9" r="1.35" fill="#c8463a" stroke="#6a3a36" stroke-width="0.35"/>
<circle cx="201.26" cy="47.7" r="1.35" fill="#c8463a" stroke="#6a3a36" stroke-width="0.35"/>
<circle cx="201.26" cy="59.6" r="1.35" fill="#c8463a" stroke="#6a3a36" stroke-width="0.35"/>
<circle cx="201.26" cy="61.5" r="1.35" fill="#c8463a" stroke="#6a3a36" stroke-width="0.35"/>
<circle cx="201.26" cy="63.4" r="1.35" fill="#c8463a" stroke="#6a3a36" stroke-width="0.35"/>
<line x1="211.50" y1="47.10" x2="211.50" y2="76.00" stroke="#777" stroke-width="1.0"/>
<rect x="206.22" y="100.40" width="2.20" height="7.80" fill="#2ea7ba"/>
<rect x="206.62" y="97.90" width="1.4" height="3" fill="#2ea7ba"/>
<circle cx="206.40" cy="107.88" r="1.1" fill="#2ea7ba"/>
<circle cx="207.51" cy="107.73" r="1.1" fill="#2ea7ba"/>
<circle cx="208.56" cy="107.66" r="1.1" fill="#2ea7ba"/>
<circle cx="206.60" cy="106.09" r="1.1" fill="#2ea7ba"/>
<circle cx="206.99" cy="106.12" r="1.1" fill="#2ea7ba"/>
<circle cx="207.91" cy="106.30" r="1.1" fill="#2ea7ba"/>
<circle cx="206.46" cy="104.64" r="1.1" fill="#2ea7ba"/>
<circle cx="207.63" cy="104.73" r="1.1" fill="#2ea7ba"/>
<circle cx="207.97" cy="104.64" r="1.1" fill="#2ea7ba"/>
<circle cx="206.59" cy="103.51" r="1.1" fill="#2ea7ba"/>
<circle cx="207.08" cy="103.06" r="1.1" fill="#2ea7ba"/>
<circle cx="208.41" cy="103.17" r="1.1" fill="#2ea7ba"/>
<circle cx="206.76" cy="101.80" r="1.1" fill="#2ea7ba"/>
<circle cx="207.42" cy="101.72" r="1.1" fill="#2ea7ba"/>
<circle cx="208.43" cy="101.78" r="1.1" fill="#2ea7ba"/>
<circle cx="206.51" cy="100.50" r="1.1" fill="#2ea7ba"/>
<circle cx="207.74" cy="100.42" r="1.1" fill="#2ea7ba"/>
<circle cx="206.61" cy="98.87" r="1.1" fill="#2ea7ba"/>
<circle cx="207.66" cy="98.98" r="1.1" fill="#2ea7ba"/>
<circle cx="207.06" cy="97.90" r="1.265" fill="#2ea7ba"/>
<rect x="210.32" y="78.50" width="2.80" height="29.70" fill="#dc4a3c"/>
<rect x="211.02" y="76.00" width="1.4" height="3" fill="#dc4a3c"/>
<circle cx="210.56" cy="107.75" r="1.1" fill="#dc4a3c"/>
<circle cx="212.01" cy="108.02" r="1.1" fill="#dc4a3c"/>
<circle cx="213.01" cy="107.66" r="1.1" fill="#dc4a3c"/>
<circle cx="210.35" cy="106.18" r="1.1" fill="#dc4a3c"/>
<circle cx="211.67" cy="106.17" r="1.1" fill="#dc4a3c"/>
<circle cx="212.71" cy="106.43" r="1.1" fill="#dc4a3c"/>
<circle cx="210.62" cy="104.70" r="1.1" fill="#dc4a3c"/>
<circle cx="212.07" cy="104.66" r="1.1" fill="#dc4a3c"/>
<circle cx="212.97" cy="104.63" r="1.1" fill="#dc4a3c"/>
<circle cx="210.77" cy="103.48" r="1.1" fill="#dc4a3c"/>
<circle cx="211.56" cy="103.43" r="1.1" fill="#dc4a3c"/>
<circle cx="213.15" cy="103.19" r="1.1" fill="#dc4a3c"/>
<circle cx="210.40" cy="101.79" r="1.1" fill="#dc4a3c"/>
<circle cx="211.99" cy="101.63" r="1.1" fill="#dc4a3c"/>
<circle cx="213.05" cy="101.85" r="1.1" fill="#dc4a3c"/>
<circle cx="210.49" cy="100.34" r="1.1" fill="#dc4a3c"/>
<circle cx="211.99" cy="100.15" r="1.1" fill="#dc4a3c"/>
<circle cx="213.19" cy="100.23" r="1.1" fill="#dc4a3c"/>
<circle cx="210.72" cy="98.98" r="1.1" fill="#dc4a3c"/>
<circle cx="211.50" cy="98.98" r="1.1" fill="#dc4a3c"/>
<circle cx="213.27" cy="98.70" r="1.1" fill="#dc4a3c"/>
<circle cx="210.19" cy="97.11" r="1.1" fill="#dc4a3c"/>
<circle cx="212.05" cy="97.05" r="1.1" fill="#dc4a3c"/>
<circle cx="213.21" cy="97.13" r="1.1" fill="#dc4a3c"/>
<circle cx="210.69" cy="95.60" r="1.1" fill="#dc4a3c"/>
<circle cx="211.49" cy="95.89" r="1.1" fill="#dc4a3c"/>
<circle cx="212.63" cy="95.72" r="1.1" fill="#dc4a3c"/>
<circle cx="210.81" cy="94.41" r="1.1" fill="#dc4a3c"/>
<circle cx="211.99" cy="94.54" r="1.1" fill="#dc4a3c"/>
<circle cx="212.59" cy="94.17" r="1.1" fill="#dc4a3c"/>
<circle cx="210.72" cy="92.89" r="1.1" fill="#dc4a3c"/>
<circle cx="211.40" cy="92.80" r="1.1" fill="#dc4a3c"/>
<circle cx="212.73" cy="92.77" r="1.1" fill="#dc4a3c"/>
<circle cx="210.24" cy="91.06" r="1.1" fill="#dc4a3c"/>
<circle cx="212.06" cy="91.21" r="1.1" fill="#dc4a3c"/>
<circle cx="213.19" cy="91.11" r="1.1" fill="#dc4a3c"/>
<circle cx="210.51" cy="89.62" r="1.1" fill="#dc4a3c"/>
<circle cx="211.67" cy="89.64" r="1.1" fill="#dc4a3c"/>
<circle cx="213.05" cy="89.62" r="1.1" fill="#dc4a3c"/>
<circle cx="210.69" cy="88.30" r="1.1" fill="#dc4a3c"/>
<circle cx="211.45" cy="88.23" r="1.1" fill="#dc4a3c"/>
<circle cx="212.92" cy="88.51" r="1.1" fill="#dc4a3c"/>
<circle cx="210.41" cy="86.66" r="1.1" fill="#dc4a3c"/>
<circle cx="212.05" cy="86.99" r="1.1" fill="#dc4a3c"/>
<circle cx="213.08" cy="86.69" r="1.1" fill="#dc4a3c"/>
<circle cx="210.29" cy="85.18" r="1.1" fill="#dc4a3c"/>
<circle cx="211.42" cy="85.07" r="1.1" fill="#dc4a3c"/>
<circle cx="212.93" cy="85.25" r="1.1" fill="#dc4a3c"/>
<circle cx="210.56" cy="83.73" r="1.1" fill="#dc4a3c"/>
<circle cx="211.38" cy="83.89" r="1.1" fill="#dc4a3c"/>
<circle cx="213.03" cy="83.82" r="1.1" fill="#dc4a3c"/>
<circle cx="210.55" cy="82.40" r="1.1" fill="#dc4a3c"/>
<circle cx="212.06" cy="82.49" r="1.1" fill="#dc4a3c"/>
<circle cx="213.07" cy="82.25" r="1.1" fill="#dc4a3c"/>
<circle cx="210.39" cy="80.76" r="1.1" fill="#dc4a3c"/>
<circle cx="212.05" cy="80.74" r="1.1" fill="#dc4a3c"/>
<circle cx="212.84" cy="80.75" r="1.1" fill="#dc4a3c"/>
<circle cx="210.31" cy="79.55" r="1.1" fill="#dc4a3c"/>
<circle cx="212.53" cy="79.35" r="1.1" fill="#dc4a3c"/>
<circle cx="211.19" cy="77.68" r="1.1" fill="#dc4a3c"/>
<circle cx="212.62" cy="77.74" r="1.1" fill="#dc4a3c"/>
<circle cx="211.04" cy="76.15" r="1.1" fill="#dc4a3c"/>
<circle cx="211.95" cy="76.47" r="1.1" fill="#dc4a3c"/>
<circle cx="211.89" cy="76.00" r="1.265" fill="#dc4a3c"/>
<circle cx="211.72" cy="47.1" r="1.35" fill="#c8463a" stroke="#6a3a36" stroke-width="0.35"/>
<circle cx="211.72" cy="49.5" r="1.35" fill="#c8463a" stroke="#6a3a36" stroke-width="0.35"/>
<circle cx="211.72" cy="54" r="1.35" fill="#c8463a" stroke="#6a3a36" stroke-width="0.35"/>
<circle cx="211.72" cy="63.4" r="1.35" fill="#c8463a" stroke="#6a3a36" stroke-width="0.35"/>
<circle cx="211.72" cy="69" r="1.35" fill="#c8463a" stroke="#6a3a36" stroke-width="0.35"/>
<circle cx="211.72" cy="72" r="1.35" fill="#c8463a" stroke="#6a3a36" stroke-width="0.35"/>
<line x1="220.50" y1="36.80" x2="220.50" y2="55.60" stroke="#777" stroke-width="1.0"/>
<rect x="214.98" y="102.10" width="1.00" height="6.10" fill="#2ea7ba"/>
<rect x="214.78" y="99.60" width="1.4" height="3" fill="#2ea7ba"/>
<circle cx="215.47" cy="107.57" r="1.1" fill="#2ea7ba"/>
<circle cx="215.92" cy="107.71" r="1.1" fill="#2ea7ba"/>
<circle cx="215.28" cy="106.32" r="1.1" fill="#2ea7ba"/>
<circle cx="215.65" cy="106.54" r="1.1" fill="#2ea7ba"/>
<circle cx="214.83" cy="104.92" r="1.1" fill="#2ea7ba"/>
<circle cx="216.03" cy="104.81" r="1.1" fill="#2ea7ba"/>
<circle cx="215.24" cy="103.55" r="1.1" fill="#2ea7ba"/>
<circle cx="215.59" cy="103.36" r="1.1" fill="#2ea7ba"/>
<circle cx="215.52" cy="101.74" r="1.1" fill="#2ea7ba"/>
<circle cx="215.76" cy="101.75" r="1.1" fill="#2ea7ba"/>
<circle cx="215.56" cy="100.36" r="1.1" fill="#2ea7ba"/>
<circle cx="215.54" cy="100.21" r="1.1" fill="#2ea7ba"/>
<circle cx="215.56" cy="99.60" r="1.265" fill="#2ea7ba"/>
<rect x="218.78" y="58.10" width="2.60" height="50.10" fill="#dc4a3c"/>
<rect x="219.38" y="55.60" width="1.4" height="3" fill="#dc4a3c"/>
<circle cx="219.01" cy="107.66" r="1.1" fill="#dc4a3c"/>
<circle cx="220.16" cy="107.68" r="1.1" fill="#dc4a3c"/>
<circle cx="221.47" cy="107.79" r="1.1" fill="#dc4a3c"/>
<circle cx="219.14" cy="106.31" r="1.1" fill="#dc4a3c"/>
<circle cx="220.06" cy="106.16" r="1.1" fill="#dc4a3c"/>
<circle cx="220.93" cy="106.51" r="1.1" fill="#dc4a3c"/>
<circle cx="219.00" cy="104.81" r="1.1" fill="#dc4a3c"/>
<circle cx="220.10" cy="104.96" r="1.1" fill="#dc4a3c"/>
<circle cx="221.00" cy="104.64" r="1.1" fill="#dc4a3c"/>
<circle cx="219.21" cy="103.28" r="1.1" fill="#dc4a3c"/>
<circle cx="220.18" cy="103.46" r="1.1" fill="#dc4a3c"/>
<circle cx="221.46" cy="103.48" r="1.1" fill="#dc4a3c"/>
<circle cx="218.66" cy="101.74" r="1.1" fill="#dc4a3c"/>
<circle cx="220.31" cy="101.96" r="1.1" fill="#dc4a3c"/>
<circle cx="220.92" cy="101.63" r="1.1" fill="#dc4a3c"/>
<circle cx="218.81" cy="100.10" r="1.1" fill="#dc4a3c"/>
<circle cx="219.98" cy="100.45" r="1.1" fill="#dc4a3c"/>
<circle cx="221.19" cy="100.28" r="1.1" fill="#dc4a3c"/>
<circle cx="218.69" cy="98.75" r="1.1" fill="#dc4a3c"/>
<circle cx="220.43" cy="98.90" r="1.1" fill="#dc4a3c"/>
<circle cx="221.14" cy="98.79" r="1.1" fill="#dc4a3c"/>
<circle cx="219.19" cy="97.43" r="1.1" fill="#dc4a3c"/>
<circle cx="219.83" cy="97.39" r="1.1" fill="#dc4a3c"/>
<circle cx="221.09" cy="97.31" r="1.1" fill="#dc4a3c"/>
<circle cx="218.80" cy="95.74" r="1.1" fill="#dc4a3c"/>
<circle cx="219.97" cy="95.74" r="1.1" fill="#dc4a3c"/>
<circle cx="220.84" cy="95.65" r="1.1" fill="#dc4a3c"/>
<circle cx="219.03" cy="94.08" r="1.1" fill="#dc4a3c"/>
<circle cx="219.85" cy="94.41" r="1.1" fill="#dc4a3c"/>
<circle cx="221.02" cy="94.21" r="1.1" fill="#dc4a3c"/>
<circle cx="218.80" cy="92.97" r="1.1" fill="#dc4a3c"/>
<circle cx="219.79" cy="92.87" r="1.1" fill="#dc4a3c"/>
<circle cx="221.43" cy="92.65" r="1.1" fill="#dc4a3c"/>
<circle cx="218.93" cy="91.45" r="1.1" fill="#dc4a3c"/>
<circle cx="220.16" cy="91.24" r="1.1" fill="#dc4a3c"/>
<circle cx="220.86" cy="91.27" r="1.1" fill="#dc4a3c"/>
<circle cx="218.89" cy="89.91" r="1.1" fill="#dc4a3c"/>
<circle cx="219.94" cy="89.75" r="1.1" fill="#dc4a3c"/>
<circle cx="221.28" cy="89.96" r="1.1" fill="#dc4a3c"/>
<circle cx="218.88" cy="88.24" r="1.1" fill="#dc4a3c"/>
<circle cx="220.14" cy="88.51" r="1.1" fill="#dc4a3c"/>
<circle cx="220.96" cy="88.54" r="1.1" fill="#dc4a3c"/>
<circle cx="219.13" cy="86.74" r="1.1" fill="#dc4a3c"/>
<circle cx="220.20" cy="86.71" r="1.1" fill="#dc4a3c"/>
<circle cx="220.88" cy="86.93" r="1.1" fill="#dc4a3c"/>
<circle cx="218.90" cy="85.31" r="1.1" fill="#dc4a3c"/>
<circle cx="220.08" cy="85.50" r="1.1" fill="#dc4a3c"/>
<circle cx="221.36" cy="85.06" r="1.1" fill="#dc4a3c"/>
<circle cx="219.04" cy="83.78" r="1.1" fill="#dc4a3c"/>
<circle cx="220.05" cy="83.97" r="1.1" fill="#dc4a3c"/>
<circle cx="221.12" cy="83.79" r="1.1" fill="#dc4a3c"/>
<circle cx="219.25" cy="82.27" r="1.1" fill="#dc4a3c"/>
<circle cx="220.07" cy="82.31" r="1.1" fill="#dc4a3c"/>
<circle cx="221.41" cy="82.39" r="1.1" fill="#dc4a3c"/>
<circle cx="219.15" cy="80.75" r="1.1" fill="#dc4a3c"/>
<circle cx="219.76" cy="80.89" r="1.1" fill="#dc4a3c"/>
<circle cx="221.22" cy="80.93" r="1.1" fill="#dc4a3c"/>
<circle cx="219.17" cy="79.11" r="1.1" fill="#dc4a3c"/>
<circle cx="219.88" cy="79.09" r="1.1" fill="#dc4a3c"/>
<circle cx="221.40" cy="79.10" r="1.1" fill="#dc4a3c"/>
<circle cx="218.69" cy="77.93" r="1.1" fill="#dc4a3c"/>
<circle cx="220.13" cy="77.58" r="1.1" fill="#dc4a3c"/>
<circle cx="221.31" cy="77.91" r="1.1" fill="#dc4a3c"/>
<circle cx="218.97" cy="76.08" r="1.1" fill="#dc4a3c"/>
<circle cx="220.21" cy="76.26" r="1.1" fill="#dc4a3c"/>
<circle cx="221.24" cy="76.55" r="1.1" fill="#dc4a3c"/>
<circle cx="219.20" cy="74.99" r="1.1" fill="#dc4a3c"/>
<circle cx="219.83" cy="74.72" r="1.1" fill="#dc4a3c"/>
<circle cx="221.19" cy="74.55" r="1.1" fill="#dc4a3c"/>
<circle cx="219.32" cy="73.19" r="1.1" fill="#dc4a3c"/>
<circle cx="219.91" cy="73.21" r="1.1" fill="#dc4a3c"/>
<circle cx="221.01" cy="73.48" r="1.1" fill="#dc4a3c"/>
<circle cx="219.02" cy="71.81" r="1.1" fill="#dc4a3c"/>
<circle cx="220.02" cy="71.58" r="1.1" fill="#dc4a3c"/>
<circle cx="221.04" cy="71.98" r="1.1" fill="#dc4a3c"/>
<circle cx="219.19" cy="70.48" r="1.1" fill="#dc4a3c"/>
<circle cx="219.91" cy="70.15" r="1.1" fill="#dc4a3c"/>
<circle cx="220.87" cy="70.32" r="1.1" fill="#dc4a3c"/>
<circle cx="218.89" cy="68.78" r="1.1" fill="#dc4a3c"/>
<circle cx="220.07" cy="68.84" r="1.1" fill="#dc4a3c"/>
<circle cx="221.09" cy="68.95" r="1.1" fill="#dc4a3c"/>
<circle cx="218.77" cy="67.51" r="1.1" fill="#dc4a3c"/>
<circle cx="220.12" cy="67.08" r="1.1" fill="#dc4a3c"/>
<circle cx="221.05" cy="67.32" r="1.1" fill="#dc4a3c"/>
<circle cx="218.92" cy="65.83" r="1.1" fill="#dc4a3c"/>
<circle cx="219.96" cy="65.69" r="1.1" fill="#dc4a3c"/>
<circle cx="221.39" cy="65.70" r="1.1" fill="#dc4a3c"/>
<circle cx="219.13" cy="64.45" r="1.1" fill="#dc4a3c"/>
<circle cx="220.14" cy="64.28" r="1.1" fill="#dc4a3c"/>
<circle cx="221.48" cy="64.27" r="1.1" fill="#dc4a3c"/>
<circle cx="219.24" cy="62.58" r="1.1" fill="#dc4a3c"/>
<circle cx="220.03" cy="62.87" r="1.1" fill="#dc4a3c"/>
<circle cx="220.86" cy="62.98" r="1.1" fill="#dc4a3c"/>
<circle cx="218.68" cy="61.35" r="1.1" fill="#dc4a3c"/>
<circle cx="219.86" cy="61.51" r="1.1" fill="#dc4a3c"/>
<circle cx="221.22" cy="61.45" r="1.1" fill="#dc4a3c"/>
<circle cx="218.98" cy="59.89" r="1.1" fill="#dc4a3c"/>
<circle cx="220.20" cy="59.70" r="1.1" fill="#dc4a3c"/>
<circle cx="220.98" cy="59.97" r="1.1" fill="#dc4a3c"/>
<circle cx="218.90" cy="58.51" r="1.1" fill="#dc4a3c"/>
<circle cx="220.81" cy="58.10" r="1.1" fill="#dc4a3c"/>
<circle cx="219.18" cy="56.94" r="1.1" fill="#dc4a3c"/>
<circle cx="221.01" cy="56.76" r="1.1" fill="#dc4a3c"/>
<circle cx="220.18" cy="55.60" r="1.265" fill="#dc4a3c"/>
<circle cx="220.08" cy="36.8" r="1.35" fill="#c8463a" stroke="#6a3a36" stroke-width="0.35"/>
<rect x="215.68" y="86.2" width="8.8" height="18.20" fill="#dc4a3c" stroke="#3a1d1a" stroke-width="0.5"/>
<line x1="215.68" y1="97.50" x2="224.48" y2="97.50" stroke="#8a3328" stroke-width="0.6"/>
<circle cx="216.08" cy="97.50" r="0.9" fill="#2a1a18"/>
<circle cx="224.08" cy="97.50" r="0.9" fill="#2a1a18"/>
<line x1="232.50" y1="47.70" x2="232.50" y2="62.60" stroke="#777" stroke-width="1.0"/>
<rect x="227.14" y="97.20" width="2.20" height="11.00" fill="#2ea7ba"/>
<rect x="227.54" y="94.70" width="1.4" height="3" fill="#2ea7ba"/>
<circle cx="227.17" cy="108.00" r="1.1" fill="#2ea7ba"/>
<circle cx="228.37" cy="107.63" r="1.1" fill="#2ea7ba"/>
<circle cx="228.83" cy="107.90" r="1.1" fill="#2ea7ba"/>
<circle cx="227.02" cy="106.47" r="1.1" fill="#2ea7ba"/>
<circle cx="228.10" cy="106.17" r="1.1" fill="#2ea7ba"/>
<circle cx="229.20" cy="106.21" r="1.1" fill="#2ea7ba"/>
<circle cx="227.38" cy="104.63" r="1.1" fill="#2ea7ba"/>
<circle cx="228.53" cy="104.71" r="1.1" fill="#2ea7ba"/>
<circle cx="229.38" cy="104.63" r="1.1" fill="#2ea7ba"/>
<circle cx="227.55" cy="103.54" r="1.1" fill="#2ea7ba"/>
<circle cx="228.16" cy="103.07" r="1.1" fill="#2ea7ba"/>
<circle cx="229.06" cy="103.37" r="1.1" fill="#2ea7ba"/>
<circle cx="227.15" cy="101.82" r="1.1" fill="#2ea7ba"/>
<circle cx="227.96" cy="101.78" r="1.1" fill="#2ea7ba"/>
<circle cx="229.30" cy="101.76" r="1.1" fill="#2ea7ba"/>
<circle cx="227.47" cy="100.11" r="1.1" fill="#2ea7ba"/>
<circle cx="228.47" cy="100.11" r="1.1" fill="#2ea7ba"/>
<circle cx="229.44" cy="100.55" r="1.1" fill="#2ea7ba"/>
<circle cx="227.65" cy="98.81" r="1.1" fill="#2ea7ba"/>
<circle cx="228.09" cy="98.72" r="1.1" fill="#2ea7ba"/>
<circle cx="229.32" cy="98.80" r="1.1" fill="#2ea7ba"/>
<circle cx="227.81" cy="97.10" r="1.1" fill="#2ea7ba"/>
<circle cx="228.96" cy="97.48" r="1.1" fill="#2ea7ba"/>
<circle cx="227.86" cy="95.82" r="1.1" fill="#2ea7ba"/>
<circle cx="228.40" cy="95.62" r="1.1" fill="#2ea7ba"/>
<circle cx="228.10" cy="94.70" r="1.265" fill="#2ea7ba"/>
<rect x="231.94" y="65.10" width="1.40" height="9.30" fill="#dc4a3c"/>
<rect x="231.94" y="62.60" width="1.4" height="3" fill="#dc4a3c"/>
<circle cx="232.42" cy="74.17" r="1.1" fill="#dc4a3c"/>
<circle cx="232.95" cy="74.21" r="1.1" fill="#dc4a3c"/>
<circle cx="231.81" cy="72.55" r="1.1" fill="#dc4a3c"/>
<circle cx="233.47" cy="72.42" r="1.1" fill="#dc4a3c"/>
<circle cx="232.45" cy="71.08" r="1.1" fill="#dc4a3c"/>
<circle cx="232.83" cy="70.92" r="1.1" fill="#dc4a3c"/>
<circle cx="232.10" cy="69.37" r="1.1" fill="#dc4a3c"/>
<circle cx="233.31" cy="69.34" r="1.1" fill="#dc4a3c"/>
<circle cx="232.34" cy="67.90" r="1.1" fill="#dc4a3c"/>
<circle cx="232.84" cy="68.03" r="1.1" fill="#dc4a3c"/>
<circle cx="231.86" cy="66.53" r="1.1" fill="#dc4a3c"/>
<circle cx="233.34" cy="66.55" r="1.1" fill="#dc4a3c"/>
<circle cx="232.28" cy="64.77" r="1.1" fill="#dc4a3c"/>
<circle cx="232.98" cy="64.80" r="1.1" fill="#dc4a3c"/>
<circle cx="232.63" cy="63.32" r="1.1" fill="#dc4a3c"/>
<circle cx="232.80" cy="63.43" r="1.1" fill="#dc4a3c"/>
<circle cx="232.56" cy="62.60" r="1.265" fill="#dc4a3c"/>
<rect x="231.24" y="75.80" width="2.80" height="32.40" fill="#dc4a3c"/>
<circle cx="231.55" cy="107.63" r="1.1" fill="#dc4a3c"/>
<circle cx="232.41" cy="108.02" r="1.1" fill="#dc4a3c"/>
<circle cx="233.72" cy="107.97" r="1.1" fill="#dc4a3c"/>
<circle cx="231.70" cy="106.29" r="1.1" fill="#dc4a3c"/>
<circle cx="232.39" cy="106.10" r="1.1" fill="#dc4a3c"/>
<circle cx="234.11" cy="106.11" r="1.1" fill="#dc4a3c"/>
<circle cx="231.44" cy="104.82" r="1.1" fill="#dc4a3c"/>
<circle cx="232.37" cy="104.78" r="1.1" fill="#dc4a3c"/>
<circle cx="233.60" cy="104.82" r="1.1" fill="#dc4a3c"/>
<circle cx="231.44" cy="103.23" r="1.1" fill="#dc4a3c"/>
<circle cx="232.43" cy="103.25" r="1.1" fill="#dc4a3c"/>
<circle cx="233.63" cy="103.11" r="1.1" fill="#dc4a3c"/>
<circle cx="231.26" cy="101.99" r="1.1" fill="#dc4a3c"/>
<circle cx="232.64" cy="102.00" r="1.1" fill="#dc4a3c"/>
<circle cx="233.50" cy="102.02" r="1.1" fill="#dc4a3c"/>
<circle cx="231.43" cy="100.45" r="1.1" fill="#dc4a3c"/>
<circle cx="232.69" cy="100.39" r="1.1" fill="#dc4a3c"/>
<circle cx="233.65" cy="100.43" r="1.1" fill="#dc4a3c"/>
<circle cx="231.20" cy="98.68" r="1.1" fill="#dc4a3c"/>
<circle cx="232.31" cy="98.75" r="1.1" fill="#dc4a3c"/>
<circle cx="233.85" cy="98.70" r="1.1" fill="#dc4a3c"/>
<circle cx="231.71" cy="97.09" r="1.1" fill="#dc4a3c"/>
<circle cx="232.69" cy="97.17" r="1.1" fill="#dc4a3c"/>
<circle cx="233.91" cy="97.44" r="1.1" fill="#dc4a3c"/>
<circle cx="231.59" cy="95.58" r="1.1" fill="#dc4a3c"/>
<circle cx="232.46" cy="95.85" r="1.1" fill="#dc4a3c"/>
<circle cx="234.18" cy="95.57" r="1.1" fill="#dc4a3c"/>
<circle cx="231.52" cy="94.40" r="1.1" fill="#dc4a3c"/>
<circle cx="232.86" cy="94.22" r="1.1" fill="#dc4a3c"/>
<circle cx="234.06" cy="94.28" r="1.1" fill="#dc4a3c"/>
<circle cx="231.73" cy="92.56" r="1.1" fill="#dc4a3c"/>
<circle cx="232.95" cy="92.76" r="1.1" fill="#dc4a3c"/>
<circle cx="233.77" cy="92.59" r="1.1" fill="#dc4a3c"/>
<circle cx="231.26" cy="91.42" r="1.1" fill="#dc4a3c"/>
<circle cx="232.77" cy="91.13" r="1.1" fill="#dc4a3c"/>
<circle cx="233.73" cy="91.12" r="1.1" fill="#dc4a3c"/>
<circle cx="231.23" cy="89.66" r="1.1" fill="#dc4a3c"/>
<circle cx="232.52" cy="90.04" r="1.1" fill="#dc4a3c"/>
<circle cx="234.19" cy="89.95" r="1.1" fill="#dc4a3c"/>
<circle cx="231.43" cy="88.30" r="1.1" fill="#dc4a3c"/>
<circle cx="232.84" cy="88.50" r="1.1" fill="#dc4a3c"/>
<circle cx="234.02" cy="88.37" r="1.1" fill="#dc4a3c"/>
<circle cx="231.23" cy="86.86" r="1.1" fill="#dc4a3c"/>
<circle cx="232.88" cy="86.94" r="1.1" fill="#dc4a3c"/>
<circle cx="233.55" cy="86.91" r="1.1" fill="#dc4a3c"/>
<circle cx="231.33" cy="85.13" r="1.1" fill="#dc4a3c"/>
<circle cx="232.97" cy="85.39" r="1.1" fill="#dc4a3c"/>
<circle cx="234.01" cy="85.12" r="1.1" fill="#dc4a3c"/>
<circle cx="231.67" cy="84.02" r="1.1" fill="#dc4a3c"/>
<circle cx="232.92" cy="83.92" r="1.1" fill="#dc4a3c"/>
<circle cx="234.07" cy="83.95" r="1.1" fill="#dc4a3c"/>
<circle cx="231.50" cy="82.27" r="1.1" fill="#dc4a3c"/>
<circle cx="232.87" cy="82.44" r="1.1" fill="#dc4a3c"/>
<circle cx="234.10" cy="82.20" r="1.1" fill="#dc4a3c"/>
<circle cx="231.76" cy="80.82" r="1.1" fill="#dc4a3c"/>
<circle cx="232.95" cy="80.61" r="1.1" fill="#dc4a3c"/>
<circle cx="234.17" cy="80.94" r="1.1" fill="#dc4a3c"/>
<circle cx="231.27" cy="79.47" r="1.1" fill="#dc4a3c"/>
<circle cx="232.45" cy="79.15" r="1.1" fill="#dc4a3c"/>
<circle cx="233.81" cy="79.17" r="1.1" fill="#dc4a3c"/>
<circle cx="231.43" cy="78.00" r="1.1" fill="#dc4a3c"/>
<circle cx="232.77" cy="77.91" r="1.1" fill="#dc4a3c"/>
<circle cx="233.76" cy="77.94" r="1.1" fill="#dc4a3c"/>
<circle cx="231.65" cy="76.39" r="1.1" fill="#dc4a3c"/>
<circle cx="232.95" cy="76.46" r="1.1" fill="#dc4a3c"/>
<circle cx="233.77" cy="76.09" r="1.1" fill="#dc4a3c"/>
<circle cx="232.73" cy="76.00" r="1.265" fill="#dc4a3c"/>
<circle cx="232.64" cy="47.7" r="1.35" fill="#c8463a" stroke="#6a3a36" stroke-width="0.35"/>
<circle cx="232.64" cy="54.7" r="1.35" fill="#c8463a" stroke="#6a3a36" stroke-width="0.35"/>
<line x1="243.50" y1="41.90" x2="243.50" y2="66.50" stroke="#777" stroke-width="1.0"/>
<rect x="237.90" y="97.20" width="1.60" height="11.00" fill="#2ea7ba"/>
<rect x="238.00" y="94.70" width="1.4" height="3" fill="#2ea7ba"/>
<circle cx="238.34" cy="107.72" r="1.1" fill="#2ea7ba"/>
<circle cx="239.37" cy="107.97" r="1.1" fill="#2ea7ba"/>
<circle cx="238.31" cy="106.05" r="1.1" fill="#2ea7ba"/>
<circle cx="239.29" cy="106.06" r="1.1" fill="#2ea7ba"/>
<circle cx="237.83" cy="104.96" r="1.1" fill="#2ea7ba"/>
<circle cx="239.24" cy="104.85" r="1.1" fill="#2ea7ba"/>
<circle cx="238.07" cy="103.22" r="1.1" fill="#2ea7ba"/>
<circle cx="239.10" cy="103.23" r="1.1" fill="#2ea7ba"/>
<circle cx="238.34" cy="101.86" r="1.1" fill="#2ea7ba"/>
<circle cx="239.15" cy="101.59" r="1.1" fill="#2ea7ba"/>
<circle cx="237.94" cy="100.40" r="1.1" fill="#2ea7ba"/>
<circle cx="239.26" cy="100.38" r="1.1" fill="#2ea7ba"/>
<circle cx="238.31" cy="98.61" r="1.1" fill="#2ea7ba"/>
<circle cx="239.43" cy="98.57" r="1.1" fill="#2ea7ba"/>
<circle cx="238.47" cy="97.14" r="1.1" fill="#2ea7ba"/>
<circle cx="239.00" cy="97.53" r="1.1" fill="#2ea7ba"/>
<circle cx="238.39" cy="95.66" r="1.1" fill="#2ea7ba"/>
<circle cx="239.19" cy="95.86" r="1.1" fill="#2ea7ba"/>
<circle cx="238.94" cy="94.70" r="1.265" fill="#2ea7ba"/>
<rect x="242.40" y="69.00" width="1.40" height="5.40" fill="#dc4a3c"/>
<rect x="242.40" y="66.50" width="1.4" height="3" fill="#dc4a3c"/>
<circle cx="242.53" cy="74.00" r="1.1" fill="#dc4a3c"/>
<circle cx="243.92" cy="74.00" r="1.1" fill="#dc4a3c"/>
<circle cx="242.94" cy="72.34" r="1.1" fill="#dc4a3c"/>
<circle cx="243.83" cy="72.33" r="1.1" fill="#dc4a3c"/>
<circle cx="242.62" cy="70.75" r="1.1" fill="#dc4a3c"/>
<circle cx="243.37" cy="71.22" r="1.1" fill="#dc4a3c"/>
<circle cx="242.64" cy="69.65" r="1.1" fill="#dc4a3c"/>
<circle cx="243.35" cy="69.43" r="1.1" fill="#dc4a3c"/>
<circle cx="242.62" cy="68.03" r="1.1" fill="#dc4a3c"/>
<circle cx="243.55" cy="68.01" r="1.1" fill="#dc4a3c"/>
<circle cx="243.04" cy="66.71" r="1.1" fill="#dc4a3c"/>
<circle cx="243.35" cy="66.58" r="1.1" fill="#dc4a3c"/>
<circle cx="242.85" cy="66.50" r="1.265" fill="#dc4a3c"/>
<rect x="241.40" y="75.80" width="3.40" height="32.40" fill="#dc4a3c"/>
<circle cx="241.69" cy="107.77" r="1.1" fill="#dc4a3c"/>
<circle cx="243.42" cy="107.73" r="1.1" fill="#dc4a3c"/>
<circle cx="244.71" cy="107.87" r="1.1" fill="#dc4a3c"/>
<circle cx="241.51" cy="106.31" r="1.1" fill="#dc4a3c"/>
<circle cx="243.22" cy="106.50" r="1.1" fill="#dc4a3c"/>
<circle cx="244.60" cy="106.23" r="1.1" fill="#dc4a3c"/>
<circle cx="241.93" cy="104.58" r="1.1" fill="#dc4a3c"/>
<circle cx="243.33" cy="104.89" r="1.1" fill="#dc4a3c"/>
<circle cx="244.64" cy="104.77" r="1.1" fill="#dc4a3c"/>
<circle cx="241.78" cy="103.50" r="1.1" fill="#dc4a3c"/>
<circle cx="243.26" cy="103.42" r="1.1" fill="#dc4a3c"/>
<circle cx="244.27" cy="103.21" r="1.1" fill="#dc4a3c"/>
<circle cx="241.35" cy="102.03" r="1.1" fill="#dc4a3c"/>
<circle cx="243.37" cy="101.62" r="1.1" fill="#dc4a3c"/>
<circle cx="244.66" cy="101.84" r="1.1" fill="#dc4a3c"/>
<circle cx="241.28" cy="100.25" r="1.1" fill="#dc4a3c"/>
<circle cx="243.27" cy="100.37" r="1.1" fill="#dc4a3c"/>
<circle cx="244.45" cy="100.43" r="1.1" fill="#dc4a3c"/>
<circle cx="241.45" cy="98.82" r="1.1" fill="#dc4a3c"/>
<circle cx="243.04" cy="99.04" r="1.1" fill="#dc4a3c"/>
<circle cx="244.70" cy="98.95" r="1.1" fill="#dc4a3c"/>
<circle cx="241.72" cy="97.24" r="1.1" fill="#dc4a3c"/>
<circle cx="243.42" cy="97.40" r="1.1" fill="#dc4a3c"/>
<circle cx="244.73" cy="97.19" r="1.1" fill="#dc4a3c"/>
<circle cx="241.36" cy="95.84" r="1.1" fill="#dc4a3c"/>
<circle cx="243.33" cy="95.95" r="1.1" fill="#dc4a3c"/>
<circle cx="244.49" cy="95.62" r="1.1" fill="#dc4a3c"/>
<circle cx="241.61" cy="94.49" r="1.1" fill="#dc4a3c"/>
<circle cx="242.86" cy="94.42" r="1.1" fill="#dc4a3c"/>
<circle cx="244.37" cy="94.21" r="1.1" fill="#dc4a3c"/>
<circle cx="241.29" cy="92.70" r="1.1" fill="#dc4a3c"/>
<circle cx="243.02" cy="93.03" r="1.1" fill="#dc4a3c"/>
<circle cx="244.92" cy="92.64" r="1.1" fill="#dc4a3c"/>
<circle cx="241.47" cy="91.52" r="1.1" fill="#dc4a3c"/>
<circle cx="242.89" cy="91.21" r="1.1" fill="#dc4a3c"/>
<circle cx="244.56" cy="91.10" r="1.1" fill="#dc4a3c"/>
<circle cx="241.43" cy="89.75" r="1.1" fill="#dc4a3c"/>
<circle cx="243.02" cy="90.03" r="1.1" fill="#dc4a3c"/>
<circle cx="244.44" cy="89.65" r="1.1" fill="#dc4a3c"/>
<circle cx="241.89" cy="88.28" r="1.1" fill="#dc4a3c"/>
<circle cx="243.34" cy="88.37" r="1.1" fill="#dc4a3c"/>
<circle cx="244.80" cy="88.21" r="1.1" fill="#dc4a3c"/>
<circle cx="241.36" cy="86.93" r="1.1" fill="#dc4a3c"/>
<circle cx="243.08" cy="86.83" r="1.1" fill="#dc4a3c"/>
<circle cx="244.72" cy="86.93" r="1.1" fill="#dc4a3c"/>
<circle cx="241.44" cy="85.23" r="1.1" fill="#dc4a3c"/>
<circle cx="243.39" cy="85.31" r="1.1" fill="#dc4a3c"/>
<circle cx="244.45" cy="85.37" r="1.1" fill="#dc4a3c"/>
<circle cx="241.43" cy="83.94" r="1.1" fill="#dc4a3c"/>
<circle cx="242.78" cy="83.96" r="1.1" fill="#dc4a3c"/>
<circle cx="244.65" cy="83.73" r="1.1" fill="#dc4a3c"/>
<circle cx="241.91" cy="82.18" r="1.1" fill="#dc4a3c"/>
<circle cx="242.92" cy="82.08" r="1.1" fill="#dc4a3c"/>
<circle cx="244.63" cy="82.43" r="1.1" fill="#dc4a3c"/>
<circle cx="241.72" cy="80.76" r="1.1" fill="#dc4a3c"/>
<circle cx="243.32" cy="80.61" r="1.1" fill="#dc4a3c"/>
<circle cx="244.46" cy="80.87" r="1.1" fill="#dc4a3c"/>
<circle cx="241.93" cy="79.37" r="1.1" fill="#dc4a3c"/>
<circle cx="243.23" cy="79.44" r="1.1" fill="#dc4a3c"/>
<circle cx="244.53" cy="79.52" r="1.1" fill="#dc4a3c"/>
<circle cx="241.77" cy="77.72" r="1.1" fill="#dc4a3c"/>
<circle cx="243.02" cy="77.95" r="1.1" fill="#dc4a3c"/>
<circle cx="244.49" cy="77.64" r="1.1" fill="#dc4a3c"/>
<circle cx="241.86" cy="76.32" r="1.1" fill="#dc4a3c"/>
<circle cx="243.11" cy="76.38" r="1.1" fill="#dc4a3c"/>
<circle cx="244.88" cy="76.12" r="1.1" fill="#dc4a3c"/>
<circle cx="243.00" cy="76.00" r="1.265" fill="#dc4a3c"/>
<circle cx="243.10" cy="41.9" r="1.35" fill="#c8463a" stroke="#6a3a36" stroke-width="0.35"/>
<line x1="253.50" y1="50.00" x2="253.50" y2="64.10" stroke="#777" stroke-width="1.0"/>
<rect x="247.76" y="99.10" width="2.80" height="9.10" fill="#2ea7ba"/>
<rect x="248.46" y="96.60" width="1.4" height="3" fill="#2ea7ba"/>
<circle cx="247.66" cy="107.76" r="1.1" fill="#2ea7ba"/>
<circle cx="249.16" cy="107.98" r="1.1" fill="#2ea7ba"/>
<circle cx="250.48" cy="107.84" r="1.1" fill="#2ea7ba"/>
<circle cx="247.89" cy="106.34" r="1.1" fill="#2ea7ba"/>
<circle cx="249.00" cy="106.47" r="1.1" fill="#2ea7ba"/>
<circle cx="250.56" cy="106.47" r="1.1" fill="#2ea7ba"/>
<circle cx="247.72" cy="104.89" r="1.1" fill="#2ea7ba"/>
<circle cx="249.34" cy="104.80" r="1.1" fill="#2ea7ba"/>
<circle cx="250.64" cy="105.00" r="1.1" fill="#2ea7ba"/>
<circle cx="248.13" cy="103.46" r="1.1" fill="#2ea7ba"/>
<circle cx="249.26" cy="103.49" r="1.1" fill="#2ea7ba"/>
<circle cx="250.10" cy="103.40" r="1.1" fill="#2ea7ba"/>
<circle cx="248.10" cy="101.86" r="1.1" fill="#2ea7ba"/>
<circle cx="249.00" cy="101.58" r="1.1" fill="#2ea7ba"/>
<circle cx="250.43" cy="101.96" r="1.1" fill="#2ea7ba"/>
<circle cx="247.80" cy="100.16" r="1.1" fill="#2ea7ba"/>
<circle cx="248.97" cy="100.10" r="1.1" fill="#2ea7ba"/>
<circle cx="250.48" cy="100.54" r="1.1" fill="#2ea7ba"/>
<circle cx="248.46" cy="98.73" r="1.1" fill="#2ea7ba"/>
<circle cx="250.21" cy="98.59" r="1.1" fill="#2ea7ba"/>
<circle cx="248.81" cy="97.21" r="1.1" fill="#2ea7ba"/>
<circle cx="249.40" cy="97.36" r="1.1" fill="#2ea7ba"/>
<circle cx="248.94" cy="96.60" r="1.265" fill="#2ea7ba"/>
<rect x="252.16" y="66.60" width="2.80" height="41.60" fill="#dc4a3c"/>
<rect x="252.86" y="64.10" width="1.4" height="3" fill="#dc4a3c"/>
<circle cx="252.20" cy="107.58" r="1.1" fill="#dc4a3c"/>
<circle cx="253.52" cy="107.83" r="1.1" fill="#dc4a3c"/>
<circle cx="254.98" cy="107.57" r="1.1" fill="#dc4a3c"/>
<circle cx="252.59" cy="106.11" r="1.1" fill="#dc4a3c"/>
<circle cx="253.37" cy="106.36" r="1.1" fill="#dc4a3c"/>
<circle cx="254.65" cy="106.22" r="1.1" fill="#dc4a3c"/>
<circle cx="252.41" cy="104.66" r="1.1" fill="#dc4a3c"/>
<circle cx="253.77" cy="104.65" r="1.1" fill="#dc4a3c"/>
<circle cx="255.00" cy="104.95" r="1.1" fill="#dc4a3c"/>
<circle cx="252.39" cy="103.07" r="1.1" fill="#dc4a3c"/>
<circle cx="253.75" cy="103.06" r="1.1" fill="#dc4a3c"/>
<circle cx="254.76" cy="103.26" r="1.1" fill="#dc4a3c"/>
<circle cx="252.05" cy="101.87" r="1.1" fill="#dc4a3c"/>
<circle cx="253.72" cy="101.84" r="1.1" fill="#dc4a3c"/>
<circle cx="254.69" cy="101.81" r="1.1" fill="#dc4a3c"/>
<circle cx="252.42" cy="100.16" r="1.1" fill="#dc4a3c"/>
<circle cx="253.82" cy="100.55" r="1.1" fill="#dc4a3c"/>
<circle cx="254.97" cy="100.53" r="1.1" fill="#dc4a3c"/>
<circle cx="252.24" cy="99.04" r="1.1" fill="#dc4a3c"/>
<circle cx="253.26" cy="98.79" r="1.1" fill="#dc4a3c"/>
<circle cx="254.50" cy="98.78" r="1.1" fill="#dc4a3c"/>
<circle cx="252.49" cy="97.40" r="1.1" fill="#dc4a3c"/>
<circle cx="253.53" cy="97.22" r="1.1" fill="#dc4a3c"/>
<circle cx="254.54" cy="97.25" r="1.1" fill="#dc4a3c"/>
<circle cx="252.21" cy="95.65" r="1.1" fill="#dc4a3c"/>
<circle cx="253.73" cy="95.81" r="1.1" fill="#dc4a3c"/>
<circle cx="254.72" cy="95.65" r="1.1" fill="#dc4a3c"/>
<circle cx="252.50" cy="94.15" r="1.1" fill="#dc4a3c"/>
<circle cx="253.40" cy="94.33" r="1.1" fill="#dc4a3c"/>
<circle cx="254.90" cy="94.54" r="1.1" fill="#dc4a3c"/>
<circle cx="252.53" cy="93.02" r="1.1" fill="#dc4a3c"/>
<circle cx="253.85" cy="92.91" r="1.1" fill="#dc4a3c"/>
<circle cx="254.91" cy="92.58" r="1.1" fill="#dc4a3c"/>
<circle cx="252.15" cy="91.06" r="1.1" fill="#dc4a3c"/>
<circle cx="253.81" cy="91.41" r="1.1" fill="#dc4a3c"/>
<circle cx="254.85" cy="91.18" r="1.1" fill="#dc4a3c"/>
<circle cx="252.26" cy="89.63" r="1.1" fill="#dc4a3c"/>
<circle cx="253.65" cy="90.05" r="1.1" fill="#dc4a3c"/>
<circle cx="254.62" cy="89.57" r="1.1" fill="#dc4a3c"/>
<circle cx="252.13" cy="88.23" r="1.1" fill="#dc4a3c"/>
<circle cx="253.84" cy="88.45" r="1.1" fill="#dc4a3c"/>
<circle cx="254.73" cy="88.10" r="1.1" fill="#dc4a3c"/>
<circle cx="252.08" cy="86.63" r="1.1" fill="#dc4a3c"/>
<circle cx="253.75" cy="86.79" r="1.1" fill="#dc4a3c"/>
<circle cx="255.10" cy="87.01" r="1.1" fill="#dc4a3c"/>
<circle cx="252.57" cy="85.29" r="1.1" fill="#dc4a3c"/>
<circle cx="253.79" cy="85.11" r="1.1" fill="#dc4a3c"/>
<circle cx="254.49" cy="85.33" r="1.1" fill="#dc4a3c"/>
<circle cx="252.37" cy="83.65" r="1.1" fill="#dc4a3c"/>
<circle cx="253.39" cy="83.56" r="1.1" fill="#dc4a3c"/>
<circle cx="255.05" cy="83.91" r="1.1" fill="#dc4a3c"/>
<circle cx="252.67" cy="82.54" r="1.1" fill="#dc4a3c"/>
<circle cx="253.52" cy="82.42" r="1.1" fill="#dc4a3c"/>
<circle cx="254.68" cy="82.46" r="1.1" fill="#dc4a3c"/>
<circle cx="252.60" cy="80.62" r="1.1" fill="#dc4a3c"/>
<circle cx="253.22" cy="80.66" r="1.1" fill="#dc4a3c"/>
<circle cx="254.82" cy="80.74" r="1.1" fill="#dc4a3c"/>
<circle cx="252.02" cy="79.47" r="1.1" fill="#dc4a3c"/>
<circle cx="253.76" cy="79.28" r="1.1" fill="#dc4a3c"/>
<circle cx="254.44" cy="79.49" r="1.1" fill="#dc4a3c"/>
<circle cx="252.38" cy="77.59" r="1.1" fill="#dc4a3c"/>
<circle cx="253.44" cy="77.86" r="1.1" fill="#dc4a3c"/>
<circle cx="255.03" cy="77.79" r="1.1" fill="#dc4a3c"/>
<circle cx="252.46" cy="76.15" r="1.1" fill="#dc4a3c"/>
<circle cx="253.38" cy="76.50" r="1.1" fill="#dc4a3c"/>
<circle cx="254.68" cy="76.10" r="1.1" fill="#dc4a3c"/>
<circle cx="252.42" cy="74.61" r="1.1" fill="#dc4a3c"/>
<circle cx="253.35" cy="74.78" r="1.1" fill="#dc4a3c"/>
<circle cx="254.82" cy="74.87" r="1.1" fill="#dc4a3c"/>
<circle cx="252.50" cy="73.27" r="1.1" fill="#dc4a3c"/>
<circle cx="253.26" cy="73.41" r="1.1" fill="#dc4a3c"/>
<circle cx="254.45" cy="73.29" r="1.1" fill="#dc4a3c"/>
<circle cx="252.29" cy="71.89" r="1.1" fill="#dc4a3c"/>
<circle cx="253.71" cy="71.67" r="1.1" fill="#dc4a3c"/>
<circle cx="254.86" cy="71.90" r="1.1" fill="#dc4a3c"/>
<circle cx="252.34" cy="70.12" r="1.1" fill="#dc4a3c"/>
<circle cx="253.85" cy="70.35" r="1.1" fill="#dc4a3c"/>
<circle cx="254.45" cy="70.17" r="1.1" fill="#dc4a3c"/>
<circle cx="252.70" cy="68.66" r="1.1" fill="#dc4a3c"/>
<circle cx="253.48" cy="68.94" r="1.1" fill="#dc4a3c"/>
<circle cx="254.99" cy="68.87" r="1.1" fill="#dc4a3c"/>
<circle cx="252.60" cy="67.07" r="1.1" fill="#dc4a3c"/>
<circle cx="254.41" cy="67.54" r="1.1" fill="#dc4a3c"/>
<circle cx="252.97" cy="65.57" r="1.1" fill="#dc4a3c"/>
<circle cx="254.05" cy="65.67" r="1.1" fill="#dc4a3c"/>
<circle cx="253.39" cy="64.16" r="1.1" fill="#dc4a3c"/>
<circle cx="254.15" cy="64.52" r="1.1" fill="#dc4a3c"/>
<circle cx="253.64" cy="64.10" r="1.265" fill="#dc4a3c"/>
<circle cx="253.56" cy="50" r="1.35" fill="#c8463a" stroke="#6a3a36" stroke-width="0.35"/>
<circle cx="253.56" cy="61.6" r="1.35" fill="#c8463a" stroke="#6a3a36" stroke-width="0.35"/>
<rect x="247.16" y="101" width="4" height="7.70" fill="none" stroke="#1b3a40" stroke-width="0.55"/>
<line x1="264.50" y1="62.40" x2="264.50" y2="74.00" stroke="#777" stroke-width="1.0"/>
<rect x="258.52" y="104.20" width="2.20" height="4.00" fill="#2ea7ba"/>
<rect x="258.92" y="101.70" width="1.4" height="3" fill="#2ea7ba"/>
<circle cx="259.01" cy="107.68" r="1.1" fill="#2ea7ba"/>
<circle cx="259.38" cy="107.56" r="1.1" fill="#2ea7ba"/>
<circle cx="260.70" cy="107.60" r="1.1" fill="#2ea7ba"/>
<circle cx="259.05" cy="106.40" r="1.1" fill="#2ea7ba"/>
<circle cx="259.40" cy="106.45" r="1.1" fill="#2ea7ba"/>
<circle cx="260.28" cy="106.31" r="1.1" fill="#2ea7ba"/>
<circle cx="258.52" cy="104.94" r="1.1" fill="#2ea7ba"/>
<circle cx="260.72" cy="105.01" r="1.1" fill="#2ea7ba"/>
<circle cx="258.73" cy="103.48" r="1.1" fill="#2ea7ba"/>
<circle cx="260.20" cy="103.46" r="1.1" fill="#2ea7ba"/>
<circle cx="259.37" cy="101.86" r="1.1" fill="#2ea7ba"/>
<circle cx="259.94" cy="101.95" r="1.1" fill="#2ea7ba"/>
<circle cx="259.37" cy="101.70" r="1.265" fill="#2ea7ba"/>
<rect x="263.62" y="76.50" width="0.80" height="14.90" fill="#dc4a3c"/>
<rect x="263.32" y="74.00" width="1.4" height="3" fill="#dc4a3c"/>
<circle cx="263.51" cy="91.02" r="1.1" fill="#dc4a3c"/>
<circle cx="264.07" cy="90.95" r="1.1" fill="#dc4a3c"/>
<circle cx="263.48" cy="89.62" r="1.1" fill="#dc4a3c"/>
<circle cx="263.89" cy="89.66" r="1.1" fill="#dc4a3c"/>
<circle cx="264.04" cy="87.98" r="1.1" fill="#dc4a3c"/>
<circle cx="263.96" cy="88.08" r="1.1" fill="#dc4a3c"/>
<circle cx="263.61" cy="86.46" r="1.1" fill="#dc4a3c"/>
<circle cx="263.95" cy="86.74" r="1.1" fill="#dc4a3c"/>
<circle cx="263.85" cy="84.93" r="1.1" fill="#dc4a3c"/>
<circle cx="263.94" cy="85.12" r="1.1" fill="#dc4a3c"/>
<circle cx="264.06" cy="83.67" r="1.1" fill="#dc4a3c"/>
<circle cx="263.94" cy="83.43" r="1.1" fill="#dc4a3c"/>
<circle cx="263.68" cy="82.13" r="1.1" fill="#dc4a3c"/>
<circle cx="263.97" cy="82.05" r="1.1" fill="#dc4a3c"/>
<circle cx="264.15" cy="80.63" r="1.1" fill="#dc4a3c"/>
<circle cx="263.87" cy="80.29" r="1.1" fill="#dc4a3c"/>
<circle cx="263.55" cy="79.10" r="1.1" fill="#dc4a3c"/>
<circle cx="264.29" cy="79.01" r="1.1" fill="#dc4a3c"/>
<circle cx="263.79" cy="77.45" r="1.1" fill="#dc4a3c"/>
<circle cx="264.30" cy="77.57" r="1.1" fill="#dc4a3c"/>
<circle cx="264.29" cy="76.12" r="1.1" fill="#dc4a3c"/>
<circle cx="264.25" cy="76.21" r="1.1" fill="#dc4a3c"/>
<circle cx="264.42" cy="74.61" r="1.1" fill="#dc4a3c"/>
<circle cx="263.53" cy="74.59" r="1.1" fill="#dc4a3c"/>
<circle cx="264.23" cy="74.00" r="1.265" fill="#dc4a3c"/>
<rect x="262.92" y="92.80" width="2.20" height="15.40" fill="#dc4a3c"/>
<circle cx="263.07" cy="107.99" r="1.1" fill="#dc4a3c"/>
<circle cx="263.80" cy="108.02" r="1.1" fill="#dc4a3c"/>
<circle cx="264.88" cy="107.90" r="1.1" fill="#dc4a3c"/>
<circle cx="262.95" cy="106.20" r="1.1" fill="#dc4a3c"/>
<circle cx="263.91" cy="106.21" r="1.1" fill="#dc4a3c"/>
<circle cx="264.64" cy="106.27" r="1.1" fill="#dc4a3c"/>
<circle cx="263.46" cy="104.88" r="1.1" fill="#dc4a3c"/>
<circle cx="264.32" cy="104.93" r="1.1" fill="#dc4a3c"/>
<circle cx="265.16" cy="105.05" r="1.1" fill="#dc4a3c"/>
<circle cx="263.30" cy="103.19" r="1.1" fill="#dc4a3c"/>
<circle cx="263.84" cy="103.26" r="1.1" fill="#dc4a3c"/>
<circle cx="264.58" cy="103.17" r="1.1" fill="#dc4a3c"/>
<circle cx="263.39" cy="102.01" r="1.1" fill="#dc4a3c"/>
<circle cx="263.90" cy="101.94" r="1.1" fill="#dc4a3c"/>
<circle cx="265.11" cy="101.99" r="1.1" fill="#dc4a3c"/>
<circle cx="263.33" cy="100.32" r="1.1" fill="#dc4a3c"/>
<circle cx="263.74" cy="100.46" r="1.1" fill="#dc4a3c"/>
<circle cx="264.79" cy="100.36" r="1.1" fill="#dc4a3c"/>
<circle cx="263.03" cy="98.82" r="1.1" fill="#dc4a3c"/>
<circle cx="264.35" cy="98.63" r="1.1" fill="#dc4a3c"/>
<circle cx="264.94" cy="98.87" r="1.1" fill="#dc4a3c"/>
<circle cx="263.15" cy="97.52" r="1.1" fill="#dc4a3c"/>
<circle cx="263.96" cy="97.51" r="1.1" fill="#dc4a3c"/>
<circle cx="265.05" cy="97.53" r="1.1" fill="#dc4a3c"/>
<circle cx="262.83" cy="95.66" r="1.1" fill="#dc4a3c"/>
<circle cx="263.87" cy="96.00" r="1.1" fill="#dc4a3c"/>
<circle cx="264.58" cy="95.68" r="1.1" fill="#dc4a3c"/>
<circle cx="263.27" cy="94.54" r="1.1" fill="#dc4a3c"/>
<circle cx="263.79" cy="94.27" r="1.1" fill="#dc4a3c"/>
<circle cx="265.05" cy="94.40" r="1.1" fill="#dc4a3c"/>
<circle cx="263.29" cy="92.93" r="1.1" fill="#dc4a3c"/>
<circle cx="263.84" cy="92.68" r="1.1" fill="#dc4a3c"/>
<circle cx="264.59" cy="92.90" r="1.1" fill="#dc4a3c"/>
<circle cx="263.85" cy="93.00" r="1.265" fill="#dc4a3c"/>
<circle cx="264.02" cy="62.4" r="1.35" fill="#c8463a" stroke="#6a3a36" stroke-width="0.35"/>
<circle cx="264.02" cy="67.8" r="1.35" fill="#c8463a" stroke="#6a3a36" stroke-width="0.35"/>
<circle cx="264.02" cy="73.2" r="1.35" fill="#c8463a" stroke="#6a3a36" stroke-width="0.35"/>
<rect x="268.98" y="103.50" width="2.20" height="4.70" fill="#2ea7ba"/>
<rect x="269.38" y="101.00" width="1.4" height="3" fill="#2ea7ba"/>
<circle cx="269.01" cy="108.03" r="1.1" fill="#2ea7ba"/>
<circle cx="270.18" cy="107.85" r="1.1" fill="#2ea7ba"/>
<circle cx="271.09" cy="107.85" r="1.1" fill="#2ea7ba"/>
<circle cx="269.32" cy="106.20" r="1.1" fill="#2ea7ba"/>
<circle cx="269.77" cy="106.08" r="1.1" fill="#2ea7ba"/>
<circle cx="270.64" cy="106.23" r="1.1" fill="#2ea7ba"/>
<circle cx="268.93" cy="104.61" r="1.1" fill="#2ea7ba"/>
<circle cx="270.08" cy="105.03" r="1.1" fill="#2ea7ba"/>
<circle cx="271.11" cy="104.69" r="1.1" fill="#2ea7ba"/>
<circle cx="269.60" cy="103.14" r="1.1" fill="#2ea7ba"/>
<circle cx="270.47" cy="103.20" r="1.1" fill="#2ea7ba"/>
<circle cx="269.63" cy="101.89" r="1.1" fill="#2ea7ba"/>
<circle cx="270.43" cy="101.91" r="1.1" fill="#2ea7ba"/>
<circle cx="269.84" cy="101.00" r="1.265" fill="#2ea7ba"/>
<rect x="273.08" y="85.30" width="2.80" height="22.90" fill="#dc4a3c"/>
<rect x="273.78" y="82.80" width="1.4" height="3" fill="#dc4a3c"/>
<circle cx="273.58" cy="107.72" r="1.1" fill="#dc4a3c"/>
<circle cx="274.71" cy="107.57" r="1.1" fill="#dc4a3c"/>
<circle cx="275.91" cy="107.66" r="1.1" fill="#dc4a3c"/>
<circle cx="273.53" cy="106.45" r="1.1" fill="#dc4a3c"/>
<circle cx="274.60" cy="106.19" r="1.1" fill="#dc4a3c"/>
<circle cx="275.34" cy="106.14" r="1.1" fill="#dc4a3c"/>
<circle cx="273.56" cy="104.63" r="1.1" fill="#dc4a3c"/>
<circle cx="274.59" cy="104.84" r="1.1" fill="#dc4a3c"/>
<circle cx="275.79" cy="104.64" r="1.1" fill="#dc4a3c"/>
<circle cx="273.03" cy="103.10" r="1.1" fill="#dc4a3c"/>
<circle cx="274.82" cy="103.24" r="1.1" fill="#dc4a3c"/>
<circle cx="275.79" cy="103.33" r="1.1" fill="#dc4a3c"/>
<circle cx="273.09" cy="101.58" r="1.1" fill="#dc4a3c"/>
<circle cx="274.14" cy="101.98" r="1.1" fill="#dc4a3c"/>
<circle cx="275.42" cy="102.03" r="1.1" fill="#dc4a3c"/>
<circle cx="273.18" cy="100.41" r="1.1" fill="#dc4a3c"/>
<circle cx="274.23" cy="100.44" r="1.1" fill="#dc4a3c"/>
<circle cx="275.51" cy="100.23" r="1.1" fill="#dc4a3c"/>
<circle cx="273.30" cy="98.61" r="1.1" fill="#dc4a3c"/>
<circle cx="274.30" cy="98.95" r="1.1" fill="#dc4a3c"/>
<circle cx="275.53" cy="98.74" r="1.1" fill="#dc4a3c"/>
<circle cx="273.47" cy="97.16" r="1.1" fill="#dc4a3c"/>
<circle cx="274.27" cy="97.16" r="1.1" fill="#dc4a3c"/>
<circle cx="275.60" cy="97.23" r="1.1" fill="#dc4a3c"/>
<circle cx="273.38" cy="95.79" r="1.1" fill="#dc4a3c"/>
<circle cx="274.74" cy="95.58" r="1.1" fill="#dc4a3c"/>
<circle cx="275.79" cy="95.97" r="1.1" fill="#dc4a3c"/>
<circle cx="273.09" cy="94.06" r="1.1" fill="#dc4a3c"/>
<circle cx="274.44" cy="94.11" r="1.1" fill="#dc4a3c"/>
<circle cx="275.65" cy="94.41" r="1.1" fill="#dc4a3c"/>
<circle cx="273.00" cy="92.61" r="1.1" fill="#dc4a3c"/>
<circle cx="274.47" cy="92.64" r="1.1" fill="#dc4a3c"/>
<circle cx="275.49" cy="92.77" r="1.1" fill="#dc4a3c"/>
<circle cx="273.01" cy="91.08" r="1.1" fill="#dc4a3c"/>
<circle cx="274.38" cy="91.28" r="1.1" fill="#dc4a3c"/>
<circle cx="275.99" cy="91.33" r="1.1" fill="#dc4a3c"/>
<circle cx="272.98" cy="89.66" r="1.1" fill="#dc4a3c"/>
<circle cx="274.65" cy="89.83" r="1.1" fill="#dc4a3c"/>
<circle cx="275.94" cy="90.03" r="1.1" fill="#dc4a3c"/>
<circle cx="273.53" cy="88.11" r="1.1" fill="#dc4a3c"/>
<circle cx="274.79" cy="88.31" r="1.1" fill="#dc4a3c"/>
<circle cx="275.50" cy="88.14" r="1.1" fill="#dc4a3c"/>
<circle cx="273.54" cy="86.66" r="1.1" fill="#dc4a3c"/>
<circle cx="274.19" cy="86.68" r="1.1" fill="#dc4a3c"/>
<circle cx="275.98" cy="86.78" r="1.1" fill="#dc4a3c"/>
<circle cx="273.66" cy="85.09" r="1.1" fill="#dc4a3c"/>
<circle cx="275.43" cy="85.21" r="1.1" fill="#dc4a3c"/>
<circle cx="273.62" cy="83.88" r="1.1" fill="#dc4a3c"/>
<circle cx="275.03" cy="83.61" r="1.1" fill="#dc4a3c"/>
<circle cx="274.77" cy="82.80" r="1.265" fill="#dc4a3c"/>
<line x1="282.50" y1="55.80" x2="282.50" y2="90.30" stroke="#777" stroke-width="1.0"/>
<rect x="283.24" y="92.80" width="3.40" height="15.40" fill="#dc4a3c"/>
<rect x="284.24" y="90.30" width="1.4" height="3" fill="#dc4a3c"/>
<circle cx="283.43" cy="107.64" r="1.1" fill="#dc4a3c"/>
<circle cx="284.60" cy="107.88" r="1.1" fill="#dc4a3c"/>
<circle cx="286.45" cy="107.56" r="1.1" fill="#dc4a3c"/>
<circle cx="283.42" cy="106.42" r="1.1" fill="#dc4a3c"/>
<circle cx="284.97" cy="106.17" r="1.1" fill="#dc4a3c"/>
<circle cx="286.44" cy="106.35" r="1.1" fill="#dc4a3c"/>
<circle cx="283.55" cy="104.62" r="1.1" fill="#dc4a3c"/>
<circle cx="285.15" cy="105.02" r="1.1" fill="#dc4a3c"/>
<circle cx="286.61" cy="104.98" r="1.1" fill="#dc4a3c"/>
<circle cx="283.35" cy="103.50" r="1.1" fill="#dc4a3c"/>
<circle cx="284.72" cy="103.16" r="1.1" fill="#dc4a3c"/>
<circle cx="286.51" cy="103.50" r="1.1" fill="#dc4a3c"/>
<circle cx="283.15" cy="101.66" r="1.1" fill="#dc4a3c"/>
<circle cx="284.62" cy="101.77" r="1.1" fill="#dc4a3c"/>
<circle cx="286.19" cy="101.65" r="1.1" fill="#dc4a3c"/>
<circle cx="283.61" cy="100.34" r="1.1" fill="#dc4a3c"/>
<circle cx="285.25" cy="100.25" r="1.1" fill="#dc4a3c"/>
<circle cx="286.57" cy="100.06" r="1.1" fill="#dc4a3c"/>
<circle cx="283.75" cy="98.67" r="1.1" fill="#dc4a3c"/>
<circle cx="284.92" cy="98.81" r="1.1" fill="#dc4a3c"/>
<circle cx="286.75" cy="98.80" r="1.1" fill="#dc4a3c"/>
<circle cx="283.78" cy="97.36" r="1.1" fill="#dc4a3c"/>
<circle cx="284.74" cy="97.47" r="1.1" fill="#dc4a3c"/>
<circle cx="286.23" cy="97.55" r="1.1" fill="#dc4a3c"/>
<circle cx="283.41" cy="95.66" r="1.1" fill="#dc4a3c"/>
<circle cx="285.26" cy="95.71" r="1.1" fill="#dc4a3c"/>
<circle cx="286.37" cy="95.72" r="1.1" fill="#dc4a3c"/>
<circle cx="283.56" cy="94.06" r="1.1" fill="#dc4a3c"/>
<circle cx="284.85" cy="94.13" r="1.1" fill="#dc4a3c"/>
<circle cx="286.67" cy="94.05" r="1.1" fill="#dc4a3c"/>
<circle cx="283.77" cy="92.68" r="1.1" fill="#dc4a3c"/>
<circle cx="286.16" cy="92.83" r="1.1" fill="#dc4a3c"/>
<circle cx="284.21" cy="91.12" r="1.1" fill="#dc4a3c"/>
<circle cx="285.63" cy="91.11" r="1.1" fill="#dc4a3c"/>
<circle cx="285.22" cy="90.30" r="1.265" fill="#dc4a3c"/>
<circle cx="285.34" cy="56.4" r="1.35" fill="#c8463a" stroke="#6a3a36" stroke-width="0.35"/>
<circle cx="285.34" cy="61.5" r="1.35" fill="#c8463a" stroke="#6a3a36" stroke-width="0.35"/>
<circle cx="285.34" cy="65.3" r="1.35" fill="#c8463a" stroke="#6a3a36" stroke-width="0.35"/>
<circle cx="285.34" cy="74.1" r="1.35" fill="#c8463a" stroke="#6a3a36" stroke-width="0.35"/>
<circle cx="285.34" cy="79.3" r="1.35" fill="#c8463a" stroke="#6a3a36" stroke-width="0.35"/>
<circle cx="285.34" cy="83" r="1.35" fill="#c8463a" stroke="#6a3a36" stroke-width="0.35"/>
<circle cx="285.34" cy="86" r="1.35" fill="#c8463a" stroke="#6a3a36" stroke-width="0.35"/>
<path d="M278.3,104.2 L281.3,103 L281.3,105.4 Z" fill="#2ea7ba"/>
<line x1="295.50" y1="62.70" x2="295.50" y2="83.00" stroke="#777" stroke-width="1.0"/>
<rect x="289.60" y="92.80" width="2.80" height="15.40" fill="#2ea7ba"/>
<rect x="290.30" y="90.30" width="1.4" height="3" fill="#2ea7ba"/>
<circle cx="289.55" cy="107.62" r="1.1" fill="#2ea7ba"/>
<circle cx="291.02" cy="107.84" r="1.1" fill="#2ea7ba"/>
<circle cx="292.47" cy="107.58" r="1.1" fill="#2ea7ba"/>
<circle cx="289.61" cy="106.13" r="1.1" fill="#2ea7ba"/>
<circle cx="291.06" cy="106.28" r="1.1" fill="#2ea7ba"/>
<circle cx="292.14" cy="106.49" r="1.1" fill="#2ea7ba"/>
<circle cx="289.91" cy="104.98" r="1.1" fill="#2ea7ba"/>
<circle cx="291.32" cy="104.68" r="1.1" fill="#2ea7ba"/>
<circle cx="292.51" cy="104.75" r="1.1" fill="#2ea7ba"/>
<circle cx="289.49" cy="103.51" r="1.1" fill="#2ea7ba"/>
<circle cx="290.72" cy="103.06" r="1.1" fill="#2ea7ba"/>
<circle cx="292.05" cy="103.19" r="1.1" fill="#2ea7ba"/>
<circle cx="290.13" cy="101.99" r="1.1" fill="#2ea7ba"/>
<circle cx="290.94" cy="101.81" r="1.1" fill="#2ea7ba"/>
<circle cx="292.44" cy="101.95" r="1.1" fill="#2ea7ba"/>
<circle cx="289.91" cy="100.31" r="1.1" fill="#2ea7ba"/>
<circle cx="290.73" cy="100.17" r="1.1" fill="#2ea7ba"/>
<circle cx="292.31" cy="100.34" r="1.1" fill="#2ea7ba"/>
<circle cx="290.01" cy="99.00" r="1.1" fill="#2ea7ba"/>
<circle cx="291.32" cy="98.65" r="1.1" fill="#2ea7ba"/>
<circle cx="291.90" cy="99.00" r="1.1" fill="#2ea7ba"/>
<circle cx="289.85" cy="97.14" r="1.1" fill="#2ea7ba"/>
<circle cx="291.13" cy="97.18" r="1.1" fill="#2ea7ba"/>
<circle cx="292.02" cy="97.23" r="1.1" fill="#2ea7ba"/>
<circle cx="289.82" cy="95.89" r="1.1" fill="#2ea7ba"/>
<circle cx="290.70" cy="95.92" r="1.1" fill="#2ea7ba"/>
<circle cx="292.29" cy="95.79" r="1.1" fill="#2ea7ba"/>
<circle cx="289.92" cy="94.45" r="1.1" fill="#2ea7ba"/>
<circle cx="290.66" cy="94.29" r="1.1" fill="#2ea7ba"/>
<circle cx="292.32" cy="94.40" r="1.1" fill="#2ea7ba"/>
<circle cx="290.12" cy="92.64" r="1.1" fill="#2ea7ba"/>
<circle cx="292.30" cy="92.94" r="1.1" fill="#2ea7ba"/>
<circle cx="290.16" cy="91.27" r="1.1" fill="#2ea7ba"/>
<circle cx="291.97" cy="91.15" r="1.1" fill="#2ea7ba"/>
<circle cx="290.95" cy="90.30" r="1.265" fill="#2ea7ba"/>
<rect x="294.00" y="85.50" width="2.80" height="22.70" fill="#dc4a3c"/>
<rect x="294.70" y="83.00" width="1.4" height="3" fill="#dc4a3c"/>
<circle cx="294.52" cy="108.00" r="1.1" fill="#dc4a3c"/>
<circle cx="295.21" cy="107.92" r="1.1" fill="#dc4a3c"/>
<circle cx="296.50" cy="107.88" r="1.1" fill="#dc4a3c"/>
<circle cx="294.39" cy="106.11" r="1.1" fill="#dc4a3c"/>
<circle cx="295.21" cy="106.16" r="1.1" fill="#dc4a3c"/>
<circle cx="296.44" cy="106.07" r="1.1" fill="#dc4a3c"/>
<circle cx="293.95" cy="104.75" r="1.1" fill="#dc4a3c"/>
<circle cx="295.34" cy="104.59" r="1.1" fill="#dc4a3c"/>
<circle cx="296.66" cy="105.02" r="1.1" fill="#dc4a3c"/>
<circle cx="294.25" cy="103.23" r="1.1" fill="#dc4a3c"/>
<circle cx="295.54" cy="103.27" r="1.1" fill="#dc4a3c"/>
<circle cx="296.37" cy="103.29" r="1.1" fill="#dc4a3c"/>
<circle cx="293.86" cy="101.89" r="1.1" fill="#dc4a3c"/>
<circle cx="295.16" cy="101.73" r="1.1" fill="#dc4a3c"/>
<circle cx="296.92" cy="101.93" r="1.1" fill="#dc4a3c"/>
<circle cx="294.43" cy="100.37" r="1.1" fill="#dc4a3c"/>
<circle cx="295.49" cy="100.40" r="1.1" fill="#dc4a3c"/>
<circle cx="296.93" cy="100.15" r="1.1" fill="#dc4a3c"/>
<circle cx="294.39" cy="98.70" r="1.1" fill="#dc4a3c"/>
<circle cx="295.23" cy="98.96" r="1.1" fill="#dc4a3c"/>
<circle cx="296.67" cy="98.97" r="1.1" fill="#dc4a3c"/>
<circle cx="294.46" cy="97.34" r="1.1" fill="#dc4a3c"/>
<circle cx="295.19" cy="97.06" r="1.1" fill="#dc4a3c"/>
<circle cx="296.62" cy="97.41" r="1.1" fill="#dc4a3c"/>
<circle cx="294.04" cy="95.59" r="1.1" fill="#dc4a3c"/>
<circle cx="295.05" cy="95.64" r="1.1" fill="#dc4a3c"/>
<circle cx="296.74" cy="95.55" r="1.1" fill="#dc4a3c"/>
<circle cx="294.01" cy="94.18" r="1.1" fill="#dc4a3c"/>
<circle cx="295.55" cy="94.54" r="1.1" fill="#dc4a3c"/>
<circle cx="296.26" cy="94.11" r="1.1" fill="#dc4a3c"/>
<circle cx="294.50" cy="93.03" r="1.1" fill="#dc4a3c"/>
<circle cx="295.15" cy="92.72" r="1.1" fill="#dc4a3c"/>
<circle cx="296.62" cy="92.71" r="1.1" fill="#dc4a3c"/>
<circle cx="294.14" cy="91.29" r="1.1" fill="#dc4a3c"/>
<circle cx="295.23" cy="91.08" r="1.1" fill="#dc4a3c"/>
<circle cx="296.31" cy="91.13" r="1.1" fill="#dc4a3c"/>
<circle cx="293.91" cy="89.86" r="1.1" fill="#dc4a3c"/>
<circle cx="295.54" cy="89.68" r="1.1" fill="#dc4a3c"/>
<circle cx="296.80" cy="89.91" r="1.1" fill="#dc4a3c"/>
<circle cx="294.09" cy="88.30" r="1.1" fill="#dc4a3c"/>
<circle cx="295.18" cy="88.51" r="1.1" fill="#dc4a3c"/>
<circle cx="296.64" cy="88.08" r="1.1" fill="#dc4a3c"/>
<circle cx="293.96" cy="86.90" r="1.1" fill="#dc4a3c"/>
<circle cx="295.32" cy="86.91" r="1.1" fill="#dc4a3c"/>
<circle cx="296.41" cy="86.95" r="1.1" fill="#dc4a3c"/>
<circle cx="294.68" cy="85.10" r="1.1" fill="#dc4a3c"/>
<circle cx="296.40" cy="85.15" r="1.1" fill="#dc4a3c"/>
<circle cx="294.94" cy="83.95" r="1.1" fill="#dc4a3c"/>
<circle cx="296.21" cy="83.67" r="1.1" fill="#dc4a3c"/>
<circle cx="295.16" cy="83.00" r="1.265" fill="#dc4a3c"/>
<circle cx="295.40" cy="62.7" r="1.35" fill="#c8463a" stroke="#6a3a36" stroke-width="0.35"/>
<rect x="300.36" y="88.40" width="2.20" height="19.80" fill="#2ea7ba"/>
<rect x="300.76" y="85.90" width="1.4" height="3" fill="#2ea7ba"/>
<circle cx="300.67" cy="107.83" r="1.1" fill="#2ea7ba"/>
<circle cx="301.21" cy="107.65" r="1.1" fill="#2ea7ba"/>
<circle cx="302.42" cy="107.60" r="1.1" fill="#2ea7ba"/>
<circle cx="300.65" cy="106.17" r="1.1" fill="#2ea7ba"/>
<circle cx="301.29" cy="106.26" r="1.1" fill="#2ea7ba"/>
<circle cx="302.38" cy="106.41" r="1.1" fill="#2ea7ba"/>
<circle cx="300.23" cy="104.91" r="1.1" fill="#2ea7ba"/>
<circle cx="301.26" cy="104.70" r="1.1" fill="#2ea7ba"/>
<circle cx="302.46" cy="104.90" r="1.1" fill="#2ea7ba"/>
<circle cx="300.64" cy="103.50" r="1.1" fill="#2ea7ba"/>
<circle cx="301.25" cy="103.21" r="1.1" fill="#2ea7ba"/>
<circle cx="302.47" cy="103.18" r="1.1" fill="#2ea7ba"/>
<circle cx="300.32" cy="101.66" r="1.1" fill="#2ea7ba"/>
<circle cx="301.65" cy="101.96" r="1.1" fill="#2ea7ba"/>
<circle cx="302.51" cy="102.03" r="1.1" fill="#2ea7ba"/>
<circle cx="300.77" cy="100.20" r="1.1" fill="#2ea7ba"/>
<circle cx="301.33" cy="100.41" r="1.1" fill="#2ea7ba"/>
<circle cx="302.05" cy="100.35" r="1.1" fill="#2ea7ba"/>
<circle cx="300.27" cy="98.57" r="1.1" fill="#2ea7ba"/>
<circle cx="301.47" cy="98.63" r="1.1" fill="#2ea7ba"/>
<circle cx="302.66" cy="98.99" r="1.1" fill="#2ea7ba"/>
<circle cx="300.53" cy="97.15" r="1.1" fill="#2ea7ba"/>
<circle cx="301.19" cy="97.30" r="1.1" fill="#2ea7ba"/>
<circle cx="302.37" cy="97.23" r="1.1" fill="#2ea7ba"/>
<circle cx="300.71" cy="95.81" r="1.1" fill="#2ea7ba"/>
<circle cx="301.65" cy="95.60" r="1.1" fill="#2ea7ba"/>
<circle cx="302.06" cy="95.74" r="1.1" fill="#2ea7ba"/>
<circle cx="300.55" cy="94.18" r="1.1" fill="#2ea7ba"/>
<circle cx="301.58" cy="94.16" r="1.1" fill="#2ea7ba"/>
<circle cx="302.23" cy="94.29" r="1.1" fill="#2ea7ba"/>
<circle cx="300.71" cy="92.94" r="1.1" fill="#2ea7ba"/>
<circle cx="301.37" cy="92.77" r="1.1" fill="#2ea7ba"/>
<circle cx="302.66" cy="93.02" r="1.1" fill="#2ea7ba"/>
<circle cx="300.64" cy="91.10" r="1.1" fill="#2ea7ba"/>
<circle cx="301.43" cy="91.37" r="1.1" fill="#2ea7ba"/>
<circle cx="302.21" cy="91.07" r="1.1" fill="#2ea7ba"/>
<circle cx="300.90" cy="90.00" r="1.1" fill="#2ea7ba"/>
<circle cx="301.20" cy="89.78" r="1.1" fill="#2ea7ba"/>
<circle cx="302.44" cy="89.70" r="1.1" fill="#2ea7ba"/>
<circle cx="300.47" cy="88.43" r="1.1" fill="#2ea7ba"/>
<circle cx="302.34" cy="88.27" r="1.1" fill="#2ea7ba"/>
<circle cx="300.76" cy="86.75" r="1.1" fill="#2ea7ba"/>
<circle cx="301.58" cy="87.03" r="1.1" fill="#2ea7ba"/>
<circle cx="301.19" cy="85.90" r="1.265" fill="#2ea7ba"/>
<rect x="304.46" y="39.20" width="2.80" height="69.00" fill="#dc4a3c"/>
<rect x="305.16" y="36.70" width="1.4" height="3" fill="#dc4a3c"/>
<circle cx="304.51" cy="107.93" r="1.1" fill="#dc4a3c"/>
<circle cx="305.60" cy="107.60" r="1.1" fill="#dc4a3c"/>
<circle cx="306.76" cy="107.63" r="1.1" fill="#dc4a3c"/>
<circle cx="304.68" cy="106.47" r="1.1" fill="#dc4a3c"/>
<circle cx="305.63" cy="106.14" r="1.1" fill="#dc4a3c"/>
<circle cx="307.25" cy="106.26" r="1.1" fill="#dc4a3c"/>
<circle cx="304.55" cy="104.61" r="1.1" fill="#dc4a3c"/>
<circle cx="305.68" cy="105.04" r="1.1" fill="#dc4a3c"/>
<circle cx="306.79" cy="104.68" r="1.1" fill="#dc4a3c"/>
<circle cx="304.83" cy="103.50" r="1.1" fill="#dc4a3c"/>
<circle cx="306.14" cy="103.29" r="1.1" fill="#dc4a3c"/>
<circle cx="307.38" cy="103.35" r="1.1" fill="#dc4a3c"/>
<circle cx="304.51" cy="101.78" r="1.1" fill="#dc4a3c"/>
<circle cx="306.01" cy="101.92" r="1.1" fill="#dc4a3c"/>
<circle cx="306.80" cy="101.65" r="1.1" fill="#dc4a3c"/>
<circle cx="304.98" cy="100.10" r="1.1" fill="#dc4a3c"/>
<circle cx="306.08" cy="100.22" r="1.1" fill="#dc4a3c"/>
<circle cx="306.88" cy="100.18" r="1.1" fill="#dc4a3c"/>
<circle cx="304.64" cy="99.05" r="1.1" fill="#dc4a3c"/>
<circle cx="305.61" cy="98.98" r="1.1" fill="#dc4a3c"/>
<circle cx="306.93" cy="98.64" r="1.1" fill="#dc4a3c"/>
<circle cx="304.83" cy="97.22" r="1.1" fill="#dc4a3c"/>
<circle cx="305.64" cy="97.26" r="1.1" fill="#dc4a3c"/>
<circle cx="307.29" cy="97.48" r="1.1" fill="#dc4a3c"/>
<circle cx="304.71" cy="95.56" r="1.1" fill="#dc4a3c"/>
<circle cx="306.04" cy="95.85" r="1.1" fill="#dc4a3c"/>
<circle cx="307.34" cy="96.03" r="1.1" fill="#dc4a3c"/>
<circle cx="304.54" cy="94.47" r="1.1" fill="#dc4a3c"/>
<circle cx="306.08" cy="94.18" r="1.1" fill="#dc4a3c"/>
<circle cx="306.97" cy="94.24" r="1.1" fill="#dc4a3c"/>
<circle cx="304.56" cy="92.74" r="1.1" fill="#dc4a3c"/>
<circle cx="305.59" cy="92.66" r="1.1" fill="#dc4a3c"/>
<circle cx="307.35" cy="92.76" r="1.1" fill="#dc4a3c"/>
<circle cx="304.76" cy="91.49" r="1.1" fill="#dc4a3c"/>
<circle cx="306.04" cy="91.17" r="1.1" fill="#dc4a3c"/>
<circle cx="307.35" cy="91.45" r="1.1" fill="#dc4a3c"/>
<circle cx="305.00" cy="89.91" r="1.1" fill="#dc4a3c"/>
<circle cx="306.04" cy="89.96" r="1.1" fill="#dc4a3c"/>
<circle cx="306.89" cy="89.88" r="1.1" fill="#dc4a3c"/>
<circle cx="304.58" cy="88.47" r="1.1" fill="#dc4a3c"/>
<circle cx="305.60" cy="88.32" r="1.1" fill="#dc4a3c"/>
<circle cx="306.95" cy="88.46" r="1.1" fill="#dc4a3c"/>
<circle cx="304.55" cy="86.97" r="1.1" fill="#dc4a3c"/>
<circle cx="306.10" cy="86.99" r="1.1" fill="#dc4a3c"/>
<circle cx="306.81" cy="87.02" r="1.1" fill="#dc4a3c"/>
<circle cx="304.83" cy="85.39" r="1.1" fill="#dc4a3c"/>
<circle cx="305.97" cy="85.07" r="1.1" fill="#dc4a3c"/>
<circle cx="307.32" cy="85.32" r="1.1" fill="#dc4a3c"/>
<circle cx="304.63" cy="83.72" r="1.1" fill="#dc4a3c"/>
<circle cx="306.06" cy="83.94" r="1.1" fill="#dc4a3c"/>
<circle cx="307.32" cy="83.66" r="1.1" fill="#dc4a3c"/>
<circle cx="304.55" cy="82.17" r="1.1" fill="#dc4a3c"/>
<circle cx="305.58" cy="82.21" r="1.1" fill="#dc4a3c"/>
<circle cx="306.73" cy="82.45" r="1.1" fill="#dc4a3c"/>
<circle cx="304.47" cy="80.59" r="1.1" fill="#dc4a3c"/>
<circle cx="305.56" cy="80.92" r="1.1" fill="#dc4a3c"/>
<circle cx="306.85" cy="80.78" r="1.1" fill="#dc4a3c"/>
<circle cx="304.59" cy="79.45" r="1.1" fill="#dc4a3c"/>
<circle cx="306.18" cy="79.20" r="1.1" fill="#dc4a3c"/>
<circle cx="307.15" cy="79.50" r="1.1" fill="#dc4a3c"/>
<circle cx="304.64" cy="78.00" r="1.1" fill="#dc4a3c"/>
<circle cx="306.02" cy="77.71" r="1.1" fill="#dc4a3c"/>
<circle cx="307.32" cy="77.84" r="1.1" fill="#dc4a3c"/>
<circle cx="304.38" cy="76.34" r="1.1" fill="#dc4a3c"/>
<circle cx="306.09" cy="76.31" r="1.1" fill="#dc4a3c"/>
<circle cx="307.05" cy="76.26" r="1.1" fill="#dc4a3c"/>
<circle cx="304.93" cy="74.88" r="1.1" fill="#dc4a3c"/>
<circle cx="305.66" cy="74.73" r="1.1" fill="#dc4a3c"/>
<circle cx="306.96" cy="75.03" r="1.1" fill="#dc4a3c"/>
<circle cx="304.80" cy="73.11" r="1.1" fill="#dc4a3c"/>
<circle cx="306.15" cy="73.07" r="1.1" fill="#dc4a3c"/>
<circle cx="307.12" cy="73.27" r="1.1" fill="#dc4a3c"/>
<circle cx="304.81" cy="71.76" r="1.1" fill="#dc4a3c"/>
<circle cx="305.57" cy="71.81" r="1.1" fill="#dc4a3c"/>
<circle cx="307.28" cy="71.94" r="1.1" fill="#dc4a3c"/>
<circle cx="304.56" cy="70.16" r="1.1" fill="#dc4a3c"/>
<circle cx="306.03" cy="70.45" r="1.1" fill="#dc4a3c"/>
<circle cx="306.86" cy="70.49" r="1.1" fill="#dc4a3c"/>
<circle cx="305.00" cy="68.77" r="1.1" fill="#dc4a3c"/>
<circle cx="305.78" cy="68.90" r="1.1" fill="#dc4a3c"/>
<circle cx="307.36" cy="68.65" r="1.1" fill="#dc4a3c"/>
<circle cx="304.52" cy="67.21" r="1.1" fill="#dc4a3c"/>
<circle cx="306.02" cy="67.14" r="1.1" fill="#dc4a3c"/>
<circle cx="307.09" cy="67.30" r="1.1" fill="#dc4a3c"/>
<circle cx="304.78" cy="65.62" r="1.1" fill="#dc4a3c"/>
<circle cx="306.18" cy="66.05" r="1.1" fill="#dc4a3c"/>
<circle cx="307.10" cy="65.95" r="1.1" fill="#dc4a3c"/>
<circle cx="304.44" cy="64.51" r="1.1" fill="#dc4a3c"/>
<circle cx="305.90" cy="64.43" r="1.1" fill="#dc4a3c"/>
<circle cx="307.32" cy="64.23" r="1.1" fill="#dc4a3c"/>
<circle cx="304.96" cy="62.65" r="1.1" fill="#dc4a3c"/>
<circle cx="305.53" cy="62.80" r="1.1" fill="#dc4a3c"/>
<circle cx="307.34" cy="63.00" r="1.1" fill="#dc4a3c"/>
<circle cx="304.98" cy="61.31" r="1.1" fill="#dc4a3c"/>
<circle cx="306.16" cy="61.33" r="1.1" fill="#dc4a3c"/>
<circle cx="306.81" cy="61.37" r="1.1" fill="#dc4a3c"/>
<circle cx="304.87" cy="59.76" r="1.1" fill="#dc4a3c"/>
<circle cx="305.93" cy="59.68" r="1.1" fill="#dc4a3c"/>
<circle cx="306.90" cy="59.76" r="1.1" fill="#dc4a3c"/>
<circle cx="304.67" cy="58.28" r="1.1" fill="#dc4a3c"/>
<circle cx="305.57" cy="58.05" r="1.1" fill="#dc4a3c"/>
<circle cx="306.95" cy="58.41" r="1.1" fill="#dc4a3c"/>
<circle cx="304.83" cy="56.67" r="1.1" fill="#dc4a3c"/>
<circle cx="305.69" cy="56.81" r="1.1" fill="#dc4a3c"/>
<circle cx="306.83" cy="56.85" r="1.1" fill="#dc4a3c"/>
<circle cx="304.94" cy="55.15" r="1.1" fill="#dc4a3c"/>
<circle cx="305.92" cy="55.41" r="1.1" fill="#dc4a3c"/>
<circle cx="307.23" cy="55.41" r="1.1" fill="#dc4a3c"/>
<circle cx="304.81" cy="53.69" r="1.1" fill="#dc4a3c"/>
<circle cx="306.10" cy="54.01" r="1.1" fill="#dc4a3c"/>
<circle cx="306.75" cy="54.02" r="1.1" fill="#dc4a3c"/>
<circle cx="304.62" cy="52.09" r="1.1" fill="#dc4a3c"/>
<circle cx="305.56" cy="52.45" r="1.1" fill="#dc4a3c"/>
<circle cx="307.18" cy="52.12" r="1.1" fill="#dc4a3c"/>
<circle cx="304.63" cy="50.87" r="1.1" fill="#dc4a3c"/>
<circle cx="306.21" cy="50.72" r="1.1" fill="#dc4a3c"/>
<circle cx="307.25" cy="50.67" r="1.1" fill="#dc4a3c"/>
<circle cx="304.45" cy="49.13" r="1.1" fill="#dc4a3c"/>
<circle cx="305.80" cy="49.36" r="1.1" fill="#dc4a3c"/>
<circle cx="306.92" cy="49.13" r="1.1" fill="#dc4a3c"/>
<circle cx="304.46" cy="47.59" r="1.1" fill="#dc4a3c"/>
<circle cx="305.65" cy="47.71" r="1.1" fill="#dc4a3c"/>
<circle cx="307.06" cy="47.64" r="1.1" fill="#dc4a3c"/>
<circle cx="304.65" cy="46.27" r="1.1" fill="#dc4a3c"/>
<circle cx="306.19" cy="46.29" r="1.1" fill="#dc4a3c"/>
<circle cx="307.37" cy="46.29" r="1.1" fill="#dc4a3c"/>
<circle cx="304.45" cy="44.85" r="1.1" fill="#dc4a3c"/>
<circle cx="305.61" cy="44.63" r="1.1" fill="#dc4a3c"/>
<circle cx="306.76" cy="44.90" r="1.1" fill="#dc4a3c"/>
<circle cx="304.99" cy="43.25" r="1.1" fill="#dc4a3c"/>
<circle cx="305.76" cy="43.26" r="1.1" fill="#dc4a3c"/>
<circle cx="306.96" cy="43.40" r="1.1" fill="#dc4a3c"/>
<circle cx="304.58" cy="41.63" r="1.1" fill="#dc4a3c"/>
<circle cx="306.12" cy="41.84" r="1.1" fill="#dc4a3c"/>
<circle cx="306.71" cy="41.97" r="1.1" fill="#dc4a3c"/>
<circle cx="304.82" cy="40.23" r="1.1" fill="#dc4a3c"/>
<circle cx="305.95" cy="40.51" r="1.1" fill="#dc4a3c"/>
<circle cx="306.99" cy="40.27" r="1.1" fill="#dc4a3c"/>
<circle cx="304.83" cy="38.83" r="1.1" fill="#dc4a3c"/>
<circle cx="306.87" cy="38.92" r="1.1" fill="#dc4a3c"/>
<circle cx="305.61" cy="37.12" r="1.1" fill="#dc4a3c"/>
<circle cx="306.33" cy="37.48" r="1.1" fill="#dc4a3c"/>
<circle cx="306.03" cy="36.70" r="1.265" fill="#dc4a3c"/>
<line x1="316.50" y1="21.90" x2="316.50" y2="39.30" stroke="#777" stroke-width="1.0"/>
<rect x="310.52" y="65.60" width="2.80" height="42.60" fill="#2ea7ba"/>
<rect x="311.22" y="63.10" width="1.4" height="3" fill="#2ea7ba"/>
<circle cx="310.78" cy="107.89" r="1.1" fill="#2ea7ba"/>
<circle cx="311.81" cy="108.02" r="1.1" fill="#2ea7ba"/>
<circle cx="313.15" cy="107.75" r="1.1" fill="#2ea7ba"/>
<circle cx="310.50" cy="106.11" r="1.1" fill="#2ea7ba"/>
<circle cx="312.20" cy="106.45" r="1.1" fill="#2ea7ba"/>
<circle cx="312.79" cy="106.21" r="1.1" fill="#2ea7ba"/>
<circle cx="310.71" cy="104.80" r="1.1" fill="#2ea7ba"/>
<circle cx="311.82" cy="105.00" r="1.1" fill="#2ea7ba"/>
<circle cx="313.01" cy="104.82" r="1.1" fill="#2ea7ba"/>
<circle cx="311.02" cy="103.37" r="1.1" fill="#2ea7ba"/>
<circle cx="311.90" cy="103.22" r="1.1" fill="#2ea7ba"/>
<circle cx="313.04" cy="103.35" r="1.1" fill="#2ea7ba"/>
<circle cx="310.92" cy="101.68" r="1.1" fill="#2ea7ba"/>
<circle cx="311.83" cy="101.74" r="1.1" fill="#2ea7ba"/>
<circle cx="313.02" cy="102.01" r="1.1" fill="#2ea7ba"/>
<circle cx="310.75" cy="100.19" r="1.1" fill="#2ea7ba"/>
<circle cx="311.80" cy="100.46" r="1.1" fill="#2ea7ba"/>
<circle cx="312.88" cy="100.39" r="1.1" fill="#2ea7ba"/>
<circle cx="310.39" cy="98.65" r="1.1" fill="#2ea7ba"/>
<circle cx="311.61" cy="98.95" r="1.1" fill="#2ea7ba"/>
<circle cx="312.87" cy="98.66" r="1.1" fill="#2ea7ba"/>
<circle cx="310.41" cy="97.18" r="1.1" fill="#2ea7ba"/>
<circle cx="312.08" cy="97.41" r="1.1" fill="#2ea7ba"/>
<circle cx="313.41" cy="97.52" r="1.1" fill="#2ea7ba"/>
<circle cx="310.76" cy="96.01" r="1.1" fill="#2ea7ba"/>
<circle cx="311.63" cy="96.01" r="1.1" fill="#2ea7ba"/>
<circle cx="313.07" cy="95.65" r="1.1" fill="#2ea7ba"/>
<circle cx="310.89" cy="94.48" r="1.1" fill="#2ea7ba"/>
<circle cx="311.84" cy="94.10" r="1.1" fill="#2ea7ba"/>
<circle cx="313.38" cy="94.43" r="1.1" fill="#2ea7ba"/>
<circle cx="310.79" cy="93.04" r="1.1" fill="#2ea7ba"/>
<circle cx="311.60" cy="92.58" r="1.1" fill="#2ea7ba"/>
<circle cx="312.86" cy="92.56" r="1.1" fill="#2ea7ba"/>
<circle cx="310.87" cy="91.37" r="1.1" fill="#2ea7ba"/>
<circle cx="311.65" cy="91.13" r="1.1" fill="#2ea7ba"/>
<circle cx="312.90" cy="91.35" r="1.1" fill="#2ea7ba"/>
<circle cx="310.84" cy="90.03" r="1.1" fill="#2ea7ba"/>
<circle cx="311.82" cy="90.04" r="1.1" fill="#2ea7ba"/>
<circle cx="313.07" cy="89.75" r="1.1" fill="#2ea7ba"/>
<circle cx="310.55" cy="88.17" r="1.1" fill="#2ea7ba"/>
<circle cx="312.25" cy="88.55" r="1.1" fill="#2ea7ba"/>
<circle cx="313.26" cy="88.14" r="1.1" fill="#2ea7ba"/>
<circle cx="310.50" cy="86.63" r="1.1" fill="#2ea7ba"/>
<circle cx="311.82" cy="86.92" r="1.1" fill="#2ea7ba"/>
<circle cx="312.81" cy="86.82" r="1.1" fill="#2ea7ba"/>
<circle cx="310.85" cy="85.07" r="1.1" fill="#2ea7ba"/>
<circle cx="311.88" cy="85.45" r="1.1" fill="#2ea7ba"/>
<circle cx="313.17" cy="85.28" r="1.1" fill="#2ea7ba"/>
<circle cx="310.99" cy="83.85" r="1.1" fill="#2ea7ba"/>
<circle cx="311.81" cy="83.75" r="1.1" fill="#2ea7ba"/>
<circle cx="313.43" cy="83.98" r="1.1" fill="#2ea7ba"/>
<circle cx="311.01" cy="82.33" r="1.1" fill="#2ea7ba"/>
<circle cx="311.67" cy="82.14" r="1.1" fill="#2ea7ba"/>
<circle cx="313.04" cy="82.40" r="1.1" fill="#2ea7ba"/>
<circle cx="310.37" cy="80.95" r="1.1" fill="#2ea7ba"/>
<circle cx="312.12" cy="80.81" r="1.1" fill="#2ea7ba"/>
<circle cx="312.77" cy="80.95" r="1.1" fill="#2ea7ba"/>
<circle cx="310.66" cy="79.38" r="1.1" fill="#2ea7ba"/>
<circle cx="311.97" cy="79.41" r="1.1" fill="#2ea7ba"/>
<circle cx="313.06" cy="79.53" r="1.1" fill="#2ea7ba"/>
<circle cx="311.04" cy="78.01" r="1.1" fill="#2ea7ba"/>
<circle cx="312.00" cy="77.71" r="1.1" fill="#2ea7ba"/>
<circle cx="313.03" cy="77.68" r="1.1" fill="#2ea7ba"/>
<circle cx="311.00" cy="76.45" r="1.1" fill="#2ea7ba"/>
<circle cx="312.12" cy="76.46" r="1.1" fill="#2ea7ba"/>
<circle cx="313.46" cy="76.39" r="1.1" fill="#2ea7ba"/>
<circle cx="310.59" cy="74.93" r="1.1" fill="#2ea7ba"/>
<circle cx="311.75" cy="74.86" r="1.1" fill="#2ea7ba"/>
<circle cx="312.88" cy="74.98" r="1.1" fill="#2ea7ba"/>
<circle cx="310.71" cy="73.19" r="1.1" fill="#2ea7ba"/>
<circle cx="312.22" cy="73.09" r="1.1" fill="#2ea7ba"/>
<circle cx="313.42" cy="73.43" r="1.1" fill="#2ea7ba"/>
<circle cx="310.47" cy="71.93" r="1.1" fill="#2ea7ba"/>
<circle cx="311.97" cy="72.00" r="1.1" fill="#2ea7ba"/>
<circle cx="313.18" cy="71.76" r="1.1" fill="#2ea7ba"/>
<circle cx="311.02" cy="70.09" r="1.1" fill="#2ea7ba"/>
<circle cx="312.11" cy="70.10" r="1.1" fill="#2ea7ba"/>
<circle cx="312.96" cy="70.11" r="1.1" fill="#2ea7ba"/>
<circle cx="310.98" cy="68.77" r="1.1" fill="#2ea7ba"/>
<circle cx="312.08" cy="68.68" r="1.1" fill="#2ea7ba"/>
<circle cx="313.28" cy="68.87" r="1.1" fill="#2ea7ba"/>
<circle cx="310.44" cy="67.30" r="1.1" fill="#2ea7ba"/>
<circle cx="312.08" cy="67.16" r="1.1" fill="#2ea7ba"/>
<circle cx="313.23" cy="67.19" r="1.1" fill="#2ea7ba"/>
<circle cx="310.81" cy="66.01" r="1.1" fill="#2ea7ba"/>
<circle cx="313.25" cy="66.05" r="1.1" fill="#2ea7ba"/>
<circle cx="311.17" cy="64.34" r="1.1" fill="#2ea7ba"/>
<circle cx="312.83" cy="64.43" r="1.1" fill="#2ea7ba"/>
<circle cx="311.89" cy="63.10" r="1.265" fill="#2ea7ba"/>
<rect x="314.92" y="41.80" width="2.80" height="66.40" fill="#dc4a3c"/>
<rect x="315.62" y="39.30" width="1.4" height="3" fill="#dc4a3c"/>
<circle cx="315.37" cy="107.75" r="1.1" fill="#dc4a3c"/>
<circle cx="316.64" cy="107.79" r="1.1" fill="#dc4a3c"/>
<circle cx="317.25" cy="107.92" r="1.1" fill="#dc4a3c"/>
<circle cx="314.87" cy="106.39" r="1.1" fill="#dc4a3c"/>
<circle cx="316.01" cy="106.54" r="1.1" fill="#dc4a3c"/>
<circle cx="317.55" cy="106.42" r="1.1" fill="#dc4a3c"/>
<circle cx="314.86" cy="104.87" r="1.1" fill="#dc4a3c"/>
<circle cx="316.23" cy="104.67" r="1.1" fill="#dc4a3c"/>
<circle cx="317.74" cy="104.57" r="1.1" fill="#dc4a3c"/>
<circle cx="315.10" cy="103.09" r="1.1" fill="#dc4a3c"/>
<circle cx="316.57" cy="103.50" r="1.1" fill="#dc4a3c"/>
<circle cx="317.19" cy="103.28" r="1.1" fill="#dc4a3c"/>
<circle cx="315.10" cy="101.91" r="1.1" fill="#dc4a3c"/>
<circle cx="316.48" cy="101.72" r="1.1" fill="#dc4a3c"/>
<circle cx="317.82" cy="101.64" r="1.1" fill="#dc4a3c"/>
<circle cx="314.87" cy="100.46" r="1.1" fill="#dc4a3c"/>
<circle cx="316.05" cy="100.14" r="1.1" fill="#dc4a3c"/>
<circle cx="317.52" cy="100.22" r="1.1" fill="#dc4a3c"/>
<circle cx="314.88" cy="99.01" r="1.1" fill="#dc4a3c"/>
<circle cx="316.30" cy="98.94" r="1.1" fill="#dc4a3c"/>
<circle cx="317.35" cy="99.01" r="1.1" fill="#dc4a3c"/>
<circle cx="314.92" cy="97.50" r="1.1" fill="#dc4a3c"/>
<circle cx="316.40" cy="97.54" r="1.1" fill="#dc4a3c"/>
<circle cx="317.71" cy="97.37" r="1.1" fill="#dc4a3c"/>
<circle cx="315.14" cy="95.98" r="1.1" fill="#dc4a3c"/>
<circle cx="316.28" cy="95.60" r="1.1" fill="#dc4a3c"/>
<circle cx="317.81" cy="95.95" r="1.1" fill="#dc4a3c"/>
<circle cx="315.25" cy="94.42" r="1.1" fill="#dc4a3c"/>
<circle cx="316.13" cy="94.28" r="1.1" fill="#dc4a3c"/>
<circle cx="317.75" cy="94.53" r="1.1" fill="#dc4a3c"/>
<circle cx="315.42" cy="92.63" r="1.1" fill="#dc4a3c"/>
<circle cx="316.45" cy="92.83" r="1.1" fill="#dc4a3c"/>
<circle cx="317.45" cy="92.63" r="1.1" fill="#dc4a3c"/>
<circle cx="314.87" cy="91.29" r="1.1" fill="#dc4a3c"/>
<circle cx="316.32" cy="91.18" r="1.1" fill="#dc4a3c"/>
<circle cx="317.43" cy="91.33" r="1.1" fill="#dc4a3c"/>
<circle cx="315.30" cy="89.84" r="1.1" fill="#dc4a3c"/>
<circle cx="316.08" cy="89.99" r="1.1" fill="#dc4a3c"/>
<circle cx="317.43" cy="90.03" r="1.1" fill="#dc4a3c"/>
<circle cx="315.46" cy="88.12" r="1.1" fill="#dc4a3c"/>
<circle cx="316.38" cy="88.53" r="1.1" fill="#dc4a3c"/>
<circle cx="317.44" cy="88.32" r="1.1" fill="#dc4a3c"/>
<circle cx="314.99" cy="86.56" r="1.1" fill="#dc4a3c"/>
<circle cx="316.11" cy="86.61" r="1.1" fill="#dc4a3c"/>
<circle cx="317.37" cy="86.86" r="1.1" fill="#dc4a3c"/>
<circle cx="315.16" cy="85.52" r="1.1" fill="#dc4a3c"/>
<circle cx="316.45" cy="85.23" r="1.1" fill="#dc4a3c"/>
<circle cx="317.83" cy="85.37" r="1.1" fill="#dc4a3c"/>
<circle cx="315.15" cy="83.98" r="1.1" fill="#dc4a3c"/>
<circle cx="316.44" cy="83.73" r="1.1" fill="#dc4a3c"/>
<circle cx="317.59" cy="83.70" r="1.1" fill="#dc4a3c"/>
<circle cx="315.45" cy="82.17" r="1.1" fill="#dc4a3c"/>
<circle cx="316.65" cy="82.08" r="1.1" fill="#dc4a3c"/>
<circle cx="317.18" cy="82.33" r="1.1" fill="#dc4a3c"/>
<circle cx="314.91" cy="80.80" r="1.1" fill="#dc4a3c"/>
<circle cx="316.05" cy="80.97" r="1.1" fill="#dc4a3c"/>
<circle cx="317.64" cy="80.89" r="1.1" fill="#dc4a3c"/>
<circle cx="315.42" cy="79.55" r="1.1" fill="#dc4a3c"/>
<circle cx="316.44" cy="79.41" r="1.1" fill="#dc4a3c"/>
<circle cx="317.17" cy="79.07" r="1.1" fill="#dc4a3c"/>
<circle cx="315.07" cy="78.03" r="1.1" fill="#dc4a3c"/>
<circle cx="316.19" cy="77.83" r="1.1" fill="#dc4a3c"/>
<circle cx="317.18" cy="77.76" r="1.1" fill="#dc4a3c"/>
<circle cx="315.40" cy="76.34" r="1.1" fill="#dc4a3c"/>
<circle cx="316.55" cy="76.06" r="1.1" fill="#dc4a3c"/>
<circle cx="317.31" cy="76.14" r="1.1" fill="#dc4a3c"/>
<circle cx="315.35" cy="74.60" r="1.1" fill="#dc4a3c"/>
<circle cx="316.62" cy="74.68" r="1.1" fill="#dc4a3c"/>
<circle cx="317.79" cy="74.81" r="1.1" fill="#dc4a3c"/>
<circle cx="315.00" cy="73.53" r="1.1" fill="#dc4a3c"/>
<circle cx="316.25" cy="73.40" r="1.1" fill="#dc4a3c"/>
<circle cx="317.22" cy="73.47" r="1.1" fill="#dc4a3c"/>
<circle cx="315.46" cy="71.61" r="1.1" fill="#dc4a3c"/>
<circle cx="316.49" cy="71.69" r="1.1" fill="#dc4a3c"/>
<circle cx="317.27" cy="71.73" r="1.1" fill="#dc4a3c"/>
<circle cx="315.23" cy="70.53" r="1.1" fill="#dc4a3c"/>
<circle cx="316.67" cy="70.55" r="1.1" fill="#dc4a3c"/>
<circle cx="317.61" cy="70.38" r="1.1" fill="#dc4a3c"/>
<circle cx="314.88" cy="68.91" r="1.1" fill="#dc4a3c"/>
<circle cx="316.36" cy="68.73" r="1.1" fill="#dc4a3c"/>
<circle cx="317.80" cy="68.68" r="1.1" fill="#dc4a3c"/>
<circle cx="314.87" cy="67.13" r="1.1" fill="#dc4a3c"/>
<circle cx="316.07" cy="67.34" r="1.1" fill="#dc4a3c"/>
<circle cx="317.73" cy="67.13" r="1.1" fill="#dc4a3c"/>
<circle cx="315.12" cy="65.84" r="1.1" fill="#dc4a3c"/>
<circle cx="316.36" cy="65.76" r="1.1" fill="#dc4a3c"/>
<circle cx="317.55" cy="65.56" r="1.1" fill="#dc4a3c"/>
<circle cx="314.81" cy="64.26" r="1.1" fill="#dc4a3c"/>
<circle cx="316.14" cy="64.43" r="1.1" fill="#dc4a3c"/>
<circle cx="317.34" cy="64.46" r="1.1" fill="#dc4a3c"/>
<circle cx="314.94" cy="62.60" r="1.1" fill="#dc4a3c"/>
<circle cx="316.30" cy="62.74" r="1.1" fill="#dc4a3c"/>
<circle cx="317.40" cy="62.93" r="1.1" fill="#dc4a3c"/>
<circle cx="314.93" cy="61.39" r="1.1" fill="#dc4a3c"/>
<circle cx="316.55" cy="61.28" r="1.1" fill="#dc4a3c"/>
<circle cx="317.52" cy="61.51" r="1.1" fill="#dc4a3c"/>
<circle cx="315.19" cy="59.64" r="1.1" fill="#dc4a3c"/>
<circle cx="316.02" cy="59.59" r="1.1" fill="#dc4a3c"/>
<circle cx="317.40" cy="59.59" r="1.1" fill="#dc4a3c"/>
<circle cx="315.22" cy="58.26" r="1.1" fill="#dc4a3c"/>
<circle cx="316.19" cy="58.31" r="1.1" fill="#dc4a3c"/>
<circle cx="317.83" cy="58.17" r="1.1" fill="#dc4a3c"/>
<circle cx="314.88" cy="56.70" r="1.1" fill="#dc4a3c"/>
<circle cx="316.20" cy="57.00" r="1.1" fill="#dc4a3c"/>
<circle cx="317.66" cy="56.76" r="1.1" fill="#dc4a3c"/>
<circle cx="314.89" cy="55.07" r="1.1" fill="#dc4a3c"/>
<circle cx="316.06" cy="55.47" r="1.1" fill="#dc4a3c"/>
<circle cx="317.62" cy="55.13" r="1.1" fill="#dc4a3c"/>
<circle cx="315.21" cy="53.58" r="1.1" fill="#dc4a3c"/>
<circle cx="316.32" cy="53.72" r="1.1" fill="#dc4a3c"/>
<circle cx="317.24" cy="53.92" r="1.1" fill="#dc4a3c"/>
<circle cx="315.27" cy="52.31" r="1.1" fill="#dc4a3c"/>
<circle cx="316.09" cy="52.38" r="1.1" fill="#dc4a3c"/>
<circle cx="317.47" cy="52.38" r="1.1" fill="#dc4a3c"/>
<circle cx="314.83" cy="51.00" r="1.1" fill="#dc4a3c"/>
<circle cx="315.97" cy="50.66" r="1.1" fill="#dc4a3c"/>
<circle cx="317.45" cy="50.65" r="1.1" fill="#dc4a3c"/>
<circle cx="314.83" cy="49.39" r="1.1" fill="#dc4a3c"/>
<circle cx="316.67" cy="49.22" r="1.1" fill="#dc4a3c"/>
<circle cx="317.36" cy="49.39" r="1.1" fill="#dc4a3c"/>
<circle cx="314.93" cy="47.75" r="1.1" fill="#dc4a3c"/>
<circle cx="316.45" cy="47.77" r="1.1" fill="#dc4a3c"/>
<circle cx="317.28" cy="47.59" r="1.1" fill="#dc4a3c"/>
<circle cx="315.15" cy="46.55" r="1.1" fill="#dc4a3c"/>
<circle cx="316.61" cy="46.10" r="1.1" fill="#dc4a3c"/>
<circle cx="317.52" cy="46.29" r="1.1" fill="#dc4a3c"/>
<circle cx="314.91" cy="44.88" r="1.1" fill="#dc4a3c"/>
<circle cx="316.32" cy="44.95" r="1.1" fill="#dc4a3c"/>
<circle cx="317.37" cy="45.02" r="1.1" fill="#dc4a3c"/>
<circle cx="315.34" cy="43.29" r="1.1" fill="#dc4a3c"/>
<circle cx="316.07" cy="43.29" r="1.1" fill="#dc4a3c"/>
<circle cx="317.26" cy="43.39" r="1.1" fill="#dc4a3c"/>
<circle cx="315.48" cy="41.84" r="1.1" fill="#dc4a3c"/>
<circle cx="317.63" cy="41.57" r="1.1" fill="#dc4a3c"/>
<circle cx="315.82" cy="40.45" r="1.1" fill="#dc4a3c"/>
<circle cx="316.70" cy="40.21" r="1.1" fill="#dc4a3c"/>
<circle cx="316.05" cy="39.30" r="1.265" fill="#dc4a3c"/>
<circle cx="316.32" cy="21.9" r="1.35" fill="#c8463a" stroke="#6a3a36" stroke-width="0.35"/>
<circle cx="316.32" cy="33.2" r="1.35" fill="#c8463a" stroke="#6a3a36" stroke-width="0.35"/>
<rect x="321.28" y="93.50" width="2.20" height="14.70" fill="#2ea7ba"/>
<rect x="321.68" y="91.00" width="1.4" height="3" fill="#2ea7ba"/>
<circle cx="321.54" cy="107.91" r="1.1" fill="#2ea7ba"/>
<circle cx="322.27" cy="107.90" r="1.1" fill="#2ea7ba"/>
<circle cx="323.19" cy="107.91" r="1.1" fill="#2ea7ba"/>
<circle cx="321.32" cy="106.54" r="1.1" fill="#2ea7ba"/>
<circle cx="322.34" cy="106.05" r="1.1" fill="#2ea7ba"/>
<circle cx="322.99" cy="106.41" r="1.1" fill="#2ea7ba"/>
<circle cx="321.74" cy="104.87" r="1.1" fill="#2ea7ba"/>
<circle cx="322.14" cy="104.99" r="1.1" fill="#2ea7ba"/>
<circle cx="323.43" cy="104.61" r="1.1" fill="#2ea7ba"/>
<circle cx="321.40" cy="103.39" r="1.1" fill="#2ea7ba"/>
<circle cx="322.03" cy="103.07" r="1.1" fill="#2ea7ba"/>
<circle cx="323.18" cy="103.49" r="1.1" fill="#2ea7ba"/>
<circle cx="321.83" cy="101.71" r="1.1" fill="#2ea7ba"/>
<circle cx="322.67" cy="101.94" r="1.1" fill="#2ea7ba"/>
<circle cx="323.54" cy="101.84" r="1.1" fill="#2ea7ba"/>
<circle cx="321.81" cy="100.37" r="1.1" fill="#2ea7ba"/>
<circle cx="322.69" cy="100.33" r="1.1" fill="#2ea7ba"/>
<circle cx="323.07" cy="100.31" r="1.1" fill="#2ea7ba"/>
<circle cx="321.47" cy="98.72" r="1.1" fill="#2ea7ba"/>
<circle cx="322.29" cy="98.81" r="1.1" fill="#2ea7ba"/>
<circle cx="323.34" cy="98.66" r="1.1" fill="#2ea7ba"/>
<circle cx="321.32" cy="97.30" r="1.1" fill="#2ea7ba"/>
<circle cx="322.38" cy="97.26" r="1.1" fill="#2ea7ba"/>
<circle cx="323.39" cy="97.14" r="1.1" fill="#2ea7ba"/>
<circle cx="321.50" cy="95.69" r="1.1" fill="#2ea7ba"/>
<circle cx="322.57" cy="95.90" r="1.1" fill="#2ea7ba"/>
<circle cx="323.48" cy="95.81" r="1.1" fill="#2ea7ba"/>
<circle cx="321.34" cy="94.51" r="1.1" fill="#2ea7ba"/>
<circle cx="323.25" cy="94.24" r="1.1" fill="#2ea7ba"/>
<circle cx="321.66" cy="92.75" r="1.1" fill="#2ea7ba"/>
<circle cx="323.10" cy="92.96" r="1.1" fill="#2ea7ba"/>
<circle cx="322.08" cy="91.42" r="1.1" fill="#2ea7ba"/>
<circle cx="322.47" cy="91.28" r="1.1" fill="#2ea7ba"/>
<circle cx="322.29" cy="91.00" r="1.265" fill="#2ea7ba"/>
<rect x="325.68" y="84.60" width="2.20" height="23.60" fill="#dc4a3c"/>
<rect x="326.08" y="82.10" width="1.4" height="3" fill="#dc4a3c"/>
<circle cx="325.74" cy="107.73" r="1.1" fill="#dc4a3c"/>
<circle cx="326.96" cy="107.92" r="1.1" fill="#dc4a3c"/>
<circle cx="327.48" cy="107.67" r="1.1" fill="#dc4a3c"/>
<circle cx="326.08" cy="106.38" r="1.1" fill="#dc4a3c"/>
<circle cx="326.90" cy="106.37" r="1.1" fill="#dc4a3c"/>
<circle cx="327.82" cy="106.19" r="1.1" fill="#dc4a3c"/>
<circle cx="325.57" cy="104.73" r="1.1" fill="#dc4a3c"/>
<circle cx="326.45" cy="105.03" r="1.1" fill="#dc4a3c"/>
<circle cx="327.70" cy="104.89" r="1.1" fill="#dc4a3c"/>
<circle cx="326.21" cy="103.45" r="1.1" fill="#dc4a3c"/>
<circle cx="326.59" cy="103.22" r="1.1" fill="#dc4a3c"/>
<circle cx="327.41" cy="103.45" r="1.1" fill="#dc4a3c"/>
<circle cx="326.05" cy="101.79" r="1.1" fill="#dc4a3c"/>
<circle cx="326.69" cy="101.68" r="1.1" fill="#dc4a3c"/>
<circle cx="327.67" cy="101.91" r="1.1" fill="#dc4a3c"/>
<circle cx="326.16" cy="100.47" r="1.1" fill="#dc4a3c"/>
<circle cx="327.04" cy="100.27" r="1.1" fill="#dc4a3c"/>
<circle cx="327.62" cy="100.21" r="1.1" fill="#dc4a3c"/>
<circle cx="326.21" cy="98.64" r="1.1" fill="#dc4a3c"/>
<circle cx="326.54" cy="98.69" r="1.1" fill="#dc4a3c"/>
<circle cx="327.98" cy="98.98" r="1.1" fill="#dc4a3c"/>
<circle cx="325.76" cy="97.48" r="1.1" fill="#dc4a3c"/>
<circle cx="327.05" cy="97.26" r="1.1" fill="#dc4a3c"/>
<circle cx="327.46" cy="97.44" r="1.1" fill="#dc4a3c"/>
<circle cx="325.79" cy="95.61" r="1.1" fill="#dc4a3c"/>
<circle cx="327.06" cy="95.77" r="1.1" fill="#dc4a3c"/>
<circle cx="327.61" cy="95.85" r="1.1" fill="#dc4a3c"/>
<circle cx="325.71" cy="94.06" r="1.1" fill="#dc4a3c"/>
<circle cx="326.70" cy="94.24" r="1.1" fill="#dc4a3c"/>
<circle cx="327.34" cy="94.24" r="1.1" fill="#dc4a3c"/>
<circle cx="326.06" cy="92.72" r="1.1" fill="#dc4a3c"/>
<circle cx="326.91" cy="92.86" r="1.1" fill="#dc4a3c"/>
<circle cx="327.46" cy="92.56" r="1.1" fill="#dc4a3c"/>
<circle cx="326.00" cy="91.36" r="1.1" fill="#dc4a3c"/>
<circle cx="326.64" cy="91.15" r="1.1" fill="#dc4a3c"/>
<circle cx="327.93" cy="91.50" r="1.1" fill="#dc4a3c"/>
<circle cx="325.69" cy="89.84" r="1.1" fill="#dc4a3c"/>
<circle cx="326.83" cy="89.71" r="1.1" fill="#dc4a3c"/>
<circle cx="327.36" cy="89.71" r="1.1" fill="#dc4a3c"/>
<circle cx="325.98" cy="88.35" r="1.1" fill="#dc4a3c"/>
<circle cx="326.79" cy="88.11" r="1.1" fill="#dc4a3c"/>
<circle cx="327.48" cy="88.21" r="1.1" fill="#dc4a3c"/>
<circle cx="325.82" cy="86.73" r="1.1" fill="#dc4a3c"/>
<circle cx="327.06" cy="86.61" r="1.1" fill="#dc4a3c"/>
<circle cx="328.02" cy="86.67" r="1.1" fill="#dc4a3c"/>
<circle cx="326.19" cy="85.17" r="1.1" fill="#dc4a3c"/>
<circle cx="327.68" cy="85.24" r="1.1" fill="#dc4a3c"/>
<circle cx="325.90" cy="83.95" r="1.1" fill="#dc4a3c"/>
<circle cx="327.56" cy="83.68" r="1.1" fill="#dc4a3c"/>
<circle cx="326.70" cy="82.29" r="1.1" fill="#dc4a3c"/>
<circle cx="327.39" cy="82.08" r="1.1" fill="#dc4a3c"/>
<circle cx="326.71" cy="82.10" r="1.265" fill="#dc4a3c"/>
<line x1="337.50" y1="83.00" x2="337.50" y2="99.20" stroke="#777" stroke-width="1.0"/>
<rect x="331.44" y="87.20" width="2.80" height="21.00" fill="#2ea7ba"/>
<rect x="332.14" y="84.70" width="1.4" height="3" fill="#2ea7ba"/>
<circle cx="331.45" cy="107.86" r="1.1" fill="#2ea7ba"/>
<circle cx="333.03" cy="107.97" r="1.1" fill="#2ea7ba"/>
<circle cx="334.07" cy="107.74" r="1.1" fill="#2ea7ba"/>
<circle cx="331.85" cy="106.10" r="1.1" fill="#2ea7ba"/>
<circle cx="332.67" cy="106.43" r="1.1" fill="#2ea7ba"/>
<circle cx="334.00" cy="106.55" r="1.1" fill="#2ea7ba"/>
<circle cx="331.35" cy="104.78" r="1.1" fill="#2ea7ba"/>
<circle cx="332.64" cy="104.55" r="1.1" fill="#2ea7ba"/>
<circle cx="333.76" cy="104.60" r="1.1" fill="#2ea7ba"/>
<circle cx="331.55" cy="103.27" r="1.1" fill="#2ea7ba"/>
<circle cx="332.85" cy="103.19" r="1.1" fill="#2ea7ba"/>
<circle cx="334.18" cy="103.31" r="1.1" fill="#2ea7ba"/>
<circle cx="331.98" cy="101.63" r="1.1" fill="#2ea7ba"/>
<circle cx="332.85" cy="101.80" r="1.1" fill="#2ea7ba"/>
<circle cx="333.95" cy="101.98" r="1.1" fill="#2ea7ba"/>
<circle cx="331.44" cy="100.49" r="1.1" fill="#2ea7ba"/>
<circle cx="332.74" cy="100.22" r="1.1" fill="#2ea7ba"/>
<circle cx="334.12" cy="100.33" r="1.1" fill="#2ea7ba"/>
<circle cx="331.49" cy="98.59" r="1.1" fill="#2ea7ba"/>
<circle cx="333.16" cy="98.73" r="1.1" fill="#2ea7ba"/>
<circle cx="333.77" cy="98.88" r="1.1" fill="#2ea7ba"/>
<circle cx="331.66" cy="97.21" r="1.1" fill="#2ea7ba"/>
<circle cx="332.72" cy="97.47" r="1.1" fill="#2ea7ba"/>
<circle cx="333.93" cy="97.26" r="1.1" fill="#2ea7ba"/>
<circle cx="331.96" cy="95.73" r="1.1" fill="#2ea7ba"/>
<circle cx="332.77" cy="95.63" r="1.1" fill="#2ea7ba"/>
<circle cx="334.15" cy="95.88" r="1.1" fill="#2ea7ba"/>
<circle cx="331.60" cy="94.25" r="1.1" fill="#2ea7ba"/>
<circle cx="332.65" cy="94.44" r="1.1" fill="#2ea7ba"/>
<circle cx="334.01" cy="94.47" r="1.1" fill="#2ea7ba"/>
<circle cx="331.55" cy="92.92" r="1.1" fill="#2ea7ba"/>
<circle cx="332.51" cy="92.66" r="1.1" fill="#2ea7ba"/>
<circle cx="334.36" cy="92.89" r="1.1" fill="#2ea7ba"/>
<circle cx="331.76" cy="91.30" r="1.1" fill="#2ea7ba"/>
<circle cx="332.82" cy="91.15" r="1.1" fill="#2ea7ba"/>
<circle cx="333.81" cy="91.37" r="1.1" fill="#2ea7ba"/>
<circle cx="331.78" cy="89.68" r="1.1" fill="#2ea7ba"/>
<circle cx="332.94" cy="89.62" r="1.1" fill="#2ea7ba"/>
<circle cx="334.12" cy="89.64" r="1.1" fill="#2ea7ba"/>
<circle cx="331.65" cy="88.21" r="1.1" fill="#2ea7ba"/>
<circle cx="332.88" cy="88.12" r="1.1" fill="#2ea7ba"/>
<circle cx="334.03" cy="88.36" r="1.1" fill="#2ea7ba"/>
<circle cx="331.69" cy="86.70" r="1.1" fill="#2ea7ba"/>
<circle cx="333.86" cy="86.82" r="1.1" fill="#2ea7ba"/>
<circle cx="332.36" cy="85.44" r="1.1" fill="#2ea7ba"/>
<circle cx="333.45" cy="85.16" r="1.1" fill="#2ea7ba"/>
<circle cx="332.81" cy="84.70" r="1.265" fill="#2ea7ba"/>
<rect x="335.84" y="101.70" width="2.80" height="6.50" fill="#dc4a3c"/>
<rect x="336.54" y="99.20" width="1.4" height="3" fill="#dc4a3c"/>
<circle cx="336.27" cy="107.83" r="1.1" fill="#dc4a3c"/>
<circle cx="337.42" cy="107.73" r="1.1" fill="#dc4a3c"/>
<circle cx="338.40" cy="108.03" r="1.1" fill="#dc4a3c"/>
<circle cx="336.27" cy="106.38" r="1.1" fill="#dc4a3c"/>
<circle cx="336.96" cy="106.36" r="1.1" fill="#dc4a3c"/>
<circle cx="338.11" cy="106.52" r="1.1" fill="#dc4a3c"/>
<circle cx="336.37" cy="104.91" r="1.1" fill="#dc4a3c"/>
<circle cx="337.08" cy="104.97" r="1.1" fill="#dc4a3c"/>
<circle cx="338.21" cy="104.96" r="1.1" fill="#dc4a3c"/>
<circle cx="336.05" cy="103.06" r="1.1" fill="#dc4a3c"/>
<circle cx="337.51" cy="103.27" r="1.1" fill="#dc4a3c"/>
<circle cx="338.67" cy="103.39" r="1.1" fill="#dc4a3c"/>
<circle cx="336.26" cy="101.98" r="1.1" fill="#dc4a3c"/>
<circle cx="338.03" cy="102.00" r="1.1" fill="#dc4a3c"/>
<circle cx="336.46" cy="100.06" r="1.1" fill="#dc4a3c"/>
<circle cx="337.80" cy="100.08" r="1.1" fill="#dc4a3c"/>
<circle cx="336.98" cy="99.20" r="1.265" fill="#dc4a3c"/>
<circle cx="337.24" cy="83" r="1.35" fill="#c8463a" stroke="#6a3a36" stroke-width="0.35"/>
<circle cx="337.24" cy="88" r="1.35" fill="#c8463a" stroke="#6a3a36" stroke-width="0.35"/>
<circle cx="337.24" cy="93" r="1.35" fill="#c8463a" stroke="#6a3a36" stroke-width="0.35"/>
<line x1="347.50" y1="41.10" x2="347.50" y2="62.20" stroke="#777" stroke-width="1.0"/>
<rect x="342.20" y="92.80" width="2.20" height="15.40" fill="#2ea7ba"/>
<rect x="342.60" y="90.30" width="1.4" height="3" fill="#2ea7ba"/>
<circle cx="342.49" cy="107.61" r="1.1" fill="#2ea7ba"/>
<circle cx="343.06" cy="107.70" r="1.1" fill="#2ea7ba"/>
<circle cx="344.05" cy="108.01" r="1.1" fill="#2ea7ba"/>
<circle cx="342.68" cy="106.49" r="1.1" fill="#2ea7ba"/>
<circle cx="343.64" cy="106.27" r="1.1" fill="#2ea7ba"/>
<circle cx="344.41" cy="106.19" r="1.1" fill="#2ea7ba"/>
<circle cx="342.70" cy="104.96" r="1.1" fill="#2ea7ba"/>
<circle cx="343.46" cy="104.66" r="1.1" fill="#2ea7ba"/>
<circle cx="343.91" cy="105.01" r="1.1" fill="#2ea7ba"/>
<circle cx="342.44" cy="103.36" r="1.1" fill="#2ea7ba"/>
<circle cx="343.55" cy="103.12" r="1.1" fill="#2ea7ba"/>
<circle cx="344.34" cy="103.28" r="1.1" fill="#2ea7ba"/>
<circle cx="342.60" cy="101.78" r="1.1" fill="#2ea7ba"/>
<circle cx="343.09" cy="102.03" r="1.1" fill="#2ea7ba"/>
<circle cx="344.05" cy="101.92" r="1.1" fill="#2ea7ba"/>
<circle cx="342.63" cy="100.17" r="1.1" fill="#2ea7ba"/>
<circle cx="343.44" cy="100.25" r="1.1" fill="#2ea7ba"/>
<circle cx="344.01" cy="100.16" r="1.1" fill="#2ea7ba"/>
<circle cx="342.72" cy="98.73" r="1.1" fill="#2ea7ba"/>
<circle cx="343.31" cy="98.80" r="1.1" fill="#2ea7ba"/>
<circle cx="343.87" cy="98.93" r="1.1" fill="#2ea7ba"/>
<circle cx="342.57" cy="97.49" r="1.1" fill="#2ea7ba"/>
<circle cx="343.20" cy="97.15" r="1.1" fill="#2ea7ba"/>
<circle cx="344.09" cy="97.42" r="1.1" fill="#2ea7ba"/>
<circle cx="342.51" cy="95.75" r="1.1" fill="#2ea7ba"/>
<circle cx="343.32" cy="95.63" r="1.1" fill="#2ea7ba"/>
<circle cx="344.49" cy="95.79" r="1.1" fill="#2ea7ba"/>
<circle cx="342.40" cy="94.44" r="1.1" fill="#2ea7ba"/>
<circle cx="343.09" cy="94.41" r="1.1" fill="#2ea7ba"/>
<circle cx="344.10" cy="94.46" r="1.1" fill="#2ea7ba"/>
<circle cx="342.31" cy="92.69" r="1.1" fill="#2ea7ba"/>
<circle cx="344.10" cy="92.79" r="1.1" fill="#2ea7ba"/>
<circle cx="342.79" cy="91.34" r="1.1" fill="#2ea7ba"/>
<circle cx="343.53" cy="91.27" r="1.1" fill="#2ea7ba"/>
<circle cx="343.00" cy="90.30" r="1.265" fill="#2ea7ba"/>
<rect x="347.00" y="64.70" width="1.40" height="9.70" fill="#dc4a3c"/>
<rect x="347.00" y="62.20" width="1.4" height="3" fill="#dc4a3c"/>
<circle cx="347.41" cy="73.88" r="1.1" fill="#dc4a3c"/>
<circle cx="348.43" cy="74.03" r="1.1" fill="#dc4a3c"/>
<circle cx="347.27" cy="72.56" r="1.1" fill="#dc4a3c"/>
<circle cx="347.94" cy="72.64" r="1.1" fill="#dc4a3c"/>
<circle cx="347.05" cy="71.18" r="1.1" fill="#dc4a3c"/>
<circle cx="348.40" cy="71.09" r="1.1" fill="#dc4a3c"/>
<circle cx="347.42" cy="69.47" r="1.1" fill="#dc4a3c"/>
<circle cx="348.32" cy="69.73" r="1.1" fill="#dc4a3c"/>
<circle cx="346.98" cy="67.80" r="1.1" fill="#dc4a3c"/>
<circle cx="348.14" cy="68.00" r="1.1" fill="#dc4a3c"/>
<circle cx="346.95" cy="66.36" r="1.1" fill="#dc4a3c"/>
<circle cx="348.46" cy="66.44" r="1.1" fill="#dc4a3c"/>
<circle cx="347.06" cy="64.84" r="1.1" fill="#dc4a3c"/>
<circle cx="348.15" cy="64.84" r="1.1" fill="#dc4a3c"/>
<circle cx="347.51" cy="63.52" r="1.1" fill="#dc4a3c"/>
<circle cx="347.83" cy="63.50" r="1.1" fill="#dc4a3c"/>
<circle cx="347.99" cy="61.76" r="1.1" fill="#dc4a3c"/>
<circle cx="347.95" cy="61.85" r="1.1" fill="#dc4a3c"/>
<circle cx="347.42" cy="62.20" r="1.265" fill="#dc4a3c"/>
<rect x="346.30" y="75.80" width="2.80" height="32.40" fill="#dc4a3c"/>
<circle cx="346.69" cy="107.83" r="1.1" fill="#dc4a3c"/>
<circle cx="347.73" cy="107.66" r="1.1" fill="#dc4a3c"/>
<circle cx="349.10" cy="107.70" r="1.1" fill="#dc4a3c"/>
<circle cx="346.66" cy="106.16" r="1.1" fill="#dc4a3c"/>
<circle cx="347.75" cy="106.37" r="1.1" fill="#dc4a3c"/>
<circle cx="348.81" cy="106.29" r="1.1" fill="#dc4a3c"/>
<circle cx="346.20" cy="104.87" r="1.1" fill="#dc4a3c"/>
<circle cx="347.83" cy="104.63" r="1.1" fill="#dc4a3c"/>
<circle cx="348.94" cy="104.92" r="1.1" fill="#dc4a3c"/>
<circle cx="346.22" cy="103.47" r="1.1" fill="#dc4a3c"/>
<circle cx="347.96" cy="103.08" r="1.1" fill="#dc4a3c"/>
<circle cx="348.72" cy="103.09" r="1.1" fill="#dc4a3c"/>
<circle cx="346.33" cy="101.59" r="1.1" fill="#dc4a3c"/>
<circle cx="347.69" cy="101.68" r="1.1" fill="#dc4a3c"/>
<circle cx="348.76" cy="101.78" r="1.1" fill="#dc4a3c"/>
<circle cx="346.41" cy="100.44" r="1.1" fill="#dc4a3c"/>
<circle cx="347.86" cy="100.11" r="1.1" fill="#dc4a3c"/>
<circle cx="348.71" cy="100.05" r="1.1" fill="#dc4a3c"/>
<circle cx="346.38" cy="98.60" r="1.1" fill="#dc4a3c"/>
<circle cx="347.84" cy="98.94" r="1.1" fill="#dc4a3c"/>
<circle cx="349.25" cy="98.65" r="1.1" fill="#dc4a3c"/>
<circle cx="346.18" cy="97.43" r="1.1" fill="#dc4a3c"/>
<circle cx="347.64" cy="97.52" r="1.1" fill="#dc4a3c"/>
<circle cx="348.82" cy="97.21" r="1.1" fill="#dc4a3c"/>
<circle cx="346.20" cy="96.02" r="1.1" fill="#dc4a3c"/>
<circle cx="347.71" cy="95.77" r="1.1" fill="#dc4a3c"/>
<circle cx="348.86" cy="95.93" r="1.1" fill="#dc4a3c"/>
<circle cx="346.73" cy="94.29" r="1.1" fill="#dc4a3c"/>
<circle cx="347.47" cy="94.25" r="1.1" fill="#dc4a3c"/>
<circle cx="349.17" cy="94.25" r="1.1" fill="#dc4a3c"/>
<circle cx="346.61" cy="92.83" r="1.1" fill="#dc4a3c"/>
<circle cx="347.67" cy="92.84" r="1.1" fill="#dc4a3c"/>
<circle cx="348.72" cy="92.83" r="1.1" fill="#dc4a3c"/>
<circle cx="346.76" cy="91.09" r="1.1" fill="#dc4a3c"/>
<circle cx="347.61" cy="91.49" r="1.1" fill="#dc4a3c"/>
<circle cx="349.23" cy="91.06" r="1.1" fill="#dc4a3c"/>
<circle cx="346.59" cy="89.87" r="1.1" fill="#dc4a3c"/>
<circle cx="347.94" cy="89.78" r="1.1" fill="#dc4a3c"/>
<circle cx="348.64" cy="89.70" r="1.1" fill="#dc4a3c"/>
<circle cx="346.65" cy="88.41" r="1.1" fill="#dc4a3c"/>
<circle cx="347.49" cy="88.37" r="1.1" fill="#dc4a3c"/>
<circle cx="349.01" cy="88.38" r="1.1" fill="#dc4a3c"/>
<circle cx="346.17" cy="86.77" r="1.1" fill="#dc4a3c"/>
<circle cx="347.58" cy="86.85" r="1.1" fill="#dc4a3c"/>
<circle cx="348.79" cy="86.61" r="1.1" fill="#dc4a3c"/>
<circle cx="346.62" cy="85.19" r="1.1" fill="#dc4a3c"/>
<circle cx="347.90" cy="85.20" r="1.1" fill="#dc4a3c"/>
<circle cx="348.93" cy="85.45" r="1.1" fill="#dc4a3c"/>
<circle cx="346.23" cy="83.92" r="1.1" fill="#dc4a3c"/>
<circle cx="347.40" cy="84.02" r="1.1" fill="#dc4a3c"/>
<circle cx="348.57" cy="83.91" r="1.1" fill="#dc4a3c"/>
<circle cx="346.41" cy="82.14" r="1.1" fill="#dc4a3c"/>
<circle cx="347.63" cy="82.30" r="1.1" fill="#dc4a3c"/>
<circle cx="348.84" cy="82.11" r="1.1" fill="#dc4a3c"/>
<circle cx="346.52" cy="80.70" r="1.1" fill="#dc4a3c"/>
<circle cx="348.03" cy="80.74" r="1.1" fill="#dc4a3c"/>
<circle cx="348.85" cy="80.66" r="1.1" fill="#dc4a3c"/>
<circle cx="346.83" cy="79.21" r="1.1" fill="#dc4a3c"/>
<circle cx="347.80" cy="79.47" r="1.1" fill="#dc4a3c"/>
<circle cx="348.83" cy="79.43" r="1.1" fill="#dc4a3c"/>
<circle cx="346.35" cy="77.60" r="1.1" fill="#dc4a3c"/>
<circle cx="347.38" cy="77.77" r="1.1" fill="#dc4a3c"/>
<circle cx="349.16" cy="77.65" r="1.1" fill="#dc4a3c"/>
<circle cx="346.46" cy="76.43" r="1.1" fill="#dc4a3c"/>
<circle cx="347.54" cy="76.13" r="1.1" fill="#dc4a3c"/>
<circle cx="348.91" cy="76.26" r="1.1" fill="#dc4a3c"/>
<circle cx="347.96" cy="76.00" r="1.265" fill="#dc4a3c"/>
<circle cx="347.70" cy="41.1" r="1.35" fill="#c8463a" stroke="#6a3a36" stroke-width="0.35"/>
<circle cx="347.70" cy="49.9" r="1.35" fill="#c8463a" stroke="#6a3a36" stroke-width="0.35"/>
<line x1="358.50" y1="46.90" x2="358.50" y2="85.30" stroke="#777" stroke-width="1.0"/>
<rect x="352.66" y="97.90" width="2.20" height="10.30" fill="#2ea7ba"/>
<rect x="353.06" y="95.40" width="1.4" height="3" fill="#2ea7ba"/>
<circle cx="353.14" cy="107.67" r="1.1" fill="#2ea7ba"/>
<circle cx="353.80" cy="107.76" r="1.1" fill="#2ea7ba"/>
<circle cx="354.33" cy="107.77" r="1.1" fill="#2ea7ba"/>
<circle cx="353.15" cy="106.20" r="1.1" fill="#2ea7ba"/>
<circle cx="353.82" cy="106.41" r="1.1" fill="#2ea7ba"/>
<circle cx="354.35" cy="106.51" r="1.1" fill="#2ea7ba"/>
<circle cx="352.59" cy="104.70" r="1.1" fill="#2ea7ba"/>
<circle cx="353.91" cy="104.56" r="1.1" fill="#2ea7ba"/>
<circle cx="354.57" cy="104.61" r="1.1" fill="#2ea7ba"/>
<circle cx="352.84" cy="103.06" r="1.1" fill="#2ea7ba"/>
<circle cx="353.52" cy="103.16" r="1.1" fill="#2ea7ba"/>
<circle cx="354.37" cy="103.10" r="1.1" fill="#2ea7ba"/>
<circle cx="352.65" cy="101.81" r="1.1" fill="#2ea7ba"/>
<circle cx="353.51" cy="101.96" r="1.1" fill="#2ea7ba"/>
<circle cx="354.60" cy="101.68" r="1.1" fill="#2ea7ba"/>
<circle cx="352.68" cy="100.47" r="1.1" fill="#2ea7ba"/>
<circle cx="353.44" cy="100.42" r="1.1" fill="#2ea7ba"/>
<circle cx="354.38" cy="100.52" r="1.1" fill="#2ea7ba"/>
<circle cx="352.81" cy="98.85" r="1.1" fill="#2ea7ba"/>
<circle cx="354.90" cy="98.60" r="1.1" fill="#2ea7ba"/>
<circle cx="352.86" cy="97.40" r="1.1" fill="#2ea7ba"/>
<circle cx="354.42" cy="97.41" r="1.1" fill="#2ea7ba"/>
<circle cx="353.29" cy="95.80" r="1.1" fill="#2ea7ba"/>
<circle cx="353.85" cy="95.77" r="1.1" fill="#2ea7ba"/>
<circle cx="353.63" cy="95.40" r="1.265" fill="#2ea7ba"/>
<rect x="357.06" y="87.80" width="2.20" height="20.40" fill="#dc4a3c"/>
<rect x="357.46" y="85.30" width="1.4" height="3" fill="#dc4a3c"/>
<circle cx="357.32" cy="107.70" r="1.1" fill="#dc4a3c"/>
<circle cx="358.00" cy="107.87" r="1.1" fill="#dc4a3c"/>
<circle cx="358.77" cy="107.95" r="1.1" fill="#dc4a3c"/>
<circle cx="357.26" cy="106.16" r="1.1" fill="#dc4a3c"/>
<circle cx="357.89" cy="106.30" r="1.1" fill="#dc4a3c"/>
<circle cx="359.06" cy="106.41" r="1.1" fill="#dc4a3c"/>
<circle cx="357.17" cy="104.76" r="1.1" fill="#dc4a3c"/>
<circle cx="358.43" cy="104.69" r="1.1" fill="#dc4a3c"/>
<circle cx="359.40" cy="105.00" r="1.1" fill="#dc4a3c"/>
<circle cx="357.60" cy="103.52" r="1.1" fill="#dc4a3c"/>
<circle cx="357.99" cy="103.46" r="1.1" fill="#dc4a3c"/>
<circle cx="359.14" cy="103.15" r="1.1" fill="#dc4a3c"/>
<circle cx="357.61" cy="101.87" r="1.1" fill="#dc4a3c"/>
<circle cx="358.38" cy="101.83" r="1.1" fill="#dc4a3c"/>
<circle cx="358.77" cy="101.98" r="1.1" fill="#dc4a3c"/>
<circle cx="357.03" cy="100.18" r="1.1" fill="#dc4a3c"/>
<circle cx="358.24" cy="100.15" r="1.1" fill="#dc4a3c"/>
<circle cx="359.03" cy="100.41" r="1.1" fill="#dc4a3c"/>
<circle cx="356.98" cy="98.88" r="1.1" fill="#dc4a3c"/>
<circle cx="357.88" cy="98.79" r="1.1" fill="#dc4a3c"/>
<circle cx="359.16" cy="98.89" r="1.1" fill="#dc4a3c"/>
<circle cx="356.94" cy="97.15" r="1.1" fill="#dc4a3c"/>
<circle cx="358.48" cy="97.25" r="1.1" fill="#dc4a3c"/>
<circle cx="359.01" cy="97.24" r="1.1" fill="#dc4a3c"/>
<circle cx="357.40" cy="95.92" r="1.1" fill="#dc4a3c"/>
<circle cx="358.27" cy="95.75" r="1.1" fill="#dc4a3c"/>
<circle cx="359.11" cy="95.81" r="1.1" fill="#dc4a3c"/>
<circle cx="357.04" cy="94.52" r="1.1" fill="#dc4a3c"/>
<circle cx="358.49" cy="94.44" r="1.1" fill="#dc4a3c"/>
<circle cx="359.40" cy="94.28" r="1.1" fill="#dc4a3c"/>
<circle cx="357.50" cy="92.67" r="1.1" fill="#dc4a3c"/>
<circle cx="358.33" cy="92.91" r="1.1" fill="#dc4a3c"/>
<circle cx="359.37" cy="92.97" r="1.1" fill="#dc4a3c"/>
<circle cx="357.53" cy="91.18" r="1.1" fill="#dc4a3c"/>
<circle cx="358.36" cy="91.29" r="1.1" fill="#dc4a3c"/>
<circle cx="358.93" cy="91.23" r="1.1" fill="#dc4a3c"/>
<circle cx="357.47" cy="89.97" r="1.1" fill="#dc4a3c"/>
<circle cx="358.40" cy="89.88" r="1.1" fill="#dc4a3c"/>
<circle cx="358.83" cy="89.63" r="1.1" fill="#dc4a3c"/>
<circle cx="357.40" cy="88.16" r="1.1" fill="#dc4a3c"/>
<circle cx="358.85" cy="88.10" r="1.1" fill="#dc4a3c"/>
<circle cx="357.40" cy="86.91" r="1.1" fill="#dc4a3c"/>
<circle cx="358.49" cy="86.97" r="1.1" fill="#dc4a3c"/>
<circle cx="357.81" cy="85.47" r="1.1" fill="#dc4a3c"/>
<circle cx="358.26" cy="85.18" r="1.1" fill="#dc4a3c"/>
<circle cx="358.10" cy="85.30" r="1.265" fill="#dc4a3c"/>
<circle cx="358.16" cy="46.9" r="1.35" fill="#c8463a" stroke="#6a3a36" stroke-width="0.35"/>
<circle cx="358.16" cy="66.5" r="1.35" fill="#c8463a" stroke="#6a3a36" stroke-width="0.35"/>
<circle cx="358.16" cy="74.3" r="1.35" fill="#c8463a" stroke="#6a3a36" stroke-width="0.35"/>
<circle cx="358.16" cy="78" r="1.35" fill="#c8463a" stroke="#6a3a36" stroke-width="0.35"/>
<rect x="365.22" y="79.60" width="2.20" height="17.80" fill="#dc4a3c"/>
<rect x="365.62" y="77.10" width="1.4" height="3" fill="#dc4a3c"/>
<circle cx="365.08" cy="96.97" r="1.1" fill="#dc4a3c"/>
<circle cx="366.24" cy="96.76" r="1.1" fill="#dc4a3c"/>
<circle cx="367.47" cy="96.94" r="1.1" fill="#dc4a3c"/>
<circle cx="365.07" cy="95.73" r="1.1" fill="#dc4a3c"/>
<circle cx="366.13" cy="95.38" r="1.1" fill="#dc4a3c"/>
<circle cx="366.89" cy="95.30" r="1.1" fill="#dc4a3c"/>
<circle cx="365.57" cy="94.04" r="1.1" fill="#dc4a3c"/>
<circle cx="366.32" cy="93.87" r="1.1" fill="#dc4a3c"/>
<circle cx="367.07" cy="94.24" r="1.1" fill="#dc4a3c"/>
<circle cx="365.33" cy="92.74" r="1.1" fill="#dc4a3c"/>
<circle cx="366.59" cy="92.31" r="1.1" fill="#dc4a3c"/>
<circle cx="367.46" cy="92.26" r="1.1" fill="#dc4a3c"/>
<circle cx="365.57" cy="91.15" r="1.1" fill="#dc4a3c"/>
<circle cx="366.46" cy="91.02" r="1.1" fill="#dc4a3c"/>
<circle cx="367.44" cy="90.83" r="1.1" fill="#dc4a3c"/>
<circle cx="365.45" cy="89.38" r="1.1" fill="#dc4a3c"/>
<circle cx="366.25" cy="89.35" r="1.1" fill="#dc4a3c"/>
<circle cx="367.37" cy="89.54" r="1.1" fill="#dc4a3c"/>
<circle cx="365.62" cy="88.06" r="1.1" fill="#dc4a3c"/>
<circle cx="366.39" cy="88.21" r="1.1" fill="#dc4a3c"/>
<circle cx="367.44" cy="88.03" r="1.1" fill="#dc4a3c"/>
<circle cx="365.30" cy="86.71" r="1.1" fill="#dc4a3c"/>
<circle cx="366.23" cy="86.30" r="1.1" fill="#dc4a3c"/>
<circle cx="367.10" cy="86.60" r="1.1" fill="#dc4a3c"/>
<circle cx="365.72" cy="85.07" r="1.1" fill="#dc4a3c"/>
<circle cx="366.43" cy="85.22" r="1.1" fill="#dc4a3c"/>
<circle cx="367.41" cy="84.97" r="1.1" fill="#dc4a3c"/>
<circle cx="365.39" cy="83.63" r="1.1" fill="#dc4a3c"/>
<circle cx="366.19" cy="83.30" r="1.1" fill="#dc4a3c"/>
<circle cx="367.30" cy="83.65" r="1.1" fill="#dc4a3c"/>
<circle cx="365.24" cy="82.09" r="1.1" fill="#dc4a3c"/>
<circle cx="366.59" cy="81.81" r="1.1" fill="#dc4a3c"/>
<circle cx="366.97" cy="82.00" r="1.1" fill="#dc4a3c"/>
<circle cx="365.32" cy="80.72" r="1.1" fill="#dc4a3c"/>
<circle cx="367.55" cy="80.47" r="1.1" fill="#dc4a3c"/>
<circle cx="365.93" cy="79.07" r="1.1" fill="#dc4a3c"/>
<circle cx="366.69" cy="79.24" r="1.1" fill="#dc4a3c"/>
<circle cx="365.78" cy="77.29" r="1.1" fill="#dc4a3c"/>
<circle cx="366.60" cy="77.26" r="1.1" fill="#dc4a3c"/>
<circle cx="366.31" cy="77.10" r="1.265" fill="#dc4a3c"/>
<circle cx="366.32" cy="76.1" r="1.35" fill="#c8463a" stroke="#6a3a36" stroke-width="0.35"/>
<rect x="362.27" y="98.2" width="8.1" height="8.80" fill="#dc4a3c" stroke="#3a1d1a" stroke-width="0.5"/>
<line x1="362.27" y1="101.90" x2="370.37" y2="101.90" stroke="#8a3328" stroke-width="0.6"/>
<circle cx="362.67" cy="101.90" r="0.9" fill="#2a1a18"/>
<circle cx="369.97" cy="101.90" r="0.9" fill="#2a1a18"/>
<rect x="374.9" y="48.3" width="5.2" height="5.2" fill="#2ea7ba" stroke="#1d2f33" stroke-width="0.6"/>
<rect x="374.9" y="54.4" width="5.2" height="5.2" fill="#dc4a3c" stroke="#3a1a17" stroke-width="0.6"/>
<text x="383.10" y="53.00" font-size="5.4" textLength="12.4" lengthAdjust="spacingAndGlyphs" fill="#111" >Normal</text>
<text x="383.10" y="59.00" font-size="5.4" textLength="11.4" lengthAdjust="spacingAndGlyphs" fill="#111" >Tumor</text>
<text x="0.00" y="139.00" font-size="6.5" font-weight="bold" fill="#111" >B</text>
<line x1="18.80" y1="144.30" x2="18.80" y2="232.30" stroke="#555" stroke-width="0.8"/>
<line x1="18.80" y1="232.30" x2="96.00" y2="232.30" stroke="#555" stroke-width="0.8"/>
<line x1="17.00" y1="228.10" x2="18.80" y2="228.10" stroke="#444" stroke-width="0.6"/>
<text x="16.00" y="229.70" font-size="4.7" text-anchor="end" fill="#1a1a1a" >0</text>
<line x1="17.00" y1="208.75" x2="18.80" y2="208.75" stroke="#444" stroke-width="0.6"/>
<text x="16.00" y="210.35" font-size="4.7" text-anchor="end" fill="#1a1a1a" >2</text>
<line x1="17.00" y1="189.40" x2="18.80" y2="189.40" stroke="#444" stroke-width="0.6"/>
<text x="16.00" y="191.00" font-size="4.7" text-anchor="end" fill="#1a1a1a" >4</text>
<line x1="17.00" y1="170.05" x2="18.80" y2="170.05" stroke="#444" stroke-width="0.6"/>
<text x="16.00" y="171.65" font-size="4.7" text-anchor="end" fill="#1a1a1a" >6</text>
<line x1="17.00" y1="150.70" x2="18.80" y2="150.70" stroke="#444" stroke-width="0.6"/>
<text x="16.00" y="152.30" font-size="4.7" text-anchor="end" fill="#1a1a1a" >8</text>
<g transform="translate(3.8,188.0) rotate(-90)"><text x="0" y="0" font-size="4.9" text-anchor="middle" fill="#1a1a1a" font-family="Liberation Sans, sans-serif" textLength="66.7" lengthAdjust="spacingAndGlyphs">The expression of AC022784.1</text></g>
<g transform="translate(8.2,188.0) rotate(-90)"><text x="0" y="0" font-size="4.9" text-anchor="middle" fill="#1a1a1a" font-family="Liberation Sans, sans-serif" textLength="32.6" lengthAdjust="spacingAndGlyphs">Log<tspan font-size="3.4" dy="1.1">2</tspan><tspan dy="-1.1"> (TPM+1)</tspan></text></g>
<line x1="40.30" y1="232.30" x2="40.30" y2="234.30" stroke="#444" stroke-width="0.6"/>
<text x="40.30" y="239.20" font-size="5.0" text-anchor="middle" fill="#1a1a1a" >Normal</text>
<line x1="74.30" y1="232.30" x2="74.30" y2="234.30" stroke="#444" stroke-width="0.6"/>
<text x="74.30" y="239.20" font-size="5.0" text-anchor="middle" fill="#1a1a1a" >Tumor</text>
<line x1="39.70" y1="148.60" x2="74.80" y2="148.60" stroke="#333" stroke-width="0.6"/>
<line x1="39.70" y1="148.60" x2="39.70" y2="150.30" stroke="#333" stroke-width="0.6"/>
<line x1="74.80" y1="148.60" x2="74.80" y2="207.50" stroke="#333" stroke-width="0.7"/>
<text x="57.20" y="150.20" font-size="4.6" text-anchor="middle" fill="#222" >***</text>
<rect x="60.6" y="207.5" width="28.6" height="22.3" fill="#dc4a3c"/>
<circle cx="85.50" cy="150.50" r="1.3" fill="#dc4a3c"/>
<circle cx="65.50" cy="155.50" r="1.3" fill="#dc4a3c"/>
<circle cx="72.00" cy="158.00" r="1.3" fill="#dc4a3c"/>
<circle cx="81.60" cy="156.50" r="1.3" fill="#dc4a3c"/>
<circle cx="64.60" cy="171.50" r="1.3" fill="#dc4a3c"/>
<circle cx="71.00" cy="176.00" r="1.3" fill="#dc4a3c"/>
<circle cx="81.00" cy="178.00" r="1.3" fill="#dc4a3c"/>
<circle cx="84.00" cy="178.00" r="1.3" fill="#dc4a3c"/>
<circle cx="68.00" cy="179.00" r="1.3" fill="#dc4a3c"/>
<circle cx="76.62" cy="192.49" r="1.3" fill="#dc4a3c"/>
<circle cx="78.07" cy="195.82" r="1.3" fill="#dc4a3c"/>
<circle cx="64.86" cy="201.12" r="1.3" fill="#dc4a3c"/>
<circle cx="82.84" cy="183.44" r="1.3" fill="#dc4a3c"/>
<circle cx="69.43" cy="193.07" r="1.3" fill="#dc4a3c"/>
<circle cx="74.83" cy="207.43" r="1.3" fill="#dc4a3c"/>
<circle cx="75.00" cy="204.86" r="1.3" fill="#dc4a3c"/>
<circle cx="66.94" cy="201.37" r="1.3" fill="#dc4a3c"/>
<circle cx="84.71" cy="201.30" r="1.3" fill="#dc4a3c"/>
<circle cx="81.48" cy="199.13" r="1.3" fill="#dc4a3c"/>
<circle cx="64.75" cy="201.97" r="1.3" fill="#dc4a3c"/>
<circle cx="77.89" cy="203.52" r="1.3" fill="#dc4a3c"/>
<circle cx="64.61" cy="194.16" r="1.3" fill="#dc4a3c"/>
<circle cx="74.90" cy="205.34" r="1.3" fill="#dc4a3c"/>
<circle cx="85.09" cy="202.83" r="1.3" fill="#dc4a3c"/>
<circle cx="86.14" cy="202.74" r="1.3" fill="#dc4a3c"/>
<circle cx="82.78" cy="196.39" r="1.3" fill="#dc4a3c"/>
<circle cx="86.08" cy="197.49" r="1.3" fill="#dc4a3c"/>
<circle cx="65.32" cy="205.56" r="1.3" fill="#dc4a3c"/>
<circle cx="69.22" cy="189.35" r="1.3" fill="#dc4a3c"/>
<circle cx="73.95" cy="206.96" r="1.3" fill="#dc4a3c"/>
<circle cx="70.68" cy="201.14" r="1.3" fill="#dc4a3c"/>
<circle cx="72.83" cy="198.80" r="1.3" fill="#dc4a3c"/>
<circle cx="77.61" cy="195.37" r="1.3" fill="#dc4a3c"/>
<circle cx="85.54" cy="200.33" r="1.3" fill="#dc4a3c"/>
<circle cx="86.29" cy="202.17" r="1.3" fill="#dc4a3c"/>
<circle cx="88.11" cy="205.19" r="1.3" fill="#dc4a3c"/>
<circle cx="67.22" cy="201.97" r="1.3" fill="#dc4a3c"/>
<circle cx="87.44" cy="205.26" r="1.3" fill="#dc4a3c"/>
<circle cx="77.37" cy="205.98" r="1.3" fill="#dc4a3c"/>
<circle cx="68.37" cy="202.74" r="1.3" fill="#dc4a3c"/>
<circle cx="77.47" cy="204.78" r="1.3" fill="#dc4a3c"/>
<circle cx="65.40" cy="193.74" r="1.3" fill="#dc4a3c"/>
<circle cx="88.08" cy="205.15" r="1.3" fill="#dc4a3c"/>
<circle cx="82.28" cy="187.57" r="1.3" fill="#dc4a3c"/>
<circle cx="67.25" cy="196.74" r="1.3" fill="#dc4a3c"/>
<circle cx="81.89" cy="193.97" r="1.3" fill="#dc4a3c"/>
<circle cx="63.96" cy="205.46" r="1.3" fill="#dc4a3c"/>
<circle cx="64.37" cy="200.91" r="1.3" fill="#dc4a3c"/>
<circle cx="71.37" cy="202.82" r="1.3" fill="#dc4a3c"/>
<circle cx="87.88" cy="205.60" r="1.3" fill="#dc4a3c"/>
<circle cx="87.71" cy="198.76" r="1.3" fill="#dc4a3c"/>
<circle cx="65.67" cy="194.37" r="1.3" fill="#dc4a3c"/>
<circle cx="64.06" cy="200.63" r="1.3" fill="#dc4a3c"/>
<circle cx="73.49" cy="191.32" r="1.3" fill="#dc4a3c"/>
<circle cx="67.12" cy="200.84" r="1.3" fill="#dc4a3c"/>
<circle cx="83.62" cy="185.40" r="1.3" fill="#dc4a3c"/>
<circle cx="86.38" cy="194.47" r="1.3" fill="#dc4a3c"/>
<circle cx="72.47" cy="205.85" r="1.3" fill="#dc4a3c"/>
<circle cx="76.08" cy="197.83" r="1.3" fill="#dc4a3c"/>
<circle cx="77.97" cy="201.46" r="1.3" fill="#dc4a3c"/>
<circle cx="78.54" cy="199.85" r="1.3" fill="#dc4a3c"/>
<circle cx="75.78" cy="206.56" r="1.3" fill="#dc4a3c"/>
<circle cx="80.89" cy="197.20" r="1.3" fill="#dc4a3c"/>
<circle cx="71.00" cy="192.48" r="1.3" fill="#dc4a3c"/>
<circle cx="76.15" cy="207.15" r="1.3" fill="#dc4a3c"/>
<circle cx="63.65" cy="199.63" r="1.3" fill="#dc4a3c"/>
<circle cx="77.51" cy="196.84" r="1.3" fill="#dc4a3c"/>
<circle cx="78.10" cy="183.99" r="1.3" fill="#dc4a3c"/>
<circle cx="64.71" cy="201.25" r="1.3" fill="#dc4a3c"/>
<circle cx="74.77" cy="201.16" r="1.3" fill="#dc4a3c"/>
<circle cx="71.93" cy="202.12" r="1.3" fill="#dc4a3c"/>
<circle cx="81.55" cy="202.62" r="1.3" fill="#dc4a3c"/>
<circle cx="66.12" cy="184.15" r="1.3" fill="#dc4a3c"/>
<circle cx="87.14" cy="202.06" r="1.3" fill="#dc4a3c"/>
<circle cx="74.59" cy="192.85" r="1.3" fill="#dc4a3c"/>
<circle cx="71.17" cy="200.50" r="1.3" fill="#dc4a3c"/>
<circle cx="71.16" cy="195.68" r="1.3" fill="#dc4a3c"/>
<circle cx="77.87" cy="195.80" r="1.3" fill="#dc4a3c"/>
<circle cx="72.72" cy="194.14" r="1.3" fill="#dc4a3c"/>
<circle cx="63.67" cy="203.77" r="1.3" fill="#dc4a3c"/>
<circle cx="81.37" cy="200.04" r="1.3" fill="#dc4a3c"/>
<circle cx="69.09" cy="194.38" r="1.3" fill="#dc4a3c"/>
<circle cx="68.98" cy="204.31" r="1.3" fill="#dc4a3c"/>
<circle cx="74.12" cy="191.02" r="1.3" fill="#dc4a3c"/>
<circle cx="65.66" cy="202.46" r="1.3" fill="#dc4a3c"/>
<circle cx="71.69" cy="194.67" r="1.3" fill="#dc4a3c"/>
<circle cx="74.04" cy="204.81" r="1.3" fill="#dc4a3c"/>
<circle cx="67.17" cy="205.18" r="1.3" fill="#dc4a3c"/>
<circle cx="79.15" cy="195.03" r="1.3" fill="#dc4a3c"/>
<circle cx="74.35" cy="205.66" r="1.3" fill="#dc4a3c"/>
<circle cx="66.86" cy="192.12" r="1.3" fill="#dc4a3c"/>
<circle cx="68.06" cy="199.26" r="1.3" fill="#dc4a3c"/>
<circle cx="84.17" cy="204.36" r="1.3" fill="#dc4a3c"/>
<circle cx="70.54" cy="190.90" r="1.3" fill="#dc4a3c"/>
<circle cx="79.19" cy="204.36" r="1.3" fill="#dc4a3c"/>
<circle cx="71.68" cy="204.35" r="1.3" fill="#dc4a3c"/>
<circle cx="70.92" cy="189.13" r="1.3" fill="#dc4a3c"/>
<circle cx="69.81" cy="204.14" r="1.3" fill="#dc4a3c"/>
<circle cx="73.64" cy="195.26" r="1.3" fill="#dc4a3c"/>
<circle cx="73.43" cy="196.94" r="1.3" fill="#dc4a3c"/>
<circle cx="66.77" cy="206.24" r="1.3" fill="#dc4a3c"/>
<circle cx="85.03" cy="182.54" r="1.3" fill="#dc4a3c"/>
<circle cx="88.04" cy="205.58" r="1.3" fill="#dc4a3c"/>
<circle cx="86.41" cy="197.26" r="1.3" fill="#dc4a3c"/>
<circle cx="68.46" cy="206.35" r="1.3" fill="#dc4a3c"/>
<circle cx="84.06" cy="203.30" r="1.3" fill="#dc4a3c"/>
<circle cx="76.07" cy="201.82" r="1.3" fill="#dc4a3c"/>
<circle cx="71.88" cy="193.85" r="1.3" fill="#dc4a3c"/>
<circle cx="65.63" cy="192.19" r="1.3" fill="#dc4a3c"/>
<circle cx="70.36" cy="200.42" r="1.3" fill="#dc4a3c"/>
<circle cx="64.07" cy="204.42" r="1.3" fill="#dc4a3c"/>
<circle cx="80.56" cy="205.97" r="1.3" fill="#dc4a3c"/>
<circle cx="85.79" cy="206.29" r="1.3" fill="#dc4a3c"/>
<circle cx="77.57" cy="205.90" r="1.3" fill="#dc4a3c"/>
<circle cx="80.86" cy="183.43" r="1.3" fill="#dc4a3c"/>
<circle cx="71.04" cy="190.54" r="1.3" fill="#dc4a3c"/>
<circle cx="76.22" cy="201.82" r="1.3" fill="#dc4a3c"/>
<circle cx="86.11" cy="196.81" r="1.3" fill="#dc4a3c"/>
<circle cx="71.68" cy="200.87" r="1.3" fill="#dc4a3c"/>
<circle cx="83.99" cy="192.88" r="1.3" fill="#dc4a3c"/>
<circle cx="82.43" cy="198.18" r="1.3" fill="#dc4a3c"/>
<circle cx="68.44" cy="195.39" r="1.3" fill="#dc4a3c"/>
<circle cx="83.33" cy="199.36" r="1.3" fill="#dc4a3c"/>
<circle cx="82.24" cy="190.52" r="1.3" fill="#dc4a3c"/>
<circle cx="83.46" cy="206.26" r="1.3" fill="#dc4a3c"/>
<circle cx="63.10" cy="204.64" r="1.3" fill="#dc4a3c"/>
<circle cx="84.57" cy="201.18" r="1.3" fill="#dc4a3c"/>
<circle cx="70.60" cy="185.81" r="1.3" fill="#dc4a3c"/>
<circle cx="76.23" cy="193.31" r="1.3" fill="#dc4a3c"/>
<circle cx="88.28" cy="215.11" r="1.2" fill="#dc4a3c"/>
<circle cx="61.57" cy="225.06" r="1.2" fill="#dc4a3c"/>
<circle cx="60.40" cy="209.51" r="1.2" fill="#dc4a3c"/>
<circle cx="61.57" cy="209.89" r="1.2" fill="#dc4a3c"/>
<circle cx="88.71" cy="214.92" r="1.2" fill="#dc4a3c"/>
<circle cx="88.82" cy="216.57" r="1.2" fill="#dc4a3c"/>
<circle cx="88.78" cy="212.20" r="1.2" fill="#dc4a3c"/>
<circle cx="88.89" cy="210.81" r="1.2" fill="#dc4a3c"/>
<circle cx="61.35" cy="216.37" r="1.2" fill="#dc4a3c"/>
<circle cx="61.11" cy="208.95" r="1.2" fill="#dc4a3c"/>
<circle cx="89.17" cy="225.22" r="1.2" fill="#dc4a3c"/>
<circle cx="89.22" cy="208.96" r="1.2" fill="#dc4a3c"/>
<circle cx="88.28" cy="221.80" r="1.2" fill="#dc4a3c"/>
<circle cx="88.87" cy="223.27" r="1.2" fill="#dc4a3c"/>
<circle cx="88.23" cy="212.81" r="1.2" fill="#dc4a3c"/>
<circle cx="89.31" cy="209.57" r="1.2" fill="#dc4a3c"/>
<circle cx="88.56" cy="210.87" r="1.2" fill="#dc4a3c"/>
<circle cx="61.70" cy="216.23" r="1.2" fill="#dc4a3c"/>
<circle cx="88.39" cy="223.19" r="1.2" fill="#dc4a3c"/>
<circle cx="89.27" cy="224.14" r="1.2" fill="#dc4a3c"/>
<circle cx="61.50" cy="223.76" r="1.2" fill="#dc4a3c"/>
<circle cx="88.43" cy="225.03" r="1.2" fill="#dc4a3c"/>
<circle cx="61.04" cy="220.42" r="1.2" fill="#dc4a3c"/>
<circle cx="88.49" cy="208.52" r="1.2" fill="#dc4a3c"/>
<circle cx="60.24" cy="210.53" r="1.2" fill="#dc4a3c"/>
<circle cx="89.54" cy="228.95" r="1.2" fill="#dc4a3c"/>
<circle cx="89.48" cy="208.80" r="1.2" fill="#dc4a3c"/>
<circle cx="60.37" cy="224.48" r="1.2" fill="#dc4a3c"/>
<circle cx="61.08" cy="227.13" r="1.2" fill="#dc4a3c"/>
<circle cx="61.52" cy="213.33" r="1.2" fill="#dc4a3c"/>
<rect x="60.6" y="207.5" width="28.6" height="22.3" fill="none" stroke="#7a2a22" stroke-width="0.4"/>
<line x1="60.60" y1="217.00" x2="89.20" y2="217.00" stroke="#a0352a" stroke-width="0.5"/>
<line x1="58.80" y1="217.00" x2="62.00" y2="217.00" stroke="#111" stroke-width="0.9"/>
<line x1="87.80" y1="217.00" x2="91.00" y2="217.00" stroke="#111" stroke-width="0.9"/>
<path d="M25.6,226.2 C26.5,223.6 31,223 39,222.9 L43,222.9 C50,223 53.5,223.6 54,226.1 C53.6,228.6 50,229.5 40,229.6 C31,229.5 26,228.8 25.6,226.2 Z" fill="#2ea7ba"/>
<ellipse cx="27.6" cy="226" rx="2" ry="1.4" fill="#0f2a30"/>
<ellipse cx="52.2" cy="226" rx="2" ry="1.4" fill="#0f2a30"/>
<line x1="28.00" y1="225.80" x2="52.00" y2="225.80" stroke="#1d4f58" stroke-width="0.6"/>
<circle cx="36.60" cy="222.30" r="1.0" fill="#2ea7ba"/>
<circle cx="39.00" cy="221.60" r="1.1" fill="#2ea7ba"/>
<circle cx="41.60" cy="221.00" r="1.0" fill="#1d5560"/>
<circle cx="42.20" cy="219.40" r="0.9" fill="#143a44"/>
<circle cx="43.00" cy="218.60" r="0.7" fill="#143a44"/>
<text x="105.50" y="139.40" font-size="6.5" font-weight="bold" fill="#111" >C</text>
<line x1="125.20" y1="145.00" x2="125.20" y2="232.10" stroke="#555" stroke-width="0.8"/>
<line x1="125.20" y1="232.10" x2="202.50" y2="232.10" stroke="#555" stroke-width="0.8"/>
<line x1="123.40" y1="228.10" x2="125.20" y2="228.10" stroke="#444" stroke-width="0.6"/>
<text x="122.40" y="229.70" font-size="4.7" text-anchor="end" fill="#1a1a1a" >0</text>
<line x1="123.40" y1="213.35" x2="125.20" y2="213.35" stroke="#444" stroke-width="0.6"/>
<text x="122.40" y="214.95" font-size="4.7" text-anchor="end" fill="#1a1a1a" >1</text>
<line x1="123.40" y1="198.60" x2="125.20" y2="198.60" stroke="#444" stroke-width="0.6"/>
<text x="122.40" y="200.20" font-size="4.7" text-anchor="end" fill="#1a1a1a" >2</text>
<line x1="123.40" y1="183.85" x2="125.20" y2="183.85" stroke="#444" stroke-width="0.6"/>
<text x="122.40" y="185.45" font-size="4.7" text-anchor="end" fill="#1a1a1a" >3</text>
<line x1="123.40" y1="169.10" x2="125.20" y2="169.10" stroke="#444" stroke-width="0.6"/>
<text x="122.40" y="170.70" font-size="4.7" text-anchor="end" fill="#1a1a1a" >4</text>
<line x1="123.40" y1="154.35" x2="125.20" y2="154.35" stroke="#444" stroke-width="0.6"/>
<text x="122.40" y="155.95" font-size="4.7" text-anchor="end" fill="#1a1a1a" >5</text>
<g transform="translate(111.0,188.6) rotate(-90)"><text x="0" y="0" font-size="4.9" text-anchor="middle" fill="#1a1a1a" font-family="Liberation Sans, sans-serif" textLength="68" lengthAdjust="spacingAndGlyphs">The expression of AC022784.1</text></g>
<g transform="translate(114.6,187.9) rotate(-90)"><text x="0" y="0" font-size="4.9" text-anchor="middle" fill="#1a1a1a" font-family="Liberation Sans, sans-serif" textLength="34" lengthAdjust="spacingAndGlyphs">Log<tspan font-size="3.4" dy="1.1">2</tspan><tspan dy="-1.1"> (TPM+1)</tspan></text></g>
<line x1="146.40" y1="232.10" x2="146.40" y2="234.10" stroke="#444" stroke-width="0.6"/>
<text x="146.40" y="239.20" font-size="5.0" text-anchor="middle" fill="#1a1a1a" >Normal</text>
<line x1="181.60" y1="232.10" x2="181.60" y2="234.10" stroke="#444" stroke-width="0.6"/>
<text x="181.60" y="239.20" font-size="5.0" text-anchor="middle" fill="#1a1a1a" >Tumor</text>
<line x1="146.60" y1="148.90" x2="181.90" y2="148.90" stroke="#333" stroke-width="0.6"/>
<line x1="146.60" y1="148.90" x2="146.60" y2="150.60" stroke="#333" stroke-width="0.6"/>
<line x1="181.90" y1="148.90" x2="181.90" y2="150.60" stroke="#333" stroke-width="0.6"/>
<text x="164.20" y="150.40" font-size="4.6" text-anchor="middle" fill="#222" >***</text>
<line x1="146.50" y1="220.58" x2="181.50" y2="195.17" stroke="#000" stroke-width="0.62"/>
<line x1="146.50" y1="218.20" x2="181.50" y2="179.80" stroke="#000" stroke-width="0.62"/>
<line x1="146.50" y1="218.97" x2="181.50" y2="181.44" stroke="#000" stroke-width="0.62"/>
<line x1="146.50" y1="228.04" x2="181.50" y2="212.47" stroke="#000" stroke-width="0.62"/>
<line x1="146.50" y1="216.11" x2="181.50" y2="201.51" stroke="#000" stroke-width="0.62"/>
<line x1="146.50" y1="216.71" x2="181.50" y2="226.47" stroke="#000" stroke-width="0.62"/>
<line x1="146.50" y1="222.65" x2="181.50" y2="222.45" stroke="#000" stroke-width="0.62"/>
<line x1="146.50" y1="221.65" x2="181.50" y2="206.26" stroke="#000" stroke-width="0.62"/>
<line x1="146.50" y1="228.19" x2="181.50" y2="223.50" stroke="#000" stroke-width="0.62"/>
<line x1="146.50" y1="225.10" x2="181.50" y2="181.93" stroke="#000" stroke-width="0.62"/>
<line x1="146.50" y1="218.61" x2="181.50" y2="225.28" stroke="#000" stroke-width="0.62"/>
<line x1="146.50" y1="218.17" x2="181.50" y2="225.85" stroke="#000" stroke-width="0.62"/>
<line x1="146.50" y1="220.65" x2="181.50" y2="226.15" stroke="#000" stroke-width="0.62"/>
<line x1="146.50" y1="228.29" x2="181.50" y2="185.50" stroke="#000" stroke-width="0.62"/>
<line x1="146.50" y1="225.97" x2="181.50" y2="223.54" stroke="#000" stroke-width="0.62"/>
<line x1="146.50" y1="215.55" x2="181.50" y2="185.42" stroke="#000" stroke-width="0.62"/>
<line x1="146.50" y1="224.98" x2="181.50" y2="178.23" stroke="#000" stroke-width="0.62"/>
<line x1="146.50" y1="221.71" x2="181.50" y2="199.60" stroke="#000" stroke-width="0.62"/>
<line x1="146.50" y1="226.03" x2="181.50" y2="179.93" stroke="#000" stroke-width="0.62"/>
<line x1="146.50" y1="219.65" x2="181.50" y2="177.81" stroke="#000" stroke-width="0.62"/>
<line x1="146.50" y1="216.81" x2="181.50" y2="220.41" stroke="#000" stroke-width="0.62"/>
<line x1="146.50" y1="224.06" x2="181.50" y2="225.10" stroke="#000" stroke-width="0.62"/>
<line x1="146.50" y1="226.74" x2="181.50" y2="227.43" stroke="#000" stroke-width="0.62"/>
<line x1="146.50" y1="224.83" x2="181.50" y2="204.46" stroke="#000" stroke-width="0.62"/>
<line x1="146.50" y1="228.28" x2="181.50" y2="199.59" stroke="#000" stroke-width="0.62"/>
<line x1="146.50" y1="224.36" x2="181.50" y2="219.95" stroke="#000" stroke-width="0.62"/>
<line x1="146.50" y1="217.87" x2="181.50" y2="211.65" stroke="#000" stroke-width="0.62"/>
<line x1="146.50" y1="224.64" x2="181.50" y2="211.62" stroke="#000" stroke-width="0.62"/>
<line x1="146.50" y1="219.45" x2="181.50" y2="227.56" stroke="#000" stroke-width="0.62"/>
<line x1="146.50" y1="215.66" x2="181.50" y2="227.97" stroke="#000" stroke-width="0.62"/>
<line x1="146.50" y1="218.83" x2="181.50" y2="187.55" stroke="#000" stroke-width="0.62"/>
<line x1="146.50" y1="228.14" x2="181.50" y2="191.85" stroke="#000" stroke-width="0.62"/>
<line x1="146.50" y1="223.99" x2="181.50" y2="205.98" stroke="#000" stroke-width="0.62"/>
<line x1="146.50" y1="228.23" x2="181.50" y2="227.71" stroke="#000" stroke-width="0.62"/>
<line x1="146.50" y1="226.32" x2="181.50" y2="178.76" stroke="#000" stroke-width="0.62"/>
<line x1="146.50" y1="226.13" x2="181.50" y2="194.18" stroke="#000" stroke-width="0.62"/>
<line x1="146.50" y1="216.30" x2="181.50" y2="179.84" stroke="#000" stroke-width="0.62"/>
<line x1="146.50" y1="224.28" x2="181.50" y2="217.98" stroke="#000" stroke-width="0.62"/>
<line x1="146.50" y1="221.90" x2="181.50" y2="192.74" stroke="#000" stroke-width="0.62"/>
<line x1="146.50" y1="227.18" x2="181.50" y2="194.70" stroke="#000" stroke-width="0.62"/>
<line x1="146.50" y1="218.17" x2="181.50" y2="186.41" stroke="#000" stroke-width="0.62"/>
<line x1="146.50" y1="227.96" x2="181.50" y2="179.53" stroke="#000" stroke-width="0.62"/>
<line x1="146.50" y1="227.37" x2="181.50" y2="218.62" stroke="#000" stroke-width="0.62"/>
<line x1="146.50" y1="220.74" x2="181.50" y2="181.79" stroke="#000" stroke-width="0.62"/>
<line x1="146.50" y1="224.33" x2="181.50" y2="181.29" stroke="#000" stroke-width="0.62"/>
<line x1="146.50" y1="221.63" x2="181.50" y2="219.84" stroke="#000" stroke-width="0.62"/>
<line x1="146.50" y1="224.63" x2="181.50" y2="224.76" stroke="#000" stroke-width="0.62"/>
<line x1="146.50" y1="227.51" x2="181.50" y2="225.58" stroke="#000" stroke-width="0.62"/>
<line x1="146.50" y1="219.67" x2="181.50" y2="175.28" stroke="#000" stroke-width="0.62"/>
<line x1="146.50" y1="226.55" x2="181.50" y2="227.68" stroke="#000" stroke-width="0.62"/>
<line x1="146.50" y1="215.49" x2="181.50" y2="208.67" stroke="#000" stroke-width="0.62"/>
<line x1="146.50" y1="223.48" x2="181.50" y2="222.78" stroke="#000" stroke-width="0.62"/>
<line x1="146.50" y1="220.97" x2="181.50" y2="188.97" stroke="#000" stroke-width="0.62"/>
<line x1="146.50" y1="222.82" x2="181.50" y2="214.76" stroke="#000" stroke-width="0.62"/>
<line x1="146.50" y1="227.76" x2="181.50" y2="181.95" stroke="#000" stroke-width="0.62"/>
<line x1="146.50" y1="228.00" x2="181.50" y2="210.94" stroke="#000" stroke-width="0.62"/>
<line x1="146.50" y1="217.59" x2="181.50" y2="226.06" stroke="#000" stroke-width="0.62"/>
<line x1="146.50" y1="219.08" x2="181.50" y2="179.20" stroke="#000" stroke-width="0.62"/>
<line x1="146.50" y1="220.47" x2="181.50" y2="191.83" stroke="#000" stroke-width="0.62"/>
<line x1="146.50" y1="227.19" x2="181.50" y2="214.11" stroke="#000" stroke-width="0.62"/>
<line x1="146.50" y1="226.70" x2="181.50" y2="187.56" stroke="#000" stroke-width="0.62"/>
<line x1="146.50" y1="224.91" x2="181.50" y2="213.13" stroke="#000" stroke-width="0.62"/>
<line x1="146.50" y1="216.31" x2="181.50" y2="149.93" stroke="#000" stroke-width="0.62"/>
<line x1="146.50" y1="218.07" x2="181.50" y2="156.56" stroke="#000" stroke-width="0.62"/>
<line x1="146.50" y1="216.59" x2="181.50" y2="160.25" stroke="#000" stroke-width="0.62"/>
<line x1="146.50" y1="222.86" x2="181.50" y2="163.20" stroke="#000" stroke-width="0.62"/>
<line x1="146.50" y1="222.44" x2="181.50" y2="166.15" stroke="#000" stroke-width="0.62"/>
<line x1="146.50" y1="219.55" x2="181.50" y2="170.57" stroke="#000" stroke-width="0.62"/>
<line x1="146.50" y1="222.55" x2="181.50" y2="173.52" stroke="#000" stroke-width="0.62"/>
<line x1="146.50" y1="214.40" x2="181.50" y2="149.93" stroke="#000" stroke-width="0.62"/>
<rect x="145.2" y="214.0" width="2.6" height="14.6" fill="#2ea7ba"/>
<rect x="180.3" y="194.47" width="2.6" height="1.4" fill="#e06a60"/>
<rect x="180.3" y="179.10" width="2.6" height="1.4" fill="#e06a60"/>
<rect x="180.3" y="180.74" width="2.6" height="1.4" fill="#e06a60"/>
<rect x="180.3" y="211.77" width="2.6" height="1.4" fill="#e06a60"/>
<rect x="180.3" y="200.81" width="2.6" height="1.4" fill="#e06a60"/>
<rect x="180.3" y="225.77" width="2.6" height="1.4" fill="#e06a60"/>
<rect x="180.3" y="221.75" width="2.6" height="1.4" fill="#e06a60"/>
<rect x="180.3" y="205.56" width="2.6" height="1.4" fill="#e06a60"/>
<rect x="180.3" y="222.80" width="2.6" height="1.4" fill="#e06a60"/>
<rect x="180.3" y="181.23" width="2.6" height="1.4" fill="#e06a60"/>
<rect x="180.3" y="224.58" width="2.6" height="1.4" fill="#e06a60"/>
<rect x="180.3" y="225.15" width="2.6" height="1.4" fill="#e06a60"/>
<rect x="180.3" y="225.45" width="2.6" height="1.4" fill="#e06a60"/>
<rect x="180.3" y="184.80" width="2.6" height="1.4" fill="#e06a60"/>
<rect x="180.3" y="222.84" width="2.6" height="1.4" fill="#e06a60"/>
<rect x="180.3" y="184.72" width="2.6" height="1.4" fill="#e06a60"/>
<rect x="180.3" y="177.53" width="2.6" height="1.4" fill="#e06a60"/>
<rect x="180.3" y="198.90" width="2.6" height="1.4" fill="#e06a60"/>
<rect x="180.3" y="179.23" width="2.6" height="1.4" fill="#e06a60"/>
<rect x="180.3" y="177.11" width="2.6" height="1.4" fill="#e06a60"/>
<rect x="180.3" y="219.71" width="2.6" height="1.4" fill="#e06a60"/>
<rect x="180.3" y="224.40" width="2.6" height="1.4" fill="#e06a60"/>
<rect x="180.3" y="226.73" width="2.6" height="1.4" fill="#e06a60"/>
<rect x="180.3" y="203.76" width="2.6" height="1.4" fill="#e06a60"/>
<rect x="180.3" y="198.89" width="2.6" height="1.4" fill="#e06a60"/>
<rect x="180.3" y="219.25" width="2.6" height="1.4" fill="#e06a60"/>
<rect x="180.3" y="210.95" width="2.6" height="1.4" fill="#e06a60"/>
<rect x="180.3" y="210.92" width="2.6" height="1.4" fill="#e06a60"/>
<rect x="180.3" y="226.86" width="2.6" height="1.4" fill="#e06a60"/>
<rect x="180.3" y="227.27" width="2.6" height="1.4" fill="#e06a60"/>
<rect x="180.3" y="186.85" width="2.6" height="1.4" fill="#e06a60"/>
<rect x="180.3" y="191.15" width="2.6" height="1.4" fill="#e06a60"/>
<rect x="180.3" y="205.28" width="2.6" height="1.4" fill="#e06a60"/>
<rect x="180.3" y="227.01" width="2.6" height="1.4" fill="#e06a60"/>
<rect x="180.3" y="178.06" width="2.6" height="1.4" fill="#e06a60"/>
<rect x="180.3" y="193.48" width="2.6" height="1.4" fill="#e06a60"/>
<rect x="180.3" y="179.14" width="2.6" height="1.4" fill="#e06a60"/>
<rect x="180.3" y="217.28" width="2.6" height="1.4" fill="#e06a60"/>
<rect x="180.3" y="192.04" width="2.6" height="1.4" fill="#e06a60"/>
<rect x="180.3" y="194.00" width="2.6" height="1.4" fill="#e06a60"/>
<rect x="180.3" y="185.71" width="2.6" height="1.4" fill="#e06a60"/>
<rect x="180.3" y="178.83" width="2.6" height="1.4" fill="#e06a60"/>
<rect x="180.3" y="217.92" width="2.6" height="1.4" fill="#e06a60"/>
<rect x="180.3" y="181.09" width="2.6" height="1.4" fill="#e06a60"/>
<rect x="180.3" y="180.59" width="2.6" height="1.4" fill="#e06a60"/>
<rect x="180.3" y="219.14" width="2.6" height="1.4" fill="#e06a60"/>
<rect x="180.3" y="224.06" width="2.6" height="1.4" fill="#e06a60"/>
<rect x="180.3" y="224.88" width="2.6" height="1.4" fill="#e06a60"/>
<rect x="180.3" y="174.58" width="2.6" height="1.4" fill="#e06a60"/>
<rect x="180.3" y="226.98" width="2.6" height="1.4" fill="#e06a60"/>
<rect x="180.3" y="207.97" width="2.6" height="1.4" fill="#e06a60"/>
<rect x="180.3" y="222.08" width="2.6" height="1.4" fill="#e06a60"/>
<rect x="180.3" y="188.27" width="2.6" height="1.4" fill="#e06a60"/>
<rect x="180.3" y="214.06" width="2.6" height="1.4" fill="#e06a60"/>
<rect x="180.3" y="181.25" width="2.6" height="1.4" fill="#e06a60"/>
<rect x="180.3" y="210.24" width="2.6" height="1.4" fill="#e06a60"/>
<rect x="180.3" y="225.36" width="2.6" height="1.4" fill="#e06a60"/>
<rect x="180.3" y="178.50" width="2.6" height="1.4" fill="#e06a60"/>
<rect x="180.3" y="191.13" width="2.6" height="1.4" fill="#e06a60"/>
<rect x="180.3" y="213.41" width="2.6" height="1.4" fill="#e06a60"/>
<rect x="180.3" y="186.86" width="2.6" height="1.4" fill="#e06a60"/>
<rect x="180.3" y="212.43" width="2.6" height="1.4" fill="#e06a60"/>
<rect x="180.3" y="149.23" width="2.6" height="1.4" fill="#e06a60"/>
<rect x="180.3" y="155.86" width="2.6" height="1.4" fill="#e06a60"/>
<rect x="180.3" y="159.55" width="2.6" height="1.4" fill="#e06a60"/>
<rect x="180.3" y="162.50" width="2.6" height="1.4" fill="#e06a60"/>
<rect x="180.3" y="165.45" width="2.6" height="1.4" fill="#e06a60"/>
<rect x="180.3" y="169.88" width="2.6" height="1.4" fill="#e06a60"/>
<rect x="180.3" y="172.82" width="2.6" height="1.4" fill="#e06a60"/>
<rect x="180.3" y="149.23" width="2.6" height="1.4" fill="#e06a60"/>
<text x="200.00" y="140.20" font-size="6.5" font-weight="bold" fill="#111" >D</text>
<line x1="219.00" y1="148.40" x2="219.00" y2="230.00" stroke="#111" stroke-width="1.1"/>
<line x1="219.00" y1="230.00" x2="297.00" y2="230.00" stroke="#111" stroke-width="1.3"/>
<line x1="217.00" y1="229.50" x2="219.00" y2="229.50" stroke="#111" stroke-width="0.8"/>
<text x="216.20" y="232.10" font-size="6.0" text-anchor="end" fill="#222"  stroke="#222" stroke-width="0.1">0</text>
<line x1="217.00" y1="213.28" x2="219.00" y2="213.28" stroke="#111" stroke-width="0.8"/>
<text x="216.20" y="215.88" font-size="6.0" text-anchor="end" fill="#222"  stroke="#222" stroke-width="0.1">1</text>
<line x1="217.00" y1="197.06" x2="219.00" y2="197.06" stroke="#111" stroke-width="0.8"/>
<text x="216.20" y="199.66" font-size="6.0" text-anchor="end" fill="#222"  stroke="#222" stroke-width="0.1">2</text>
<line x1="217.00" y1="180.84" x2="219.00" y2="180.84" stroke="#111" stroke-width="0.8"/>
<text x="216.20" y="183.44" font-size="6.0" text-anchor="end" fill="#222"  stroke="#222" stroke-width="0.1">3</text>
<line x1="217.00" y1="164.62" x2="219.00" y2="164.62" stroke="#111" stroke-width="0.8"/>
<text x="216.20" y="167.22" font-size="6.0" text-anchor="end" fill="#222"  stroke="#222" stroke-width="0.1">4</text>
<line x1="217.00" y1="148.40" x2="219.00" y2="148.40" stroke="#111" stroke-width="0.8"/>
<text x="216.20" y="151.00" font-size="6.0" text-anchor="end" fill="#222"  stroke="#222" stroke-width="0.1">5</text>
<g transform="translate(210.4,189.6) rotate(-90)"><text x="0" y="0" font-size="6.4" text-anchor="middle" fill="#222" stroke="#222" stroke-width="0.08" font-family="Liberation Sans, sans-serif" textLength="89" lengthAdjust="spacingAndGlyphs">Relative AC022784 expression</text></g>
<text x="221.80" y="157.50" font-size="6.8" textLength="28.4" lengthAdjust="spacingAndGlyphs" fill="#222"  stroke="#222" stroke-width="0.1">GSE81089</text>
<text x="221.80" y="164.50" font-size="6.8" textLength="23.7" lengthAdjust="spacingAndGlyphs" fill="#222"  stroke="#222" stroke-width="0.1">p&lt;0.0001</text>
<text x="240.80" y="235.60" font-size="6.0" text-anchor="middle" textLength="20" lengthAdjust="spacingAndGlyphs" fill="#222"  stroke="#222" stroke-width="0.1">Normal</text>
<text x="241.50" y="244.50" font-size="6.0" text-anchor="middle" textLength="17.5" lengthAdjust="spacingAndGlyphs" fill="#222"  stroke="#222" stroke-width="0.1">(n=19)</text>
<text x="275.50" y="235.60" font-size="6.0" text-anchor="middle" textLength="30" lengthAdjust="spacingAndGlyphs" fill="#222"  stroke="#222" stroke-width="0.1">Lung cancer</text>
<text x="275.50" y="244.50" font-size="6.0" text-anchor="middle" textLength="22" lengthAdjust="spacingAndGlyphs" fill="#222"  stroke="#222" stroke-width="0.1">(n=118)</text>
<circle cx="240.60" cy="213.40" r="1.5" fill="#111"/>
<path d="M229.9,225.4 Q230.6,223.9 232.2,224.6 Q235.5,226.2 238,225.2 L239.3,223.9 L242.3,223.9 L243.6,225.2 Q246,226.2 249.4,224.6 Q251,223.9 251.7,225.4 Q251.2,227.6 249,229.6 L232.6,229.6 Q230.3,227.6 229.9,225.4 Z" fill="#111"/>
<line x1="235.80" y1="223.40" x2="246.00" y2="223.40" stroke="#111" stroke-width="0.9"/>
<line x1="240.80" y1="222.00" x2="240.80" y2="224.00" stroke="#111" stroke-width="0.8"/>
<circle cx="271.70" cy="192.00" r="1.6" fill="#e3151f"/>
<circle cx="276.00" cy="194.10" r="1.6" fill="#e3151f"/>
<circle cx="273.80" cy="163.70" r="1.6" fill="#e3151f"/>
<circle cx="271.80" cy="171.20" r="1.6" fill="#e3151f"/>
<circle cx="276.20" cy="169.10" r="1.6" fill="#e3151f"/>
<circle cx="269.30" cy="179.30" r="1.6" fill="#e3151f"/>
<circle cx="273.80" cy="180.30" r="1.6" fill="#e3151f"/>
<circle cx="278.30" cy="178.90" r="1.6" fill="#e3151f"/>
<circle cx="265.10" cy="184.00" r="1.6" fill="#e3151f"/>
<circle cx="268.70" cy="185.40" r="1.6" fill="#e3151f"/>
<circle cx="271.80" cy="186.40" r="1.6" fill="#e3151f"/>
<circle cx="275.80" cy="186.00" r="1.6" fill="#e3151f"/>
<circle cx="278.90" cy="186.00" r="1.6" fill="#e3151f"/>
<circle cx="282.50" cy="185.40" r="1.6" fill="#e3151f"/>
<circle cx="267.30" cy="189.40" r="1.6" fill="#e3151f"/>
<circle cx="271.40" cy="191.00" r="1.6" fill="#e3151f"/>
<circle cx="280.50" cy="190.50" r="1.6" fill="#e3151f"/>
<circle cx="275.80" cy="194.10" r="1.6" fill="#e3151f"/>
<circle cx="265.20" cy="200.30" r="1.6" fill="#e3151f"/>
<circle cx="268.20" cy="201.80" r="1.6" fill="#e3151f"/>
<circle cx="271.20" cy="203.20" r="1.6" fill="#e3151f"/>
<circle cx="274.20" cy="203.80" r="1.6" fill="#e3151f"/>
<circle cx="277.20" cy="203.20" r="1.6" fill="#e3151f"/>
<circle cx="280.20" cy="201.80" r="1.6" fill="#e3151f"/>
<circle cx="283.00" cy="200.60" r="1.6" fill="#e3151f"/>
<polyline points="265.20,205.95 274.2,208.20 283.20,205.95" fill="none" stroke="#e3151f" stroke-width="3.6" stroke-linecap="round" stroke-linejoin="round"/>
<circle cx="265.20" cy="205.95" r="1.7" fill="#e3151f"/>
<circle cx="268.20" cy="206.70" r="1.7" fill="#e3151f"/>
<circle cx="271.20" cy="207.45" r="1.7" fill="#e3151f"/>
<circle cx="274.20" cy="208.20" r="1.7" fill="#e3151f"/>
<circle cx="277.20" cy="207.45" r="1.7" fill="#e3151f"/>
<circle cx="280.20" cy="206.70" r="1.7" fill="#e3151f"/>
<circle cx="283.20" cy="205.95" r="1.7" fill="#e3151f"/>
<polyline points="264.40,210.75 274.2,213.20 284.00,210.75" fill="none" stroke="#e3151f" stroke-width="3.6" stroke-linecap="round" stroke-linejoin="round"/>
<circle cx="264.40" cy="210.75" r="1.7" fill="#e3151f"/>
<circle cx="267.67" cy="211.57" r="1.7" fill="#e3151f"/>
<circle cx="270.93" cy="212.38" r="1.7" fill="#e3151f"/>
<circle cx="274.20" cy="213.20" r="1.7" fill="#e3151f"/>
<circle cx="277.47" cy="212.38" r="1.7" fill="#e3151f"/>
<circle cx="280.73" cy="211.57" r="1.7" fill="#e3151f"/>
<circle cx="284.00" cy="210.75" r="1.7" fill="#e3151f"/>
<polyline points="264.40,215.55 274.2,218.00 284.00,215.55" fill="none" stroke="#e3151f" stroke-width="3.6" stroke-linecap="round" stroke-linejoin="round"/>
<circle cx="264.40" cy="215.55" r="1.7" fill="#e3151f"/>
<circle cx="267.67" cy="216.37" r="1.7" fill="#e3151f"/>
<circle cx="270.93" cy="217.18" r="1.7" fill="#e3151f"/>
<circle cx="274.20" cy="218.00" r="1.7" fill="#e3151f"/>
<circle cx="277.47" cy="217.18" r="1.7" fill="#e3151f"/>
<circle cx="280.73" cy="216.37" r="1.7" fill="#e3151f"/>
<circle cx="284.00" cy="215.55" r="1.7" fill="#e3151f"/>
<polyline points="264.80,220.45 274.2,222.80 283.60,220.45" fill="none" stroke="#e3151f" stroke-width="3.6" stroke-linecap="round" stroke-linejoin="round"/>
<circle cx="264.80" cy="220.45" r="1.7" fill="#e3151f"/>
<circle cx="267.93" cy="221.23" r="1.7" fill="#e3151f"/>
<circle cx="271.07" cy="222.02" r="1.7" fill="#e3151f"/>
<circle cx="274.20" cy="222.80" r="1.7" fill="#e3151f"/>
<circle cx="277.33" cy="222.02" r="1.7" fill="#e3151f"/>
<circle cx="280.47" cy="221.23" r="1.7" fill="#e3151f"/>
<circle cx="283.60" cy="220.45" r="1.7" fill="#e3151f"/>
<polyline points="267,225.6 274.2,227 281.4,225.6" fill="none" stroke="#e3151f" stroke-width="2.6" stroke-linecap="round"/>
<line x1="268.30" y1="197.60" x2="279.40" y2="197.60" stroke="#e3151f" stroke-width="0.9"/>
<line x1="273.80" y1="197.60" x2="273.80" y2="203.00" stroke="#e3151f" stroke-width="0.9"/>
<text x="300.00" y="139.60" font-size="6.5" font-weight="bold" fill="#111" >E</text>
<line x1="319.20" y1="148.30" x2="319.20" y2="231.60" stroke="#111" stroke-width="1.1"/>
<line x1="319.20" y1="231.50" x2="397.00" y2="231.50" stroke="#111" stroke-width="1.3"/>
<line x1="317.20" y1="231.40" x2="319.20" y2="231.40" stroke="#111" stroke-width="0.8"/>
<text x="316.80" y="234.20" font-size="6.0" text-anchor="end" fill="#222"  stroke="#222" stroke-width="0.1">0</text>
<line x1="317.20" y1="210.60" x2="319.20" y2="210.60" stroke="#111" stroke-width="0.8"/>
<text x="316.80" y="213.40" font-size="6.0" text-anchor="end" fill="#222"  stroke="#222" stroke-width="0.1">5</text>
<line x1="317.20" y1="189.80" x2="319.20" y2="189.80" stroke="#111" stroke-width="0.8"/>
<text x="316.80" y="192.60" font-size="6.0" text-anchor="end" fill="#222"  stroke="#222" stroke-width="0.1">10</text>
<line x1="317.20" y1="169.00" x2="319.20" y2="169.00" stroke="#111" stroke-width="0.8"/>
<text x="316.80" y="171.80" font-size="6.0" text-anchor="end" fill="#222"  stroke="#222" stroke-width="0.1">15</text>
<line x1="317.20" y1="148.20" x2="319.20" y2="148.20" stroke="#111" stroke-width="0.8"/>
<text x="316.80" y="151.00" font-size="6.0" text-anchor="end" fill="#222"  stroke="#222" stroke-width="0.1">20</text>
<line x1="342.00" y1="231.50" x2="342.00" y2="233.50" stroke="#111" stroke-width="0.8"/>
<line x1="376.40" y1="231.50" x2="376.40" y2="233.50" stroke="#111" stroke-width="0.8"/>
<g transform="translate(308.6,189.8) rotate(-90)"><text x="0" y="0" font-size="6.6" text-anchor="middle" fill="#222" stroke="#222" stroke-width="0.08" font-family="Liberation Sans, sans-serif" textLength="91.5" lengthAdjust="spacingAndGlyphs">Relative AC022784 expression</text></g>
<text x="322.60" y="159.20" font-size="6.5" textLength="40" lengthAdjust="spacingAndGlyphs" fill="#222"  stroke="#222" stroke-width="0.1">Clinical samples</text>
<text x="322.60" y="166.70" font-size="6.5" textLength="24" lengthAdjust="spacingAndGlyphs" fill="#222"  stroke="#222" stroke-width="0.1">p&lt;0.0001</text>
<text x="341.80" y="239.90" font-size="6.2" text-anchor="middle" textLength="17.5" lengthAdjust="spacingAndGlyphs" fill="#222"  stroke="#222" stroke-width="0.1">Normal</text>
<text x="376.30" y="239.90" font-size="6.2" text-anchor="middle" textLength="29.5" lengthAdjust="spacingAndGlyphs" fill="#222"  stroke="#222" stroke-width="0.1">Lung cancer</text>
<circle cx="376.40" cy="159.70" r="1.6" fill="#e3151f"/>
<circle cx="374.40" cy="174.00" r="1.6" fill="#e3151f"/>
<circle cx="378.90" cy="178.40" r="1.6" fill="#e3151f"/>
<circle cx="378.90" cy="184.50" r="1.6" fill="#e3151f"/>
<circle cx="373.80" cy="187.60" r="1.6" fill="#e3151f"/>
<circle cx="374.40" cy="206.20" r="1.6" fill="#e3151f"/>
<circle cx="377.90" cy="206.20" r="1.6" fill="#e3151f"/>
<circle cx="368.70" cy="211.20" r="1.6" fill="#e3151f"/>
<circle cx="385.00" cy="210.20" r="1.6" fill="#e3151f"/>
<circle cx="373.20" cy="213.70" r="1.6" fill="#e3151f"/>
<circle cx="380.90" cy="213.70" r="1.6" fill="#e3151f"/>
<circle cx="367.10" cy="216.30" r="1.6" fill="#e3151f"/>
<circle cx="372.40" cy="219.00" r="1.6" fill="#e3151f"/>
<circle cx="376.40" cy="216.90" r="1.6" fill="#e3151f"/>
<circle cx="381.30" cy="219.00" r="1.6" fill="#e3151f"/>
<circle cx="385.00" cy="216.30" r="1.6" fill="#e3151f"/>
<circle cx="370.80" cy="220.40" r="1.6" fill="#e3151f"/>
<circle cx="374.40" cy="221.40" r="1.6" fill="#e3151f"/>
<circle cx="378.90" cy="221.40" r="1.6" fill="#e3151f"/>
<line x1="365.00" y1="204.50" x2="388.00" y2="204.50" stroke="#111" stroke-width="0.9"/>
<line x1="376.40" y1="186.50" x2="376.40" y2="222.40" stroke="#e3151f" stroke-width="0.9"/>
<line x1="370.80" y1="186.50" x2="382.00" y2="186.50" stroke="#e3151f" stroke-width="0.9"/>
<line x1="371.80" y1="222.40" x2="381.00" y2="222.40" stroke="#e3151f" stroke-width="0.9"/>
<circle cx="334.90" cy="222.00" r="1.55" fill="#111"/>
<circle cx="339.80" cy="221.20" r="1.55" fill="#111"/>
<circle cx="344.30" cy="221.60" r="1.55" fill="#111"/>
<circle cx="349.00" cy="223.20" r="1.55" fill="#111"/>
<circle cx="337.40" cy="223.80" r="1.55" fill="#111"/>
<circle cx="342.00" cy="223.60" r="1.55" fill="#111"/>
<circle cx="346.50" cy="224.20" r="1.55" fill="#111"/>
<circle cx="342.00" cy="225.80" r="1.55" fill="#111"/>
<circle cx="338.80" cy="225.80" r="1.55" fill="#111"/>
<circle cx="345.20" cy="225.80" r="1.55" fill="#111"/>
<circle cx="342.00" cy="227.60" r="1.55" fill="#111"/>
<path d="M330.9,226.3 Q335,225 339,226.5 L342,224.5 L345,226.5 Q349,225 353.2,226.3 Q350,229 345,229 L342,230.2 L339,229 Q334,229 330.9,226.3 Z" fill="#111"/>
</svg></body></html>
